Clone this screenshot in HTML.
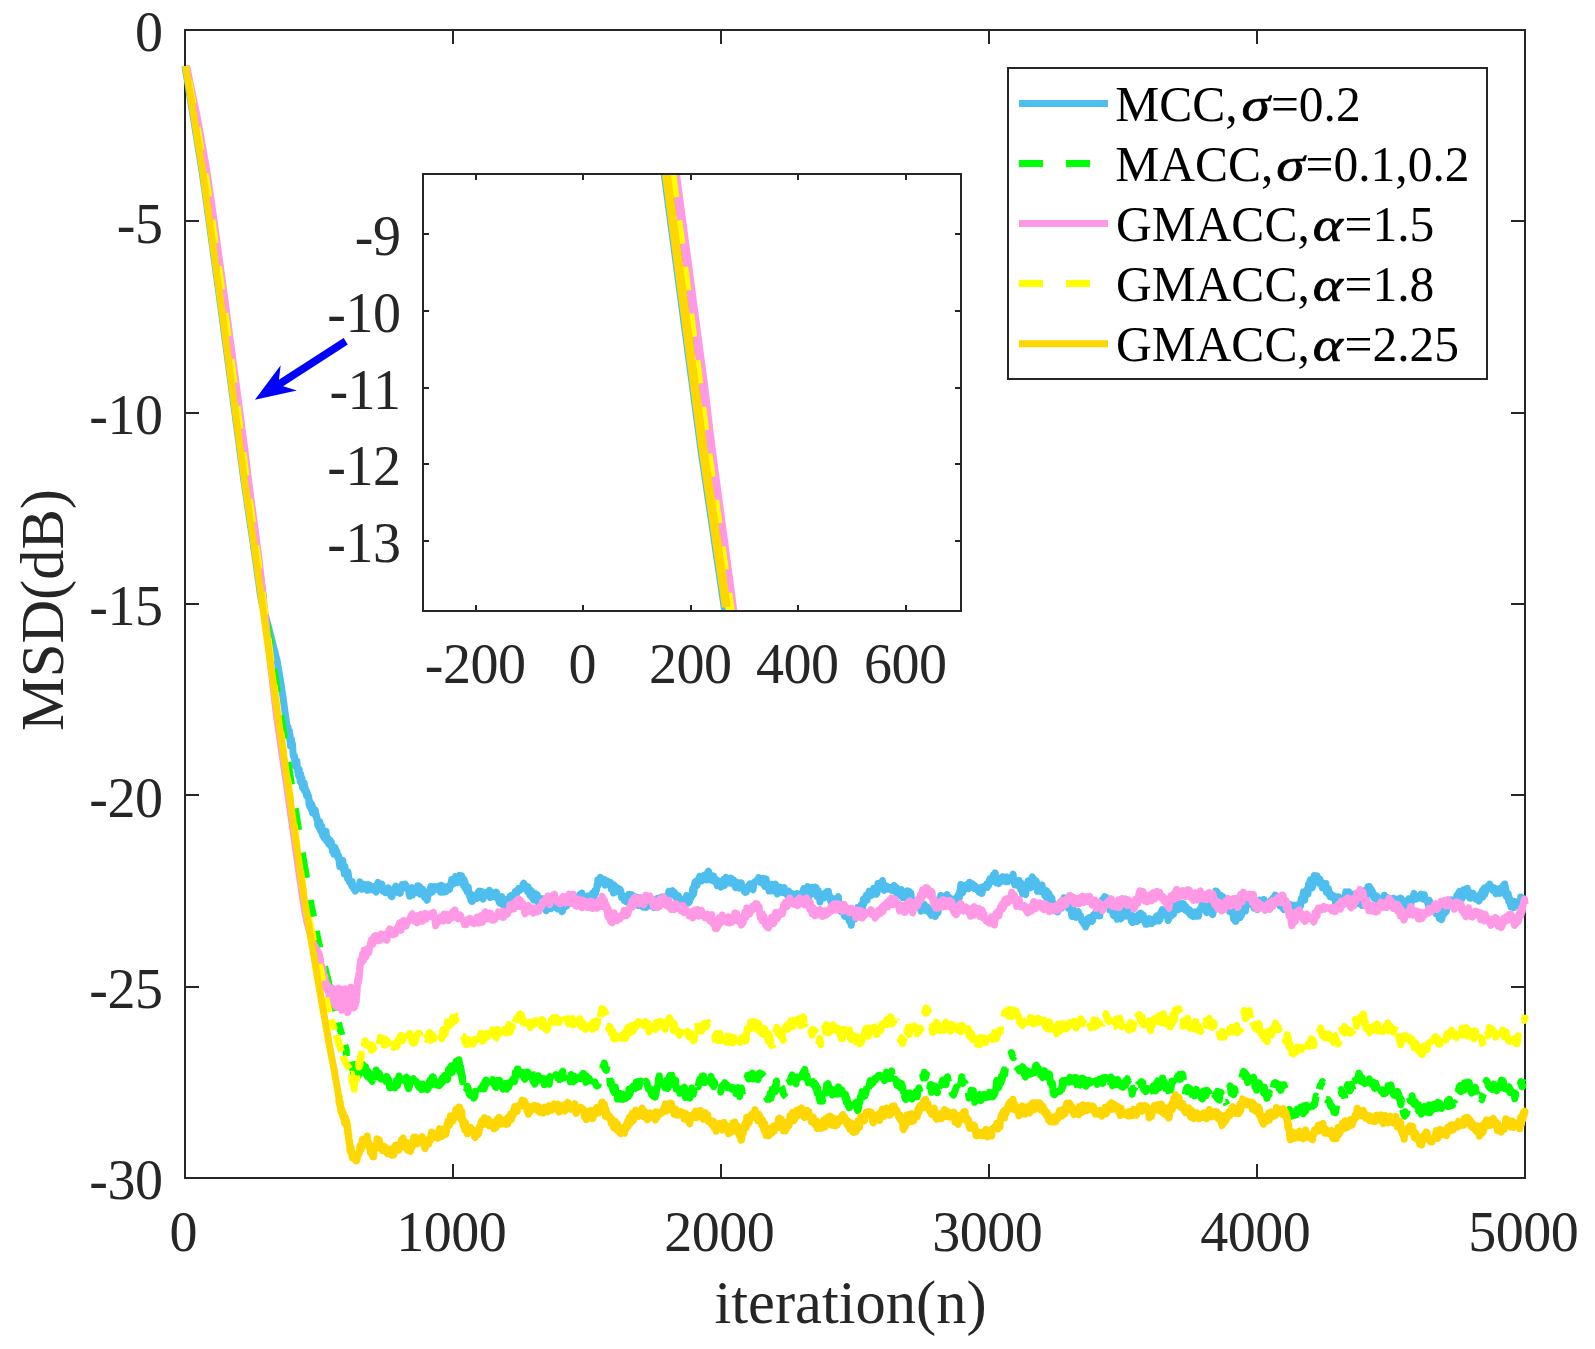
<!DOCTYPE html>
<html lang="en"><head><meta charset="utf-8"><title>MSD learning curves</title>
<style>html,body{margin:0;padding:0;background:#fff}svg{display:block}</style>
</head><body>
<svg width="1595" height="1349" viewBox="0 0 1595 1349" role="img" aria-label="MSD(dB) versus iteration(n) learning curves">
<defs><clipPath id="cm"><rect x="181.0" y="30.0" width="1348.0" height="1148.0"/></clipPath>
<clipPath id="ci"><rect x="423.0" y="174.0" width="538.0" height="437.0"/></clipPath></defs>
<rect x="0" y="0" width="1595" height="1349" fill="#ffffff"/>
<g stroke="#262626" stroke-width="2" fill="none">
<rect x="185.0" y="30.0" width="1340.0" height="1148.0"/>
<path d="M453.0 1178.0v-14.0M453.0 30.0v14.0M721.0 1178.0v-14.0M721.0 30.0v14.0M989.0 1178.0v-14.0M989.0 30.0v14.0M1257.0 1178.0v-14.0M1257.0 30.0v14.0M185.0 987.0h14.0M1525.0 987.0h-14.0M185.0 795.0h14.0M1525.0 795.0h-14.0M185.0 604.0h14.0M1525.0 604.0h-14.0M185.0 413.0h14.0M1525.0 413.0h-14.0M185.0 221.0h14.0M1525.0 221.0h-14.0"/>
</g>
<g clip-path="url(#cm)" fill="none" stroke-width="7.0" stroke-linejoin="round">
<polyline stroke="#4DBEEE" points="185.0,66.1 186.3,74.1 187.6,82.1 188.9,90.1 190.2,98.1 191.5,106.1 192.8,114.1 194.1,122.1 195.4,130.1 196.7,138.1 198.0,146.1 199.3,154.1 200.6,162.1 201.9,170.1 203.0,178.1 204.2,186.1 205.3,194.1 206.4,202.1 207.5,210.1 208.6,218.1 209.7,226.1 210.8,234.1 211.9,242.1 213.0,250.1 214.1,258.1 215.2,266.1 216.3,274.1 217.4,282.1 218.5,290.1 219.6,298.1 220.7,306.1 221.7,314.1 222.8,322.1 223.9,330.1 224.9,338.1 226.0,346.1 227.1,354.1 228.1,362.1 229.2,370.1 230.3,378.1 231.3,386.1 232.4,394.1 233.4,402.1 234.5,410.1 235.6,418.1 236.6,426.1 237.7,434.1 238.8,442.1 239.8,450.1 240.9,458.1 242.0,466.1 243.0,474.1 244.1,482.1 245.3,490.1 246.5,498.1 247.6,506.1 248.8,514.1 250.0,522.1 251.2,530.1 252.4,538.1 253.5,546.1 254.7,554.1 255.9,562.1 257.0,570.1 258.1,578.1 259.2,586.1 260.3,594.1 261.7,602.1 263.9,610.1 266.2,618.1 268.3,626.1 270.4,634.1 272.4,642.1 274.4,650.1 276.5,658.1 277.2,661.0 281.4,686.0 286.7,724.0 286.9,725.4 287.1,730.1 287.4,727.6 287.6,728.2 287.8,729.8 288.0,727.0 288.3,730.2 288.5,732.9 288.7,735.9 288.9,730.6 289.2,732.1 289.4,731.1 289.6,738.5 289.8,740.0 290.0,734.8 290.3,743.3 290.5,746.0 290.7,744.4 290.9,744.3 291.2,740.7 291.4,739.1 291.6,744.4 291.8,741.9 292.0,743.3 292.3,744.9 292.5,744.0 292.7,748.6 292.9,750.3 293.2,755.3 293.4,754.2 293.6,755.8 293.8,755.6 294.1,757.8 294.3,757.1 294.6,756.0 294.9,763.3 295.2,765.8 295.5,765.7 295.7,765.1 296.0,761.9 296.3,761.0 296.6,762.1 296.9,760.9 297.2,768.1 297.5,767.1 297.8,771.8 298.1,769.3 298.3,774.9 298.6,775.9 298.9,768.8 299.2,769.7 299.5,777.4 299.8,775.8 300.1,781.0 300.4,777.4 300.7,774.2 300.9,779.4 301.2,782.8 301.5,779.5 301.8,777.7 302.2,780.3 302.5,787.7 302.9,788.2 303.3,782.9 303.6,783.6 304.0,783.0 304.3,783.2 304.7,791.0 305.1,787.7 305.4,791.2 305.8,791.8 306.1,790.1 306.5,795.6 306.9,791.9 307.2,796.6 307.6,793.4 308.0,796.2 308.3,795.6 308.7,796.7 309.0,804.4 309.4,805.5 309.8,801.6 310.1,806.9 310.5,802.5 310.9,803.8 311.3,809.3 311.7,809.3 312.1,804.8 312.5,812.9 312.9,808.1 313.3,808.0 313.7,813.6 314.1,811.5 314.5,811.3 314.9,809.8 315.4,810.3 315.8,815.8 316.2,814.6 316.6,818.4 317.0,817.9 317.4,819.2 317.8,825.1 318.2,822.7 318.6,823.6 319.0,827.4 319.4,822.4 319.8,821.6 320.2,829.3 320.6,831.0 321.1,826.7 321.6,825.7 322.1,831.3 322.6,835.3 323.1,829.8 323.6,836.3 324.1,838.0 324.6,836.4 325.1,834.9 325.6,832.1 326.1,831.4 326.6,840.8 327.1,836.8 327.6,840.9 328.1,838.3 328.6,843.8 329.1,843.6 329.6,841.3 330.1,840.2 330.6,845.8 331.1,841.6 331.6,842.8 332.0,846.9 332.5,851.4 333.0,850.9 333.5,848.2 334.0,854.3 334.5,849.7 335.0,847.3 335.5,849.8 335.9,852.8 336.4,850.5 336.9,851.7 337.4,854.5 337.9,857.8 338.4,855.1 338.9,857.3 339.3,863.5 339.8,866.6 340.3,864.9 340.8,865.5 341.4,865.2 341.9,861.6 342.4,860.3 342.9,860.4 343.4,869.7 343.9,870.6 344.4,874.0 344.9,866.5 345.4,871.1 345.9,871.5 346.4,874.6 347.0,872.1 347.5,878.6 348.0,872.0 348.5,875.5 349.0,878.9 349.5,882.0 350.0,881.8 350.5,882.1 351.1,883.6 351.6,885.8 352.1,881.6 352.7,884.4 353.2,887.8 353.7,889.0 354.3,885.6 354.8,888.9 355.3,891.1 355.8,889.5 356.6,889.3 357.5,886.4 358.3,887.2 359.2,887.3 360.0,881.9 360.9,885.5 361.8,889.4 362.6,888.9 363.5,887.3 364.2,884.3 365.0,887.4 365.8,887.2 366.5,886.2 367.3,890.3 368.1,884.6 368.8,890.0 369.6,884.9 370.4,889.6 371.3,889.1 372.3,886.4 373.2,889.9 374.2,888.7 375.1,889.2 376.1,892.1 377.0,886.2 378.0,882.4 379.0,884.4 380.0,888.6 380.9,885.2 381.9,884.2 382.9,891.1 383.9,890.6 384.9,888.6 385.8,892.8 386.7,888.8 387.5,891.4 388.4,887.9 389.3,889.6 390.2,893.9 391.1,896.4 392.0,896.7 392.9,891.5 393.8,891.8 394.7,889.0 395.6,886.2 396.5,888.6 397.4,892.2 398.3,892.8 399.2,891.5 400.2,893.3 401.2,887.2 402.2,884.5 403.2,886.4 404.1,885.1 405.1,884.1 406.1,885.8 406.8,888.9 407.5,889.0 408.2,887.8 408.9,893.1 409.6,896.3 410.3,892.5 411.0,888.5 411.7,887.6 412.5,895.0 413.4,888.4 414.3,892.8 415.1,892.2 416.0,889.2 416.8,892.6 417.7,885.7 418.4,885.8 419.1,889.4 419.8,886.7 420.5,894.3 421.2,891.1 422.0,889.9 422.7,889.2 423.4,895.1 424.1,895.4 424.8,897.8 425.5,898.0 426.3,899.0 427.1,900.2 427.8,897.4 428.6,891.6 429.4,892.3 430.2,889.1 430.9,886.3 431.7,889.5 432.5,892.1 433.2,887.2 434.0,886.4 434.8,886.4 435.6,889.4 436.4,887.9 437.1,888.0 437.9,888.9 438.8,886.3 439.6,889.8 440.5,892.2 441.4,885.3 442.2,892.1 443.1,892.2 443.9,886.8 444.6,887.8 445.3,889.1 446.0,891.7 446.7,886.7 447.5,886.7 448.2,889.2 448.9,888.5 449.6,889.2 450.3,884.2 451.0,884.3 451.7,879.5 452.5,882.8 453.3,884.1 454.0,882.2 454.8,882.0 455.5,876.6 456.3,881.3 457.1,882.8 457.8,882.7 458.6,877.9 459.3,878.7 459.8,875.4 460.3,880.9 460.8,882.4 461.3,878.6 461.7,875.7 462.2,879.1 462.7,881.7 463.2,885.1 463.6,883.9 464.1,879.8 464.6,887.0 465.1,882.3 465.6,888.8 466.0,885.1 466.5,886.4 467.1,891.6 467.6,887.4 468.2,887.0 468.7,891.1 469.3,894.7 469.9,897.3 470.4,897.2 471.0,900.2 471.5,897.3 472.1,901.5 472.6,894.9 473.2,895.2 473.8,898.3 474.4,896.0 475.0,899.0 475.7,898.3 476.3,896.5 477.0,898.5 477.6,895.7 478.3,892.1 478.9,891.3 479.5,895.0 480.4,897.1 481.3,891.3 482.2,896.4 483.1,899.1 484.0,895.8 484.9,895.8 485.8,892.6 486.7,895.3 487.6,895.1 488.6,895.8 489.5,890.2 490.4,897.5 491.3,894.7 492.3,892.6 493.1,896.3 494.0,895.5 494.8,895.0 495.6,897.2 496.5,892.1 497.3,895.8 498.1,896.0 499.0,901.6 499.8,903.2 500.5,897.8 501.2,899.0 501.9,896.5 502.6,899.3 503.3,904.3 504.0,906.8 504.7,903.9 505.4,902.2 506.2,900.1 507.0,903.1 507.7,906.3 508.5,899.0 509.3,902.9 510.0,896.1 510.8,895.6 511.6,895.3 512.3,899.2 513.1,896.1 513.8,895.1 514.5,896.9 515.2,891.9 515.9,896.1 516.6,890.8 517.3,892.6 518.0,890.1 518.7,888.4 519.4,890.7 520.1,889.8 520.8,888.5 521.6,887.9 522.3,888.4 523.0,884.4 523.7,883.3 524.4,886.6 525.1,887.0 525.8,885.6 526.4,889.3 527.0,888.5 527.5,891.3 528.1,886.6 528.7,890.9 529.3,893.3 529.9,895.4 530.4,890.9 531.0,890.4 531.6,896.7 532.3,892.0 533.0,898.9 533.7,900.0 534.4,893.6 535.1,893.6 535.8,898.8 536.5,896.1 537.2,894.4 537.9,901.6 538.7,900.0 539.5,903.5 540.3,898.4 541.1,900.2 542.0,903.8 542.8,898.7 543.6,899.6 544.4,904.9 545.3,908.8 546.1,910.7 547.1,903.2 548.0,905.3 549.0,908.4 549.9,907.0 550.9,908.7 551.8,904.5 552.8,902.6 553.7,902.6 554.7,902.1 555.7,907.1 556.7,908.1 557.7,909.0 558.7,905.3 559.5,904.4 560.3,903.8 561.1,909.3 561.8,911.6 562.6,911.2 563.4,902.6 564.2,899.6 565.0,907.0 565.9,903.9 566.8,905.8 567.8,901.8 568.7,901.8 569.6,902.0 570.5,901.0 571.5,902.1 572.4,896.4 573.3,901.3 574.3,903.7 575.2,897.6 576.1,898.4 577.1,901.1 578.0,898.4 579.0,895.6 580.0,894.4 580.9,897.2 581.9,893.0 582.9,900.2 583.8,900.9 584.8,900.0 585.8,901.1 586.7,898.9 587.7,896.0 588.6,896.9 589.6,895.9 590.5,900.1 591.5,899.1 592.4,893.4 593.4,898.0 593.8,896.7 594.1,896.0 594.5,895.5 594.9,890.8 595.2,893.6 595.6,893.4 596.0,890.9 596.4,890.3 596.7,889.4 597.1,885.1 597.5,886.3 597.8,879.7 598.4,880.1 599.3,881.4 600.3,877.3 601.3,879.4 602.3,882.5 603.3,883.0 604.3,879.3 605.3,885.1 606.2,884.1 607.2,880.9 608.2,883.4 609.1,883.3 610.1,883.2 610.6,882.5 611.2,888.8 611.8,887.6 612.4,888.5 612.9,889.9 613.5,893.0 614.1,885.1 614.6,889.5 615.2,892.4 615.8,889.1 616.4,890.3 617.1,887.6 618.0,888.6 618.9,891.0 619.8,889.2 620.7,890.6 621.6,897.5 622.5,896.2 623.4,895.8 624.3,900.4 625.2,897.9 626.2,901.6 627.1,899.4 628.1,900.7 629.0,894.2 630.0,897.8 630.9,900.5 631.8,894.7 632.7,902.1 633.6,896.9 634.5,898.9 635.4,896.8 636.3,899.8 637.2,902.0 638.1,897.6 638.8,905.6 639.5,903.1 640.2,904.0 640.9,905.4 641.6,904.1 642.3,903.5 643.1,907.1 644.1,906.9 645.1,904.1 646.1,907.5 647.1,904.2 648.1,900.5 649.1,901.8 650.1,900.0 651.1,900.6 652.1,906.4 652.9,903.9 653.7,907.6 654.5,906.7 655.3,899.4 656.1,906.1 657.0,906.9 657.8,898.3 658.6,903.7 659.4,900.1 660.2,899.2 661.1,903.3 661.9,897.0 662.8,897.7 663.7,901.5 664.5,900.0 665.4,896.8 666.3,900.6 667.1,899.6 668.0,896.9 668.9,891.2 669.8,895.1 670.8,894.7 671.7,892.5 672.7,890.7 673.6,895.0 674.6,892.5 675.5,895.1 676.4,898.3 677.3,897.4 678.2,895.6 679.1,898.6 680.0,898.1 680.9,901.8 681.8,900.6 682.7,905.2 683.7,905.8 684.6,903.7 685.6,898.3 686.6,895.6 687.6,902.3 688.6,902.8 689.6,901.3 690.3,897.9 690.6,895.4 690.9,898.1 691.2,896.8 691.6,896.1 691.9,895.6 692.2,895.9 692.5,889.9 692.8,888.2 693.1,894.1 693.5,894.2 693.8,893.2 694.5,884.4 695.1,881.8 695.8,882.6 696.4,883.7 697.1,885.4 697.7,880.2 698.4,882.5 699.0,878.1 699.7,876.5 700.3,881.2 701.0,880.7 701.8,880.9 702.7,878.1 703.5,878.0 704.3,875.0 705.2,875.1 706.0,878.5 706.8,879.9 707.7,872.5 708.5,871.3 709.4,878.1 710.3,878.4 711.1,880.2 712.0,875.7 712.9,877.0 713.7,876.1 714.6,881.5 715.5,879.0 716.3,881.5 717.2,885.7 718.1,880.7 719.0,881.9 719.9,884.4 720.8,887.1 721.7,883.4 722.6,882.2 723.5,879.5 724.4,885.7 725.2,879.2 726.1,877.3 726.9,881.0 727.8,880.8 728.6,882.3 729.5,878.8 730.2,883.2 731.0,878.1 731.8,878.6 732.6,883.5 733.3,879.6 734.1,881.3 734.9,886.2 735.6,887.6 736.4,884.5 737.4,882.4 738.4,884.1 739.4,888.1 740.3,885.8 741.3,882.9 742.3,888.0 743.3,888.0 744.3,891.5 745.3,892.4 746.2,892.2 747.2,887.3 748.2,889.4 749.1,884.9 750.1,883.7 751.0,884.0 752.0,889.0 753.0,889.7 753.8,883.2 754.6,882.2 755.4,881.5 756.2,880.9 757.0,880.6 757.9,880.0 758.7,877.6 759.5,880.1 760.3,882.5 761.1,880.2 761.9,883.0 762.6,881.7 763.3,878.2 764.0,883.4 764.7,886.4 765.4,881.9 766.1,878.9 766.8,883.4 767.5,885.3 768.2,886.5 769.1,891.0 770.0,889.4 770.9,890.7 771.8,884.2 772.7,887.6 773.7,891.0 774.6,885.4 775.5,884.3 776.4,890.6 777.4,893.9 778.4,887.0 779.3,890.6 780.3,887.0 781.3,892.0 782.3,892.4 783.3,888.8 784.3,887.8 785.2,893.1 786.1,892.4 787.0,894.8 788.0,892.1 788.9,891.2 789.8,897.3 790.8,895.9 791.8,893.8 792.8,893.7 793.8,895.5 794.8,895.8 795.8,897.8 796.8,893.5 797.6,895.9 798.4,894.4 799.2,895.4 799.9,894.7 800.7,894.3 801.5,894.2 802.2,894.4 803.0,890.9 803.8,888.5 804.5,889.9 805.3,891.8 806.1,889.0 806.9,888.8 807.7,886.6 808.5,892.2 809.2,896.5 810.0,892.1 810.9,888.4 811.8,887.5 812.7,889.1 813.6,887.8 814.5,893.7 815.1,887.0 815.7,888.5 816.2,887.6 816.7,893.1 817.2,896.4 817.8,892.1 818.3,890.6 818.8,894.6 819.4,897.5 819.9,901.9 820.4,895.3 821.1,894.2 821.9,894.1 822.8,894.0 823.6,893.7 824.4,897.9 825.3,897.3 826.1,893.2 826.9,891.4 827.8,891.4 828.4,891.3 828.9,897.5 829.5,895.4 830.1,897.7 830.7,901.5 831.3,899.8 831.8,897.9 832.4,904.1 833.0,906.5 833.6,902.2 834.5,902.9 835.4,906.8 836.4,903.0 837.4,899.4 838.3,896.6 838.9,905.4 839.3,906.9 839.8,903.9 840.2,905.2 840.6,906.1 841.1,904.7 841.5,911.8 842.0,911.1 842.4,907.6 842.9,905.2 843.3,909.7 843.8,910.5 844.2,915.5 844.8,916.5 845.5,916.2 846.2,912.4 847.0,911.9 847.7,913.9 848.4,914.4 849.1,920.9 849.8,919.6 850.5,921.0 851.2,925.3 851.8,919.1 852.4,919.3 852.9,915.1 853.5,919.3 854.0,912.4 854.6,917.9 855.1,918.9 855.7,918.3 856.3,910.4 856.8,909.6 857.4,913.1 857.9,907.4 858.5,909.0 859.0,908.7 859.5,912.6 860.1,909.4 860.6,910.6 861.1,904.9 861.7,907.5 862.2,904.0 862.7,907.3 863.3,899.5 863.8,904.0 864.3,898.6 864.9,899.8 865.6,899.5 866.3,895.3 867.1,900.2 867.8,895.9 868.5,894.3 869.2,891.1 869.9,892.0 870.6,893.3 871.4,895.5 872.2,892.2 872.9,894.0 873.7,888.4 874.5,889.3 875.3,889.8 876.1,894.2 876.8,893.5 877.4,891.0 878.0,883.6 878.6,884.7 879.2,887.5 879.8,883.1 880.6,885.0 881.6,884.5 882.5,880.5 883.3,889.4 884.1,890.2 885.0,885.1 885.8,888.2 886.6,886.2 887.5,887.0 888.3,889.2 889.1,887.7 890.1,887.4 891.1,887.8 892.1,890.4 893.1,886.9 894.1,885.4 895.1,890.0 896.1,887.2 896.7,893.2 897.3,891.6 898.0,893.3 898.6,890.5 899.3,895.2 899.9,889.9 900.6,889.6 901.2,889.6 901.8,895.8 902.7,897.6 903.7,892.7 904.7,893.5 905.6,897.7 906.6,896.3 907.6,890.9 908.4,891.4 909.0,891.5 909.7,891.8 910.3,895.1 910.9,893.3 911.6,901.6 912.2,899.5 912.9,900.4 913.5,902.5 914.2,904.7 915.0,906.1 915.9,902.7 916.7,901.7 917.5,902.7 918.4,899.5 919.2,902.9 920.0,907.0 920.9,911.1 921.7,910.7 922.5,909.8 923.4,909.5 924.2,904.2 925.0,906.3 925.9,907.3 926.7,911.0 927.5,907.0 928.4,909.0 929.4,910.8 930.4,914.0 931.4,915.3 932.3,913.6 933.3,909.0 934.3,913.8 935.3,916.4 936.3,913.7 936.7,910.4 937.1,910.2 937.4,906.0 937.8,909.7 938.1,912.6 938.4,908.1 938.8,908.2 939.1,908.6 939.5,901.9 939.8,906.7 940.2,904.2 940.5,898.7 940.8,895.5 941.2,895.6 942.0,898.4 942.8,899.9 943.7,896.3 944.5,900.8 945.3,896.8 946.2,897.3 947.0,894.6 947.8,902.4 948.7,896.8 949.5,903.2 950.3,901.7 951.2,901.9 952.0,902.3 952.9,899.0 953.9,904.1 954.8,905.9 955.7,904.4 956.6,901.7 957.6,896.1 958.0,900.8 958.4,896.0 958.7,900.0 959.0,894.0 959.3,894.9 959.6,896.9 959.9,890.5 960.2,891.7 960.6,886.8 960.9,884.4 961.2,884.5 961.8,891.8 962.6,892.8 963.5,890.0 964.4,885.5 965.2,887.5 966.1,888.3 966.9,884.6 967.8,885.9 968.7,888.7 969.6,882.2 970.5,882.7 971.4,885.7 972.3,883.7 973.2,885.8 974.1,888.5 974.9,885.7 975.8,888.7 976.7,887.4 977.5,890.4 978.4,889.3 979.2,892.3 980.1,887.7 980.7,892.1 981.3,887.4 981.9,893.4 982.5,890.9 983.1,888.4 983.7,886.6 984.2,887.6 984.8,887.8 985.4,887.9 986.0,887.3 986.6,884.0 987.2,887.5 987.9,886.3 988.5,885.6 989.2,880.6 989.9,879.0 990.5,879.3 991.2,882.0 991.8,878.5 992.5,877.1 993.1,875.2 993.8,879.6 994.5,875.7 995.2,872.8 995.9,879.0 996.6,882.8 997.3,882.6 998.0,881.8 998.7,883.6 999.5,880.2 1000.5,882.0 1001.5,877.4 1002.5,876.8 1003.5,879.7 1004.5,881.0 1005.5,880.3 1006.5,876.8 1007.4,881.8 1008.4,881.1 1009.3,878.0 1010.3,877.6 1011.2,878.1 1012.2,876.5 1013.1,874.2 1014.0,882.0 1014.9,884.9 1015.7,883.2 1016.6,885.0 1017.5,881.6 1018.3,884.8 1019.2,880.4 1019.7,885.0 1020.2,885.1 1020.6,889.1 1021.0,883.0 1021.4,888.9 1021.8,884.6 1022.2,888.2 1022.6,893.7 1023.0,886.7 1023.4,888.0 1023.8,889.5 1024.2,890.8 1024.7,887.6 1025.2,894.1 1025.7,894.4 1026.2,889.7 1026.7,887.6 1027.2,888.6 1027.7,883.0 1028.2,880.8 1028.7,887.9 1029.2,883.4 1029.8,883.4 1030.3,887.0 1030.8,887.6 1031.3,882.3 1031.8,877.8 1032.3,876.8 1032.8,882.8 1033.4,884.8 1034.0,879.2 1034.6,884.6 1035.1,881.9 1035.7,883.0 1036.3,881.0 1036.9,887.9 1037.5,891.3 1038.0,885.2 1038.7,888.3 1039.5,885.2 1040.4,891.5 1041.2,885.5 1042.0,885.0 1042.8,891.2 1043.7,889.2 1044.5,894.8 1045.3,896.3 1046.0,895.8 1046.5,890.8 1047.0,895.5 1047.6,899.7 1048.1,896.6 1048.6,893.0 1049.1,894.1 1049.7,895.8 1050.2,900.7 1050.7,897.7 1051.3,897.4 1051.9,898.5 1052.5,903.4 1053.1,906.4 1053.8,903.7 1054.4,906.4 1055.1,909.8 1055.7,908.4 1056.3,905.2 1057.0,905.6 1057.6,912.0 1058.3,910.2 1059.0,905.5 1059.8,907.3 1060.5,901.9 1061.2,908.6 1061.9,904.6 1062.6,903.9 1063.3,903.2 1064.0,897.8 1064.7,901.6 1065.3,900.4 1065.9,900.4 1066.5,906.2 1067.1,901.4 1067.7,902.7 1068.3,908.2 1068.9,905.3 1069.5,905.4 1070.1,908.7 1070.7,906.6 1071.3,913.5 1072.0,916.6 1072.9,908.5 1073.8,910.9 1074.7,914.6 1075.6,912.4 1076.4,917.4 1077.3,914.8 1078.2,911.5 1079.0,914.7 1079.7,917.0 1080.3,915.4 1081.0,918.4 1081.6,920.9 1082.3,919.6 1082.9,919.7 1083.6,923.5 1084.2,923.5 1084.9,922.5 1085.6,927.0 1086.3,920.6 1087.0,924.2 1087.8,918.7 1088.6,921.1 1089.3,917.6 1090.1,918.2 1090.9,921.1 1091.6,921.5 1092.4,921.1 1093.2,915.3 1094.1,916.0 1095.0,913.3 1096.0,915.8 1096.9,915.4 1097.8,910.6 1098.8,914.5 1099.2,915.9 1099.5,914.1 1099.8,915.8 1100.1,908.9 1100.4,906.2 1100.7,903.5 1101.0,906.7 1101.3,906.2 1101.6,905.4 1101.9,902.8 1102.1,906.5 1102.4,899.8 1102.7,905.4 1103.0,902.8 1103.3,901.2 1103.6,902.5 1104.1,897.9 1104.7,896.6 1105.3,898.5 1105.8,897.0 1106.4,899.9 1107.0,904.1 1107.6,904.9 1108.2,903.2 1108.7,906.5 1109.3,903.1 1109.9,909.9 1110.6,905.9 1111.2,906.3 1111.9,906.0 1112.5,911.6 1113.2,915.0 1113.8,915.9 1114.5,909.8 1115.1,912.2 1115.8,912.9 1116.4,912.2 1117.2,919.3 1118.1,911.6 1119.0,913.7 1119.9,916.5 1120.8,919.0 1121.7,911.2 1122.6,911.9 1123.5,914.5 1124.4,908.5 1125.3,909.4 1126.2,916.2 1127.0,911.1 1127.9,912.5 1128.8,912.4 1129.4,914.2 1130.0,911.9 1130.7,911.5 1131.3,921.2 1131.9,922.0 1132.5,922.5 1133.1,918.4 1133.9,917.3 1134.7,919.3 1135.4,916.3 1136.2,917.2 1137.0,921.5 1137.8,916.7 1138.6,914.7 1139.3,920.0 1140.1,918.5 1140.9,913.1 1141.7,915.7 1142.5,919.2 1143.2,914.9 1144.0,917.0 1144.8,921.4 1145.7,924.2 1146.6,922.0 1147.6,924.1 1148.6,920.4 1149.5,918.6 1150.4,922.7 1151.2,919.9 1151.9,923.6 1152.7,919.5 1153.5,920.3 1154.2,919.3 1154.8,921.7 1155.4,918.0 1156.0,916.8 1156.6,916.0 1157.2,917.7 1157.8,915.9 1158.4,916.2 1159.0,921.0 1159.6,918.5 1160.2,919.1 1160.8,912.3 1161.5,911.9 1162.2,909.6 1163.0,915.4 1163.8,914.2 1164.6,913.5 1165.4,911.4 1166.1,912.9 1166.9,914.5 1167.6,915.8 1168.2,920.5 1168.8,919.0 1169.3,913.8 1169.9,912.7 1170.5,909.9 1171.1,916.1 1171.7,911.5 1172.2,913.6 1172.8,913.1 1173.5,914.3 1174.4,905.8 1175.3,906.2 1176.2,906.6 1177.1,903.5 1178.0,910.0 1178.9,906.0 1179.8,908.9 1180.6,907.3 1181.4,903.1 1182.2,905.7 1182.9,905.4 1183.7,903.9 1184.5,905.1 1185.2,910.1 1186.0,906.4 1186.8,908.7 1187.6,910.8 1188.5,912.7 1189.4,909.6 1190.3,914.5 1191.2,911.8 1192.1,915.9 1193.1,916.6 1194.0,912.1 1194.9,911.8 1195.8,912.7 1196.5,916.3 1197.2,913.7 1197.9,912.4 1198.6,916.1 1199.3,910.4 1200.1,909.0 1200.8,908.7 1201.5,906.8 1202.2,904.1 1202.9,902.8 1203.8,908.1 1204.8,908.6 1205.7,910.8 1206.7,912.7 1207.6,906.5 1208.6,908.2 1209.5,910.8 1210.3,905.0 1210.9,908.9 1211.5,910.2 1212.1,913.9 1212.7,914.6 1213.3,909.3 1213.6,911.4 1213.8,905.8 1213.9,906.9 1214.1,906.1 1214.2,901.9 1214.3,903.2 1214.5,902.3 1214.6,902.9 1214.8,900.3 1214.9,897.7 1215.1,898.7 1215.2,898.9 1215.3,895.2 1215.5,898.3 1215.6,894.3 1215.8,891.1 1215.9,892.0 1216.5,893.6 1217.2,892.0 1217.9,896.2 1218.6,899.0 1219.3,898.8 1220.0,900.7 1220.7,895.2 1221.4,897.9 1222.1,898.8 1222.9,896.7 1223.6,900.0 1224.3,897.9 1225.0,902.2 1225.7,904.7 1226.4,904.7 1227.1,903.9 1227.8,903.5 1228.5,901.7 1229.2,904.9 1229.7,911.6 1230.3,910.8 1230.8,908.3 1231.4,912.2 1231.9,909.2 1232.5,911.7 1233.0,914.4 1233.6,919.0 1234.2,915.0 1234.7,916.7 1235.3,921.3 1235.8,921.4 1236.4,919.9 1237.1,918.7 1237.7,915.8 1238.3,914.5 1239.0,912.3 1239.6,916.5 1240.3,917.4 1240.9,912.3 1241.5,915.5 1242.2,907.4 1242.8,905.7 1243.5,908.3 1244.1,906.4 1244.7,905.9 1245.4,911.1 1246.0,903.9 1246.7,901.9 1247.3,901.2 1247.9,904.8 1248.8,902.0 1249.7,899.4 1250.6,904.3 1251.5,904.4 1252.4,903.3 1253.3,905.8 1254.2,908.3 1255.1,908.2 1255.7,908.0 1256.2,906.8 1256.8,908.4 1257.4,909.6 1258.0,903.1 1258.6,901.0 1259.2,905.1 1259.7,900.0 1260.3,902.0 1260.9,901.7 1261.6,902.0 1262.4,905.4 1263.2,905.3 1263.9,899.4 1264.7,902.8 1265.5,902.9 1266.2,904.1 1267.0,903.0 1267.8,902.5 1268.6,906.6 1269.4,905.0 1270.2,901.4 1271.1,900.1 1271.9,900.1 1272.7,898.3 1273.6,900.7 1274.4,897.1 1275.2,895.2 1276.1,895.5 1276.9,896.3 1277.7,902.7 1278.6,899.0 1279.4,901.7 1280.2,905.9 1281.1,904.6 1281.9,901.6 1282.8,907.9 1283.8,909.6 1284.8,902.3 1285.7,902.5 1286.7,905.1 1287.7,908.6 1288.7,905.8 1289.7,908.3 1290.7,904.6 1291.7,908.3 1292.6,905.6 1293.6,905.2 1294.6,909.3 1295.5,911.1 1296.2,910.7 1296.9,907.6 1297.7,904.9 1298.4,906.4 1299.1,905.5 1299.8,906.7 1300.5,906.2 1301.2,899.0 1301.7,899.0 1302.1,901.1 1302.6,896.8 1303.0,894.6 1303.5,891.7 1303.9,895.8 1304.4,899.6 1304.8,900.1 1305.3,891.6 1305.7,894.1 1306.2,891.4 1306.6,892.2 1307.1,889.4 1307.5,893.2 1308.0,894.0 1308.4,884.5 1309.0,888.0 1309.7,882.6 1310.3,879.9 1311.0,881.0 1311.7,885.0 1312.3,888.0 1313.0,879.8 1313.6,879.2 1314.3,875.5 1315.0,879.0 1315.6,878.7 1316.3,877.1 1317.0,875.8 1317.7,880.9 1318.5,883.1 1319.3,878.8 1320.0,879.2 1320.8,881.9 1321.6,884.5 1322.3,887.7 1323.1,883.3 1323.9,885.6 1324.3,885.5 1324.7,888.6 1325.1,883.8 1325.5,883.6 1325.9,883.6 1326.3,892.2 1326.7,888.5 1327.1,890.5 1327.5,888.1 1327.9,890.2 1328.4,888.5 1328.8,893.9 1329.5,891.8 1330.1,896.5 1330.7,894.8 1331.4,894.6 1332.0,897.5 1332.7,897.7 1333.3,897.3 1333.9,895.8 1334.6,896.1 1335.6,903.8 1336.6,900.0 1337.6,896.7 1338.5,896.7 1339.5,899.5 1340.5,905.0 1341.5,898.6 1342.3,902.9 1343.0,899.7 1343.7,897.7 1344.4,900.4 1345.1,896.6 1345.8,891.9 1346.5,894.9 1347.2,896.2 1347.9,895.6 1348.6,891.7 1349.3,897.5 1349.9,899.0 1350.6,901.2 1351.2,897.0 1351.9,900.2 1352.5,900.6 1353.2,896.0 1353.8,894.0 1354.5,895.4 1355.1,895.8 1355.8,896.1 1356.7,899.0 1357.7,903.6 1358.7,900.7 1359.7,902.1 1360.6,897.7 1361.6,898.7 1362.2,905.4 1362.5,897.3 1362.9,899.5 1363.3,902.1 1363.7,901.8 1364.1,900.5 1364.5,896.3 1364.8,898.4 1365.2,898.5 1365.6,897.3 1366.0,898.3 1366.4,889.4 1366.8,894.7 1367.2,890.0 1367.5,891.1 1368.0,886.8 1368.7,892.9 1369.4,886.4 1370.1,890.6 1370.9,888.9 1371.6,890.5 1372.3,891.3 1373.0,894.7 1373.7,897.6 1374.2,894.7 1374.7,897.3 1375.2,895.9 1375.6,895.4 1376.1,902.0 1376.6,898.7 1377.1,896.3 1377.6,898.7 1378.1,903.9 1378.6,900.7 1379.0,905.7 1379.5,905.7 1380.2,906.5 1380.9,901.3 1381.6,898.7 1382.3,897.9 1383.0,899.2 1383.7,899.7 1384.4,895.3 1385.1,898.4 1385.9,898.0 1386.9,897.5 1387.8,899.7 1388.7,904.5 1389.7,898.8 1390.6,904.0 1391.6,900.2 1392.5,903.7 1393.5,898.2 1394.5,905.1 1395.5,901.4 1396.5,905.4 1397.5,899.2 1398.5,899.3 1399.4,902.1 1400.3,898.0 1401.1,898.5 1401.9,903.0 1402.6,907.1 1403.4,902.6 1404.2,900.7 1405.0,902.3 1405.8,909.2 1406.4,902.0 1407.1,904.3 1407.7,901.8 1408.4,903.2 1409.0,898.8 1409.7,901.0 1410.3,903.6 1411.0,903.4 1411.6,900.6 1412.3,898.1 1413.0,897.6 1414.0,893.3 1415.0,899.1 1416.0,899.2 1417.0,896.9 1418.0,898.4 1419.0,896.4 1420.0,895.6 1420.8,894.3 1421.7,897.9 1422.6,898.9 1423.5,899.0 1424.4,894.7 1425.2,899.7 1426.1,899.6 1427.0,901.4 1427.7,902.4 1428.5,906.3 1429.3,900.3 1430.0,902.3 1430.8,908.3 1431.6,907.9 1432.3,904.2 1433.1,907.8 1433.8,911.6 1434.4,907.6 1435.0,911.6 1435.6,906.1 1436.2,913.6 1436.8,911.3 1437.4,908.9 1438.0,914.7 1438.6,914.9 1439.2,918.3 1439.8,918.8 1440.4,919.2 1441.0,916.6 1441.6,919.7 1442.2,911.0 1442.8,915.9 1443.4,915.0 1443.9,909.7 1444.5,913.1 1445.1,910.0 1445.7,909.4 1446.3,911.8 1446.8,905.4 1447.5,904.0 1448.2,906.6 1448.8,901.2 1449.5,903.9 1450.1,906.2 1450.8,903.4 1451.4,899.7 1452.1,903.6 1452.7,904.5 1453.4,903.4 1454.1,900.5 1455.0,903.0 1455.9,902.3 1456.8,895.6 1457.8,895.7 1458.7,892.9 1459.6,891.3 1460.4,893.4 1461.2,898.4 1462.0,898.9 1462.7,891.7 1463.5,890.0 1464.3,891.1 1465.0,895.3 1465.8,893.6 1466.6,895.5 1467.3,888.2 1467.9,895.9 1468.6,890.9 1469.2,894.3 1469.8,898.1 1470.5,898.2 1471.1,893.7 1471.8,897.7 1472.4,897.0 1473.1,893.3 1474.1,895.4 1475.1,895.9 1476.1,899.1 1477.1,896.7 1478.1,899.3 1479.0,901.0 1480.0,896.6 1480.5,894.0 1481.0,898.2 1481.5,896.4 1482.0,892.0 1482.4,890.2 1482.9,897.0 1483.4,894.8 1483.9,891.2 1484.4,888.1 1484.9,894.3 1485.4,892.3 1485.8,891.6 1486.7,887.7 1487.7,886.2 1488.7,886.6 1489.7,884.1 1490.7,888.0 1491.7,886.9 1492.7,890.3 1493.5,887.5 1494.3,887.8 1495.1,888.9 1495.9,893.8 1496.6,889.7 1497.4,892.6 1498.2,889.3 1499.0,892.3 1499.5,889.2 1500.1,893.4 1500.6,888.3 1501.2,891.8 1501.8,890.3 1502.3,887.2 1502.9,890.4 1503.4,885.4 1503.9,887.7 1504.2,887.8 1504.5,887.1 1504.8,884.0 1505.1,887.3 1505.5,887.5 1505.8,889.8 1506.1,896.0 1506.4,892.0 1506.7,895.5 1507.0,896.9 1507.4,893.8 1507.8,895.3 1508.3,893.7 1508.7,901.3 1509.2,897.7 1509.6,899.1 1510.1,899.3 1510.5,904.6 1511.0,906.9 1511.4,905.7 1511.8,905.6 1512.6,901.4 1513.6,907.7 1514.6,901.4 1515.5,902.3 1516.5,902.5 1517.5,905.7 1518.3,905.5 1518.9,901.7 1519.5,905.4 1520.1,906.3 1520.7,897.0 1521.3,899.9 1522.0,899.3 1522.9,898.7 1523.7,899.9 1524.5,899.2"/>
<polyline stroke="#00FF00" points="185.9,66.1 187.3,74.1 188.6,82.1 189.6,87.7"/>
<polyline stroke="#00FF00" points="193.5,111.0 194.0,114.1 195.4,122.1 196.8,130.1 197.4,134.2"/>
<polyline stroke="#00FF00" points="201.4,157.5 202.2,162.1 203.5,170.1 204.7,178.1 205.1,180.7"/>
<polyline stroke="#00FF00" points="208.4,204.0 209.3,210.1 210.4,218.1 211.5,226.1 211.7,227.2"/>
<polyline stroke="#00FF00" points="214.9,250.5 216.0,258.1 217.1,266.1 218.2,273.7"/>
<polyline stroke="#00FF00" points="221.4,297.0 221.6,298.1 222.7,306.1 223.8,314.1 224.6,320.2"/>
<polyline stroke="#00FF00" points="227.7,343.5 228.1,346.1 229.2,354.1 230.2,362.1 230.9,366.7"/>
<polyline stroke="#00FF00" points="234.0,390.0 234.6,394.1 235.6,402.1 236.7,410.1 237.1,413.2"/>
<polyline stroke="#00FF00" points="240.3,436.5 241.0,442.1 242.1,450.1 243.2,458.1 243.4,459.7"/>
<polyline stroke="#00FF00" points="246.6,483.0 247.7,490.1 248.9,498.1 250.1,506.1 250.1,506.2"/>
<polyline stroke="#00FF00" points="253.6,529.5 253.6,530.1 254.8,538.1 256.0,546.1 257.0,552.7"/>
<polyline stroke="#00FF00" points="260.4,576.0 260.7,578.1 261.8,586.1 262.9,594.1 263.6,599.2"/>
<polyline stroke="#00FF00" points="267.0,622.5 267.6,626.1 268.7,634.1 269.9,642.1 270.4,645.7"/>
<polyline stroke="#00FF00" points="273.9,669.0 274.6,674.1 275.8,682.1 277.0,690.1 277.3,692.2"/>
<polyline stroke="#00FF00" points="280.8,715.5 281.8,722.1 283.0,730.1 284.3,738.1 284.4,738.7"/>
<polyline stroke="#00FF00" points="288.0,762.0 288.0,762.1 289.2,770.1 290.5,778.1 291.5,784.5"/>
<polyline stroke="#00FF00" points="295.2,808.5 295.5,810.1 296.7,818.1 298.0,826.1 298.6,830.0"/>
<polyline stroke="#00FF00" points="302.3,852.6 303.2,858.1 304.5,866.1 305.9,874.1 306.5,877.9"/>
<polyline stroke="#00FF00" points="310.3,900.0 311.4,906.1 313.0,914.1 313.5,916.6"/>
<polyline stroke="#00FF00" points="316.3,931.0 317.6,938.1 319.5,946.1 319.9,947.7"/>
<polyline stroke="#00FF00" points="324.6,966.4 325.5,970.1 327.5,978.1 329.4,986.1 329.4,986.2"/>
<polyline stroke="#00FF00" points="333.6,1003.0 335.4,1010.1 335.6,1011.0"/>
<polyline stroke="#00FF00" points="338.4,1022.5 339.3,1026.1 341.6,1034.1 341.8,1035.0"/>
<polyline stroke="#00FF00" points="344.8,1045.0 346.3,1050.0 346.3,1056.0"/>
<polyline stroke="#00FF00" stroke-dasharray="34 10" points="352.0,1061.6 352.3,1063.0 352.6,1068.9 352.9,1065.7 353.3,1072.5 353.6,1069.2 353.9,1066.6 354.2,1070.8 354.5,1069.9 354.8,1069.0 355.2,1072.0 355.5,1075.2 355.8,1074.1 356.2,1080.3 356.8,1075.6 357.3,1077.7 357.9,1074.2 358.5,1070.3 359.1,1072.0 359.6,1074.2 360.2,1072.2 360.8,1072.6 361.4,1067.1 361.9,1065.2 362.5,1064.1 363.1,1066.6 363.7,1070.2 364.2,1067.5 364.7,1071.6 365.2,1066.5 365.7,1067.0 366.2,1072.0 366.7,1075.0 367.3,1076.5 367.8,1071.3 368.3,1074.4 368.8,1072.9 369.3,1078.1 369.8,1078.4 370.6,1079.2 371.4,1079.8 372.2,1081.4 373.0,1076.4 373.8,1079.8 374.6,1073.4 375.4,1077.1 376.2,1070.1 377.0,1073.8 377.8,1077.0 378.6,1075.0 379.3,1073.2 380.1,1077.6 380.9,1079.1 381.6,1079.0 382.4,1075.9 383.2,1077.3 383.9,1073.2 384.6,1077.8 385.3,1077.3 386.0,1081.3 386.7,1076.5 387.4,1080.0 388.1,1078.2 388.8,1080.4 389.6,1087.6 390.3,1087.8 391.0,1087.3 391.7,1085.0 392.5,1081.2 393.3,1079.1 394.1,1083.1 394.9,1087.9 395.7,1086.3 396.5,1080.4 397.4,1085.8 398.2,1079.5 399.0,1076.0 400.0,1080.0 400.9,1080.6 401.9,1077.4 402.8,1085.0 403.7,1081.1 404.7,1081.3 405.6,1078.2 406.6,1077.3 407.6,1086.2 408.6,1088.7 409.6,1086.1 410.6,1080.1 411.6,1079.6 412.5,1079.6 413.5,1078.6 414.4,1086.3 415.3,1085.3 416.2,1081.3 417.1,1082.9 418.0,1085.5 418.8,1087.0 419.7,1087.7 420.7,1084.2 421.7,1089.6 422.7,1084.0 423.6,1085.8 424.6,1088.9 425.6,1083.6 426.6,1081.3 427.5,1089.7 428.2,1088.4 428.9,1082.7 429.6,1085.2 430.3,1080.0 431.0,1085.1 431.7,1078.3 432.5,1076.7 433.2,1076.9 434.0,1081.4 434.9,1085.3 435.7,1080.6 436.6,1084.9 437.4,1082.9 438.3,1083.3 439.2,1085.8 439.9,1081.5 440.7,1084.4 441.5,1081.2 442.2,1078.1 443.0,1081.5 443.8,1080.6 444.5,1075.4 445.3,1082.3 446.1,1081.8 446.6,1078.0 447.2,1079.7 447.7,1079.2 448.2,1071.4 448.7,1069.1 449.2,1072.0 449.7,1071.4 450.2,1073.1 450.8,1067.9 451.3,1065.8 451.8,1066.9 452.3,1072.4 452.8,1063.8 453.3,1070.0 454.2,1067.9 455.1,1064.8 456.1,1061.3 457.0,1063.4 457.9,1063.6 458.9,1059.7 459.4,1062.5 459.6,1069.1 459.8,1071.8 460.1,1070.8 460.3,1068.2 460.5,1072.9 460.7,1066.9 460.9,1072.6 461.1,1074.7 461.3,1070.6 461.5,1072.4 461.7,1074.0 461.9,1078.8 462.2,1078.8 462.4,1076.1 462.6,1081.8 462.8,1080.7 463.4,1083.5"/>
<polyline stroke="#00FF00" stroke-dasharray="34 10" points="465.5,1087.2 466.5,1088.7 467.4,1086.3 468.3,1088.7 469.2,1094.1 470.1,1095.2 471.1,1093.6 472.0,1096.2 472.9,1094.3 473.8,1098.1 474.7,1096.9 475.6,1091.4 476.4,1093.7 477.2,1093.0 478.1,1093.0 478.9,1089.5 479.7,1092.8 480.6,1088.4 481.4,1087.9 482.1,1086.7 482.7,1086.0 483.3,1084.4 483.9,1088.9 484.4,1088.5 485.0,1081.7 485.6,1084.7 486.2,1080.0 486.8,1083.7 487.3,1081.7 488.0,1082.1 488.9,1084.9 489.9,1086.0 490.8,1085.6 491.7,1082.1 492.6,1079.6 493.6,1083.9 494.4,1084.1 495.3,1087.1 496.2,1087.4 497.0,1080.4 497.9,1080.4 498.7,1082.9 499.6,1080.4 500.3,1085.7 501.0,1078.5 501.7,1081.0 502.4,1086.3 503.1,1089.2 503.8,1086.2 504.6,1083.5 505.3,1086.6 506.0,1085.3 506.7,1089.2 507.2,1085.9 507.8,1083.0 508.3,1085.4 508.8,1087.1 509.3,1084.2 509.9,1083.9 510.4,1082.9 510.9,1081.6 511.5,1075.7 512.0,1077.1 512.5,1081.6 513.2,1078.7 513.9,1080.1 514.6,1081.5 515.3,1072.6 516.0,1076.4 516.7,1074.6 517.4,1068.9 518.1,1069.0 518.8,1071.2 519.5,1070.8 520.4,1074.8 521.3,1071.4 522.1,1075.0 523.0,1072.6 523.9,1077.4 524.8,1079.3 525.7,1072.3 526.6,1077.2 527.5,1072.0 528.4,1073.1 529.3,1079.0 530.2,1076.5 531.1,1072.2 532.0,1071.4 532.9,1080.9 533.8,1082.4 534.7,1084.0 535.7,1078.7 536.6,1077.2 537.5,1080.8 538.5,1075.8 539.4,1080.1 540.4,1077.1 541.4,1076.8 542.4,1082.2 543.4,1078.5 544.4,1084.8 545.4,1083.3 546.4,1082.3 547.4,1082.5 548.4,1078.6 549.3,1084.2 550.2,1076.6 551.2,1082.8 552.1,1080.5 553.1,1080.3 554.0,1079.5 555.0,1077.6 555.9,1074.7 556.9,1075.6 557.9,1078.4 558.8,1075.7 559.8,1079.5 560.8,1079.2 561.7,1072.6 562.7,1071.3 563.6,1078.1 564.6,1077.0 565.6,1073.0 566.6,1076.0 567.6,1077.0 568.5,1079.0 569.5,1077.4 570.4,1081.8 571.2,1074.5 572.0,1081.5 572.9,1081.9 573.7,1079.3 574.5,1076.4 575.4,1076.5 576.2,1082.3 577.0,1083.5 577.9,1082.0 578.8,1077.0 579.7,1075.6 580.6,1078.6 581.5,1075.4 582.4,1076.0 583.3,1073.3 584.2,1074.5 585.0,1078.6 585.8,1082.4 586.7,1076.2 587.5,1077.8 588.3,1078.9 589.2,1078.5 590.0,1080.7 590.8,1077.7 591.8,1078.8 592.8,1079.7 593.8,1085.6 594.8,1081.8 595.8,1084.6 596.8,1086.0 597.8,1085.6 598.8,1083.1"/>
<polyline stroke="#00FF00" stroke-dasharray="34 10" points="601.3,1069.0 602.3,1068.5 603.3,1066.0 604.3,1063.1 605.2,1066.8 606.2,1070.4 607.2,1065.9"/>
<polyline stroke="#00FF00" stroke-dasharray="34 10" points="609.6,1077.9 610.3,1084.7 610.8,1084.8 611.3,1081.7 611.9,1087.1 612.4,1087.3 612.9,1090.2 613.4,1089.5 613.9,1091.0 614.4,1092.6 614.9,1089.4 615.4,1086.9 616.0,1094.6 616.5,1089.7 617.0,1093.4 617.5,1099.1 618.1,1094.9 618.9,1093.4 619.7,1094.7 620.5,1093.8 621.2,1099.2 622.0,1096.8 622.8,1094.4 623.6,1099.3 624.2,1096.6 624.8,1094.5 625.4,1091.8 625.9,1098.4 626.5,1095.0 627.1,1095.7 627.7,1094.1 628.3,1096.8 628.9,1089.2 629.4,1092.1 630.1,1094.2 630.9,1089.1 631.7,1088.7 632.4,1087.2 633.2,1086.3 634.0,1091.5 634.7,1085.5 635.5,1088.4 636.3,1081.9 637.1,1087.1 638.1,1081.6 639.1,1086.9 640.1,1081.2 641.1,1081.1 642.0,1081.4 643.0,1081.5 644.0,1086.2 644.8,1085.4 645.7,1081.2 646.5,1081.9 647.3,1084.7 648.2,1088.7 649.0,1089.4 649.8,1088.4 650.7,1091.8 651.5,1094.3 652.4,1095.3 653.3,1096.2 654.2,1096.1 655.1,1097.1 655.8,1094.7 656.2,1092.9 656.5,1090.7 656.8,1087.6 657.1,1090.4 657.4,1086.0 657.7,1089.2 658.1,1084.9 658.4,1079.0 658.7,1084.8 659.0,1082.0 659.3,1076.0 660.0,1083.3 660.7,1085.4 661.4,1087.2 662.2,1084.3 662.9,1081.2 663.6,1081.5 664.3,1085.1 665.0,1087.9 665.6,1087.0 666.1,1083.0 666.6,1080.4 667.2,1087.1 667.7,1088.4 668.2,1087.5 668.8,1082.6 669.3,1076.5 669.8,1075.7 670.4,1078.1 670.9,1081.1 671.4,1080.2 671.9,1075.3 672.3,1082.5 672.8,1082.3 673.3,1080.9 673.8,1084.4 674.3,1082.5 674.7,1084.0 675.2,1080.0 675.7,1080.2 676.2,1089.1 676.7,1087.1 677.1,1090.8 677.6,1088.4 678.1,1088.6 678.9,1086.3 679.8,1093.3 680.8,1089.0 681.8,1093.0 682.8,1088.5 683.8,1088.7 684.5,1087.2 685.1,1093.3 685.6,1097.6 686.2,1096.5 686.7,1097.1 687.3,1094.0 687.8,1100.6 688.4,1094.9 689.0,1095.4 689.4,1097.5 689.9,1098.1 690.4,1094.2 690.9,1095.5 691.4,1090.6 691.9,1088.0 692.4,1090.4 692.8,1091.8 693.3,1094.4 693.8,1090.4 694.3,1093.2 694.8,1091.7 695.4,1092.7 696.1,1089.9 696.9,1086.0 697.6,1086.5 698.3,1086.6 699.0,1081.9 699.7,1079.4 700.4,1079.7 701.1,1081.4 701.8,1076.5 702.7,1077.9 703.6,1076.0 704.5,1082.8 705.4,1079.6 706.3,1079.6 707.2,1075.2 708.2,1076.8 709.1,1081.8 710.0,1081.5 710.6,1082.7 711.1,1076.6 711.6,1082.4 712.1,1084.0 712.6,1080.9 713.1,1080.5 713.6,1086.5 714.0,1082.8 714.5,1082.2 715.0,1086.3 715.5,1086.6 716.0,1086.7 716.7,1086.9 717.7,1089.6 718.7,1090.4 719.7,1088.0 720.7,1092.1 721.7,1086.6 722.7,1085.4 723.7,1086.1 724.7,1082.6 725.7,1086.5 726.7,1087.3 727.7,1085.4 728.7,1086.7 729.7,1087.3 730.7,1088.5 731.6,1088.9 732.5,1087.4 733.4,1087.6 734.3,1092.8 735.1,1086.7 736.0,1093.5 736.9,1088.2 737.8,1087.6 738.8,1090.2 739.7,1096.5 740.6,1091.0 741.5,1088.2 742.5,1094.6 743.4,1094.1 744.4,1090.3"/>
<polyline stroke="#00FF00" stroke-dasharray="34 10" points="746.7,1078.5 747.7,1075.3 748.6,1079.0 749.4,1075.0 750.2,1076.9 750.9,1075.4 751.7,1078.1 752.5,1073.1 753.2,1079.1 754.0,1071.6 754.8,1069.2 755.6,1074.1 756.4,1079.0 757.2,1079.4 758.1,1079.6 758.9,1073.6 759.7,1073.0 760.5,1074.1 761.4,1074.3 762.2,1074.1 763.1,1075.4 764.1,1076.4"/>
<polyline stroke="#00FF00" stroke-dasharray="34 10" points="766.3,1096.7 767.3,1099.3 768.3,1098.1 769.0,1096.8 769.6,1099.1 770.3,1093.3 770.9,1098.5 771.6,1094.8 772.2,1089.3 772.8,1093.4 773.5,1089.0 774.1,1094.5 774.6,1092.4 774.9,1086.5 775.2,1091.6 775.5,1086.1 775.9,1090.0 776.2,1081.2 776.5,1081.1 776.8,1083.5 777.8,1081.0 778.8,1081.0"/>
<polyline stroke="#00FF00" stroke-dasharray="34 10" points="781.1,1086.6 782.1,1088.3 783.1,1092.9 784.1,1095.0 785.1,1096.1 786.1,1097.1"/>
<polyline stroke="#00FF00" stroke-dasharray="34 10" points="788.3,1078.4 789.3,1079.9 790.3,1082.1 791.2,1076.7 792.2,1075.0 793.1,1079.8 794.1,1078.0 795.0,1081.2 796.0,1083.7 796.9,1077.0 797.9,1078.5 798.7,1076.6 799.5,1077.0 800.2,1082.4 801.0,1076.3 801.8,1076.1 802.5,1073.7 803.3,1072.2 804.1,1070.9 804.8,1069.5 805.6,1076.5 806.2,1078.0 806.9,1075.7 807.5,1079.6 808.2,1082.8 808.8,1077.7 809.5,1080.8 810.1,1077.1 810.8,1078.4 811.4,1079.9 812.1,1081.8 812.8,1084.4 813.6,1082.9 814.5,1082.9 815.3,1087.3 816.0,1085.0 816.3,1088.3 816.6,1090.3 817.0,1093.1 817.3,1088.0 817.6,1087.6 817.9,1093.1 818.2,1090.7 818.5,1092.9 818.9,1092.3 819.2,1098.6 819.5,1097.0 819.8,1094.4 820.1,1101.2 820.4,1095.1 820.8,1096.4 821.2,1099.2 821.7,1096.4 822.1,1099.3 822.6,1101.1 823.0,1096.7 823.5,1094.4 823.9,1097.6 824.4,1094.8 824.8,1093.8 825.3,1091.6 825.7,1092.8 826.2,1093.0 826.6,1084.7 827.3,1084.7 828.0,1083.7 828.7,1086.0 829.4,1087.7 830.1,1089.5 830.8,1090.5 831.5,1092.9 832.3,1094.9 833.0,1089.7 833.7,1090.6 834.4,1096.4 835.1,1098.9 835.8,1090.1 836.5,1089.5 837.2,1091.4 837.9,1090.5 838.6,1086.9 839.2,1093.8 839.9,1093.5 840.5,1092.0 841.2,1091.4 841.8,1090.0 842.4,1091.2 843.1,1099.3 843.7,1101.7 844.4,1096.9 845.0,1098.4 845.6,1094.2 846.3,1102.3 846.9,1097.9 847.6,1102.3 848.2,1105.6 848.8,1103.7 849.5,1107.8 850.1,1102.5 850.9,1100.2 851.8,1099.4 852.6,1100.0 853.5,1101.9 854.3,1104.7 855.2,1103.1 856.1,1102.4 856.6,1102.1 857.0,1108.7 857.4,1110.0 857.8,1110.5 858.2,1108.9 858.7,1107.4 859.1,1101.7 859.5,1103.5 859.9,1102.1 860.3,1097.2 860.7,1102.4 861.1,1100.4 861.5,1097.1 862.0,1091.8 862.4,1095.6 863.0,1097.1 863.6,1094.4 864.2,1091.9 864.8,1096.0 865.4,1091.1 865.9,1093.6 866.5,1090.0 867.1,1084.0 867.7,1084.2 868.3,1090.0 869.3,1084.2 870.2,1080.6 871.1,1084.8 872.0,1083.3 873.0,1082.9 873.9,1081.2 874.8,1078.5 875.6,1080.0 876.5,1077.8 877.3,1077.3 878.2,1075.7 879.1,1076.5 879.9,1075.3 880.6,1080.5 881.2,1079.8 881.8,1073.9 882.7,1077.7 883.6,1078.8 884.5,1080.7 885.4,1073.9 886.4,1072.2 887.3,1072.6 888.2,1076.8 889.1,1076.5 890.0,1078.5 890.8,1073.8 891.6,1070.9 892.4,1077.1 893.1,1076.4 893.9,1079.6 894.7,1082.0 895.4,1079.1 896.2,1082.6 897.0,1085.3 897.7,1083.8 898.3,1082.0 898.9,1085.2 899.6,1086.0 900.2,1087.7 900.9,1087.4 901.5,1083.4 902.1,1086.4 902.8,1087.0 903.3,1091.7 903.5,1089.2 903.7,1088.3 903.9,1088.6 904.1,1088.0 904.3,1094.8 904.5,1096.7 904.7,1096.7 904.9,1097.9 905.0,1092.6 905.2,1095.7 905.4,1099.0 905.8,1099.4 906.5,1098.4 907.3,1095.9 908.1,1096.6 908.9,1096.5 909.7,1092.8 910.4,1095.1 911.2,1095.7 912.1,1099.0 913.1,1093.8 914.1,1096.5 915.1,1099.0 916.1,1091.7 917.1,1096.9 918.1,1089.9 919.0,1088.0 920.0,1092.0"/>
<polyline stroke="#00FF00" stroke-dasharray="34 10" points="922.4,1073.8 923.4,1078.1 924.4,1072.2 925.4,1077.9 926.4,1074.1 927.4,1076.1"/>
<polyline stroke="#00FF00" stroke-dasharray="34 10" points="929.5,1089.5 930.5,1084.5 931.5,1092.3 932.5,1087.8 933.5,1089.9 934.5,1085.9 935.5,1086.6 936.5,1089.9 937.5,1092.7 938.5,1087.5 939.4,1084.9 940.3,1082.6 941.0,1085.5 941.7,1084.0 942.4,1080.3 943.1,1079.9 943.8,1083.4 944.5,1084.5 945.3,1084.4 946.0,1084.6 946.7,1079.7 947.5,1076.7 948.5,1081.6 949.5,1081.9"/>
<polyline stroke="#00FF00" stroke-dasharray="34 10" points="951.5,1091.4 952.5,1094.0 953.5,1095.1 954.5,1092.3 955.5,1089.3 956.5,1087.1 957.5,1089.2"/>
<polyline stroke="#00FF00" stroke-dasharray="34 10" points="959.8,1081.3 960.8,1083.1 961.8,1076.7 962.8,1083.4 963.8,1082.6 964.8,1082.6 965.8,1084.5"/>
<polyline stroke="#00FF00" stroke-dasharray="34 10" points="968.1,1092.7 969.1,1098.1 970.1,1096.8 971.0,1090.4 971.8,1094.2 972.6,1091.8 973.3,1090.6 974.1,1098.3 974.9,1102.2 975.6,1099.2 976.4,1100.1 977.2,1095.9 977.9,1094.9 978.9,1096.3 979.9,1094.5 980.9,1100.6 981.9,1096.2 982.9,1097.9 983.9,1094.3 984.9,1094.6 985.9,1096.0 986.7,1097.5 987.4,1095.2 988.1,1096.6 988.8,1096.9 989.5,1092.2 990.2,1094.3 990.9,1089.9 991.6,1093.6 992.3,1095.5 993.0,1096.7 993.7,1095.8 994.2,1092.1 994.7,1094.0 995.3,1091.5 995.8,1089.8 996.3,1083.0 996.8,1080.5 997.4,1081.3 997.9,1087.0 998.4,1087.8 999.0,1086.7 999.5,1082.5 1000.0,1078.0 1000.5,1077.9 1000.9,1082.7 1001.4,1076.5 1001.9,1080.4 1002.4,1078.2 1002.9,1076.3 1003.4,1072.5 1003.9,1071.0 1004.3,1069.8 1004.8,1074.2 1005.4,1067.3 1006.4,1069.0 1007.4,1072.1"/>
<polyline stroke="#00FF00" stroke-dasharray="34 10" points="1009.4,1054.8 1010.4,1054.6 1011.4,1052.6 1012.4,1056.0 1013.4,1057.7 1014.4,1056.2"/>
<polyline stroke="#00FF00" stroke-dasharray="34 10" points="1016.5,1071.4 1017.5,1069.8 1018.5,1068.9 1019.5,1071.0 1020.5,1070.7 1021.5,1068.7 1022.5,1066.6 1023.4,1067.8 1024.4,1075.0 1025.4,1077.0 1026.4,1075.2 1027.3,1070.6 1028.2,1071.7 1029.1,1074.1 1030.0,1074.2 1030.9,1066.8 1031.8,1073.6 1032.7,1073.3 1033.6,1070.9 1034.5,1072.9 1035.5,1065.9 1036.5,1065.2 1037.5,1070.2 1038.5,1068.4 1039.4,1070.9 1040.2,1072.7 1040.8,1075.5 1041.4,1070.3 1042.1,1071.8 1042.7,1077.7 1043.4,1075.0 1044.0,1070.7 1044.6,1070.8 1045.3,1075.5 1046.1,1074.3 1046.9,1076.1 1047.8,1077.4 1048.7,1073.9 1049.6,1074.3 1050.4,1082.9 1050.7,1082.7 1051.0,1083.1 1051.3,1082.3 1051.5,1086.9 1051.8,1086.1 1052.1,1089.5 1052.4,1083.2 1052.7,1085.4 1053.0,1092.4 1053.3,1089.7 1053.6,1094.1 1053.8,1091.8 1054.6,1094.8 1055.5,1093.3 1056.4,1087.8 1057.3,1084.8 1058.2,1084.5 1059.1,1086.2 1060.0,1091.4 1060.9,1089.2 1061.4,1088.0 1061.9,1089.5 1062.4,1081.3 1062.9,1086.4 1063.4,1080.5 1063.9,1084.1 1064.3,1083.8 1064.8,1080.2 1065.3,1083.9 1065.8,1078.6 1066.3,1077.8 1066.8,1080.2 1067.5,1081.6 1068.3,1081.0 1069.1,1082.1 1070.0,1077.2 1070.8,1078.1 1071.6,1078.0 1072.5,1078.0 1073.3,1081.8 1074.2,1080.7 1075.1,1077.4 1076.1,1077.5 1077.1,1084.9 1078.1,1087.6 1079.1,1081.2 1080.1,1085.1 1081.1,1080.7 1082.0,1078.1 1083.0,1080.8 1084.0,1078.8 1085.0,1082.1 1086.0,1086.3 1087.0,1084.2 1088.0,1082.5 1088.9,1080.3 1089.9,1083.3 1090.8,1081.3 1091.8,1082.0 1092.7,1082.6 1093.7,1083.7 1094.6,1088.1 1095.6,1080.9 1096.5,1082.4 1097.3,1084.3 1098.2,1081.5 1099.1,1079.5 1100.0,1078.9 1100.9,1082.5 1101.8,1081.1 1102.7,1083.4 1103.6,1077.7 1104.4,1077.9 1105.3,1077.4 1106.1,1077.6 1107.0,1078.3 1107.9,1076.7 1108.7,1074.3 1109.5,1077.0 1110.2,1082.0 1111.0,1077.0 1111.8,1081.8 1112.5,1085.7 1113.3,1079.8 1114.1,1079.3 1114.8,1079.5 1115.6,1084.9 1116.6,1084.1 1117.6,1079.5 1118.5,1086.8 1119.5,1089.4 1120.5,1083.6 1121.5,1086.6 1122.2,1086.0 1122.9,1087.2 1123.6,1082.5 1124.3,1084.1 1125.0,1085.7 1125.7,1084.9 1126.4,1080.1 1127.2,1078.8 1128.0,1081.4 1129.0,1079.6"/>
<polyline stroke="#00FF00" stroke-dasharray="34 10" points="1131.2,1087.0 1132.2,1094.3 1133.2,1088.2 1134.2,1088.5 1135.2,1086.7"/>
<polyline stroke="#00FF00" stroke-dasharray="34 10" points="1137.7,1085.3 1138.7,1084.1 1139.7,1084.4 1140.7,1082.5 1141.3,1081.7 1141.9,1084.1 1142.6,1082.2 1143.2,1088.5 1143.9,1087.1 1144.5,1090.1 1145.1,1087.9 1145.8,1091.6 1146.4,1089.5 1147.4,1084.7 1148.4,1089.8 1149.4,1093.5 1150.4,1091.1 1151.4,1091.1 1152.3,1087.8 1153.3,1085.7 1154.2,1085.2 1155.0,1087.7 1155.7,1090.9 1156.4,1083.2 1157.1,1082.6 1157.8,1081.0 1158.5,1086.6 1159.2,1087.9 1159.9,1084.9 1160.6,1081.3 1161.3,1081.9 1162.0,1084.0 1162.6,1078.0 1162.9,1083.3 1163.3,1084.9 1163.6,1082.1 1163.9,1082.3 1164.2,1082.4 1164.5,1081.7 1164.8,1086.5 1165.2,1087.8 1165.5,1084.5 1165.8,1088.4 1166.1,1087.8 1166.4,1088.4 1166.7,1094.4 1167.1,1089.0 1167.4,1089.2 1167.8,1089.2 1168.2,1090.7 1168.7,1086.1 1169.1,1089.9 1169.5,1084.9 1169.9,1086.2 1170.3,1085.0 1170.8,1089.9 1171.2,1087.0 1171.6,1082.8 1172.0,1081.1 1172.4,1081.8 1172.8,1082.1 1173.3,1080.0 1173.7,1081.5 1174.1,1080.7 1174.7,1078.5 1175.7,1082.8 1176.7,1078.7 1177.6,1076.3 1178.6,1078.9 1179.6,1074.4 1180.6,1079.3 1181.6,1077.5 1182.6,1074.0 1183.6,1080.1"/>
<polyline stroke="#00FF00" stroke-dasharray="34 10" points="1185.3,1094.6 1186.3,1088.7 1187.3,1087.4 1188.2,1087.5 1189.1,1088.7 1190.0,1088.6 1190.9,1089.5 1191.8,1094.3 1192.7,1092.5 1193.6,1094.0 1194.5,1095.9 1195.4,1091.7 1196.4,1089.5 1197.4,1096.0 1198.4,1092.8 1199.4,1090.1 1200.4,1094.2 1201.4,1098.2 1202.3,1099.0 1203.2,1091.2 1204.1,1090.7 1205.1,1090.7 1206.0,1095.9 1206.9,1090.2 1207.8,1091.5 1208.7,1092.1 1209.7,1096.0 1210.6,1096.2 1211.5,1094.1 1212.3,1094.6 1213.2,1092.4 1214.1,1094.0 1215.0,1095.7 1215.9,1093.9 1216.8,1097.6 1217.7,1091.2 1218.5,1099.6 1219.3,1100.1 1220.1,1094.5 1220.9,1092.5 1221.7,1095.1 1222.5,1097.8 1223.4,1099.0 1224.2,1098.7 1225.0,1102.6 1225.9,1102.4 1226.9,1104.9"/>
<polyline stroke="#00FF00" stroke-dasharray="34 10" points="1229.2,1088.3 1230.2,1085.9 1231.2,1093.4 1232.1,1090.0 1232.9,1088.1 1233.8,1094.8 1234.6,1088.6 1235.5,1094.1 1236.4,1092.1 1237.2,1090.5 1238.2,1091.3 1239.2,1090.7"/>
<polyline stroke="#00FF00" stroke-dasharray="34 10" points="1241.6,1077.8 1242.6,1074.9 1243.6,1071.3 1244.6,1077.0 1245.4,1073.1 1246.2,1074.4 1246.9,1075.7 1247.7,1082.6 1248.5,1075.8 1249.3,1074.7 1250.1,1081.9 1250.9,1080.1 1251.7,1077.9 1252.5,1077.8 1253.4,1077.2 1254.2,1080.2 1255.0,1087.1 1255.9,1088.1 1256.7,1090.2 1257.5,1082.7 1258.3,1085.6 1259.1,1082.8 1259.9,1084.6 1260.6,1089.3 1261.4,1091.1 1262.2,1088.6 1263.0,1088.0 1263.7,1093.1 1264.3,1087.3 1265.0,1093.8 1265.6,1093.6 1266.3,1095.2 1266.9,1098.3 1267.5,1092.4 1268.2,1093.9 1268.8,1094.9 1269.5,1092.9 1270.5,1100.6"/>
<polyline stroke="#00FF00" stroke-dasharray="34 10" points="1273.1,1087.8 1274.1,1083.5 1275.1,1082.5 1276.1,1082.8 1277.0,1084.3 1278.0,1085.7 1278.9,1088.4 1279.9,1084.7 1280.9,1090.3 1281.8,1087.1 1282.8,1086.4 1283.8,1084.6 1284.8,1087.8 1285.8,1089.4 1286.8,1085.4"/>
<polyline stroke="#00FF00" stroke-dasharray="34 10" points="1288.5,1111.5 1289.5,1109.4 1290.5,1110.7 1291.5,1116.2 1292.5,1111.8 1293.5,1115.6 1294.5,1112.5 1295.4,1112.5 1296.4,1114.8 1297.4,1109.1 1298.3,1114.9 1299.1,1113.7 1300.0,1109.4 1300.8,1107.2 1301.6,1109.2 1302.5,1112.4 1303.3,1113.8 1304.1,1105.7 1304.9,1105.8 1305.7,1111.0 1306.5,1105.4 1307.3,1108.2 1308.1,1107.1 1308.9,1107.1 1309.6,1106.3 1310.4,1100.3 1311.2,1106.8 1312.0,1106.1 1312.8,1106.2 1313.6,1104.1 1314.4,1105.1 1315.2,1101.3 1316.1,1096.1 1317.1,1096.8"/>
<polyline stroke="#00FF00" stroke-dasharray="34 10" points="1319.4,1089.3 1320.4,1084.7 1321.4,1084.3 1322.4,1081.5 1323.4,1082.7"/>
<polyline stroke="#00FF00" stroke-dasharray="34 10" points="1325.9,1099.2 1326.9,1099.9 1327.9,1099.6 1328.8,1101.0 1329.4,1101.8 1330.1,1104.2 1330.7,1106.4 1331.4,1105.2 1332.0,1106.7 1332.6,1108.8 1333.3,1108.4 1333.9,1112.1 1334.6,1110.7 1335.6,1112.6 1336.6,1105.4"/>
<polyline stroke="#00FF00" stroke-dasharray="34 10" points="1338.9,1090.7 1339.9,1090.9 1340.9,1089.8 1341.9,1094.0 1342.9,1092.1 1343.9,1093.5 1344.9,1098.7"/>
<polyline stroke="#00FF00" stroke-dasharray="34 10" points="1346.6,1088.5 1347.6,1084.6 1348.6,1088.3 1349.6,1091.0 1350.6,1089.7 1351.6,1084.4 1352.6,1089.7"/>
<polyline stroke="#00FF00" stroke-dasharray="34 10" points="1355.0,1077.0 1356.0,1080.5 1357.0,1078.4 1358.0,1078.4 1358.9,1073.2 1359.9,1075.1 1360.9,1081.2 1361.9,1077.5 1362.9,1082.3 1363.9,1082.2 1364.9,1083.5 1365.7,1080.5 1366.4,1078.3 1367.1,1075.8 1367.8,1078.3 1368.6,1081.1 1369.3,1078.9 1370.0,1082.5 1370.7,1081.8 1371.4,1084.4 1372.1,1084.3 1372.9,1082.0 1373.8,1084.2 1374.7,1088.4 1375.6,1082.9 1376.4,1085.5 1377.3,1087.9 1378.2,1083.6 1379.1,1086.4 1380.1,1087.2 1381.1,1091.0 1382.1,1089.9 1383.1,1093.6 1384.1,1093.1 1385.1,1093.4 1386.1,1092.6 1387.1,1090.1 1388.0,1085.8 1389.0,1088.1 1390.0,1086.3 1391.0,1085.0 1392.0,1091.3 1393.0,1093.3 1393.9,1095.1 1394.5,1090.3 1395.0,1088.5 1395.5,1088.8 1396.1,1096.0 1396.6,1094.9 1397.1,1094.5 1397.6,1091.4 1398.2,1094.2 1398.7,1093.9 1399.2,1097.7 1399.8,1100.0 1400.2,1097.6 1400.6,1104.1 1401.0,1104.8 1401.4,1099.8 1401.8,1104.9 1402.3,1104.5 1402.7,1106.1 1403.1,1110.8 1403.5,1113.5 1403.9,1113.6 1404.3,1115.0 1404.7,1116.2 1405.2,1111.7 1405.6,1112.5 1406.3,1114.3 1407.3,1110.3"/>
<polyline stroke="#00FF00" stroke-dasharray="34 10" points="1409.5,1097.5 1410.5,1101.3 1411.5,1101.0 1412.2,1095.7 1412.8,1102.1 1413.5,1103.6 1414.1,1101.3 1414.7,1104.7 1415.3,1101.5 1416.0,1105.1 1416.5,1100.8 1417.0,1102.0 1417.4,1109.2 1417.9,1110.1 1418.3,1104.4 1418.8,1111.1 1419.2,1109.2 1419.7,1110.3 1420.3,1109.0 1421.3,1114.1 1422.3,1113.0 1423.3,1109.4 1424.3,1106.6 1425.3,1110.2 1426.3,1106.5 1427.2,1112.3 1428.1,1107.6 1429.0,1104.8 1429.9,1112.8 1430.8,1109.6 1431.7,1106.4 1432.6,1109.8 1433.5,1104.5 1434.4,1110.6 1435.3,1103.9 1436.2,1108.8 1437.0,1107.2 1437.9,1102.3 1438.8,1107.6 1439.7,1103.3 1440.6,1104.1 1441.6,1108.5 1442.6,1105.4 1443.6,1104.4 1444.5,1102.9 1445.5,1102.0 1446.5,1107.7 1447.5,1100.8 1448.5,1106.7 1449.5,1099.2 1450.4,1106.1 1451.4,1103.9 1452.4,1105.4 1453.4,1103.3 1454.4,1102.8 1455.4,1106.2"/>
<polyline stroke="#00FF00" stroke-dasharray="34 10" points="1457.1,1093.0 1458.1,1091.9 1459.1,1087.0 1460.0,1085.7 1460.8,1087.1 1461.6,1091.4 1462.3,1089.8 1463.1,1086.6 1463.9,1090.1 1464.6,1082.7 1465.4,1086.7 1466.2,1087.8 1466.9,1088.6 1467.7,1089.0 1468.5,1082.1 1469.2,1082.5 1470.0,1089.1 1470.8,1091.9 1471.5,1093.0 1472.3,1092.3 1473.1,1088.0 1473.8,1091.9 1474.6,1089.3 1475.3,1087.3 1476.0,1090.8 1476.7,1092.8 1477.4,1096.5 1478.1,1094.7 1478.8,1094.4 1479.5,1094.0 1480.2,1098.0 1480.9,1098.8 1481.8,1099.5 1482.8,1095.4 1483.8,1093.6"/>
<polyline stroke="#00FF00" stroke-dasharray="34 10" points="1485.5,1083.3 1486.5,1080.5 1487.5,1082.7 1488.5,1085.9 1489.4,1087.4 1490.3,1088.3 1491.2,1086.6 1492.1,1089.5 1493.0,1086.5 1493.9,1084.2 1494.8,1085.9 1495.7,1089.3 1496.6,1090.7 1497.6,1083.9 1498.5,1089.8 1499.5,1088.4 1500.4,1083.6 1501.4,1080.0 1502.3,1087.5 1503.2,1080.8 1504.0,1086.6 1504.9,1088.7 1505.7,1088.1 1506.5,1089.1 1507.4,1086.1 1508.2,1091.1 1509.0,1086.7 1509.8,1092.4 1510.5,1089.5 1511.2,1092.5 1511.9,1091.5 1512.6,1092.6 1513.4,1093.7 1514.1,1093.1 1514.8,1098.7 1515.5,1093.1 1516.2,1098.7 1516.9,1101.6 1517.9,1096.3"/>
<polyline stroke="#00FF00" stroke-dasharray="34 10" points="1520.0,1085.0 1521.0,1081.6 1521.8,1086.6 1522.5,1086.7 1523.2,1082.9 1523.9,1082.5 1524.7,1083.0"/>
<polyline stroke="#FF99E6" points="186.6,66.1 188.3,74.1 189.9,82.1 191.6,90.1 193.3,98.1 195.0,106.1 196.6,114.1 198.2,122.1 199.6,130.1 201.1,138.1 202.5,146.1 203.9,154.1 205.3,162.1 206.7,170.1 207.9,178.1 209.1,186.1 210.3,194.1 211.5,202.1 212.6,210.1 213.7,218.1 214.8,226.1 215.9,234.1 217.0,242.1 218.1,250.1 219.2,258.1 220.3,266.1 221.4,274.1 222.5,282.1 223.6,290.1 224.7,298.1 225.8,306.1 226.8,314.1 227.9,322.1 229.0,330.1 230.0,338.1 231.1,346.1 232.2,354.1 233.2,362.1 234.3,370.1 235.4,378.1 236.4,386.1 237.5,394.1 238.5,402.1 239.6,410.1 240.7,418.1 241.7,426.1 242.8,434.1 243.9,442.1 244.9,450.1 245.9,458.1 246.8,466.1 247.8,474.1 248.8,482.1 249.8,490.1 250.9,498.1 252.0,506.1 253.1,514.1 254.1,522.1 255.2,530.1 256.3,538.1 257.3,546.1 258.4,554.1 259.4,562.1 260.3,570.1 261.2,578.1 262.0,586.1 262.9,594.1 263.8,602.1 264.6,610.1 265.5,618.1 266.4,626.1 267.2,634.1 268.1,642.1 269.0,650.1 269.9,658.1 270.7,666.1 271.7,674.1 272.6,682.1 273.5,690.1 274.4,698.1 275.3,706.1 276.3,714.1 277.3,722.1 278.5,730.1 279.7,738.1 280.8,746.1 282.0,754.1 283.2,762.1 284.3,770.1 285.5,778.1 286.7,786.1 287.8,794.1 289.0,802.1 290.1,810.1 291.2,818.1 292.4,826.1 293.5,834.1 294.6,842.1 295.7,850.1 296.9,858.1 298.0,866.1 299.1,874.1 300.3,882.1 301.4,890.1 302.6,898.1 304.0,906.1 305.3,914.1 306.9,922.1 309.1,930.1 311.2,938.1 311.7,940.0 319.1,954.0 319.3,956.4 319.5,959.4 319.7,955.6 319.9,959.1 320.1,962.9 320.3,964.8 320.5,959.1 320.7,962.8 320.9,964.2 321.1,964.2 321.3,969.3 321.6,967.2 321.8,966.6 322.0,971.9 322.2,971.0 322.4,968.3 322.6,968.5 322.8,971.0 323.0,968.2 323.2,973.5 323.4,976.8 323.6,975.4 323.8,979.8 324.0,982.4 324.2,980.2 324.5,981.6 324.8,977.3 325.0,976.3 325.3,985.7 325.6,982.0 325.9,981.2 326.2,988.2 326.5,989.3 326.8,984.3 327.1,985.6 327.4,985.9 327.7,987.0 328.0,985.4 328.2,990.8 328.4,990.7 328.5,992.3 328.7,991.4 328.9,991.2 329.1,991.2 329.3,1000.0 329.5,1001.7 329.7,1001.1 329.9,997.4 330.1,997.5 330.2,998.0 330.4,1000.7 330.6,998.4 330.8,999.0 331.0,997.7 331.2,996.5 331.5,999.9 331.7,998.2 331.9,997.1 332.1,995.0 332.3,995.5 332.5,997.3 332.7,992.4 332.9,988.2 333.1,991.1 333.3,991.9 333.5,996.7 333.7,992.2 333.9,999.1 334.1,993.3 334.3,997.7 334.5,998.6 334.7,998.3 334.8,1004.5 335.0,1005.0 335.2,1000.6 335.4,1003.5 335.6,1006.1 335.8,1001.9 336.0,1001.9 336.2,1005.6 336.4,1007.1 336.6,1004.1 336.8,1002.3 337.0,1001.9 337.2,998.7 337.4,1003.1 337.6,1004.2 337.8,999.2 338.0,992.8 338.2,994.0 338.4,997.5 338.6,993.1 338.8,989.1 339.0,988.1 339.2,993.8 339.3,995.2 339.5,993.1 339.7,996.5 339.9,999.4 340.1,1002.9 340.3,1003.2 340.4,1000.2 340.6,1003.8 340.8,1006.5 341.0,1007.4 341.2,1007.2 341.4,1006.3 341.5,1006.1 341.7,1010.1 341.9,1009.6 342.1,1010.1 342.3,1004.5 342.5,1001.1 342.7,1001.2 342.8,1003.5 343.0,1003.2 343.2,998.9 343.4,996.9 343.6,1003.0 343.8,995.4 343.9,1000.9 344.1,1000.1 344.3,997.2 344.5,999.8 344.7,996.7 344.9,988.7 345.0,995.5 345.2,993.2 345.4,998.2 345.6,999.2 345.8,993.7 346.0,992.1 346.2,992.3 346.3,1000.4 346.5,1003.2 346.7,999.3 346.9,997.9 347.1,1000.7 347.3,1006.3 347.4,1007.9 347.6,1010.3 347.8,1012.6 348.0,1011.8 348.2,1011.2 348.4,1002.5 348.5,999.4 348.7,1006.2 348.9,1004.8 349.1,1000.9 349.3,997.3 349.5,997.6 349.7,997.0 349.8,997.6 350.0,996.6 350.2,993.2 350.4,990.5 350.6,990.2 350.8,988.7 350.9,987.3 351.1,990.6 351.3,989.6 351.5,996.5 351.7,996.5 351.9,996.5 352.1,998.9 352.2,996.4 352.4,994.4 352.6,995.2 352.8,998.6 353.0,1000.5 353.2,1000.6 353.3,1001.9 353.5,1008.0 353.7,1002.4 353.9,1005.9 354.1,1006.1 354.3,1004.1 354.5,1007.2 354.7,1002.4 354.9,998.7 355.1,998.2 355.3,1005.2 355.5,1000.1 355.7,995.9 355.9,1002.3 356.1,1000.1 356.3,1001.8 356.5,995.5 356.6,997.7 356.7,990.2 356.8,989.4 356.9,993.8 356.9,991.5 357.0,992.8 357.1,988.5 357.2,991.4 357.3,983.7 357.4,986.3 357.4,982.0 357.5,980.3 357.6,985.7 357.8,981.9 357.9,983.9 358.1,978.6 358.3,980.8 358.4,982.3 358.6,979.3 358.8,974.0 358.9,976.1 359.1,978.6 359.3,977.1 359.4,972.5 359.6,970.2 359.8,966.0 359.9,970.6 360.1,965.2 360.3,963.7 360.4,960.8 360.6,960.6 360.8,961.9 361.1,962.4 361.4,958.9 361.7,959.7 362.0,962.4 362.3,956.0 362.6,954.1 362.9,956.6 363.2,960.2 363.5,960.5 363.8,956.5 364.2,950.3 364.8,955.6 365.4,957.5 366.0,956.5 366.6,952.1 367.1,948.9 367.7,949.5 368.3,951.0 368.9,952.7 369.5,947.7 370.0,946.0 370.4,942.9 370.8,943.7 371.2,943.2 371.5,939.9 372.2,940.3 372.9,944.2 373.6,938.2 374.3,936.3 375.1,935.8 375.8,940.4 376.5,935.7 377.2,939.1 378.1,940.8 379.1,940.7 380.1,940.1 381.1,934.0 382.1,935.0 383.1,938.8 384.1,934.2 385.0,936.3 386.0,939.2 386.9,940.2 387.9,934.7 388.8,930.8 389.8,928.8 390.7,930.8 391.7,933.2 392.4,930.7 393.2,934.9 394.0,933.7 394.7,932.7 395.5,933.9 396.3,929.0 397.1,930.3 397.8,927.3 398.6,925.5 399.4,923.0 400.2,928.4 401.1,930.4 401.9,922.1 402.7,926.2 403.6,920.6 404.4,922.1 405.2,921.2 406.1,926.1 407.0,922.6 407.9,922.1 408.8,920.1 409.6,918.3 410.5,917.4 411.4,915.1 412.3,913.8 413.2,918.3 414.2,921.2 415.2,921.1 416.2,917.0 417.2,922.9 418.2,915.5 419.2,916.9 420.1,916.2 421.1,914.4 422.1,921.3 423.1,920.6 424.1,914.7 425.1,913.5 426.1,919.2 427.0,916.3 428.0,914.7 429.0,914.1 430.0,914.1 431.0,916.5 432.0,914.3 432.9,916.3 433.5,912.3 434.0,916.6 434.4,918.8 434.9,917.5 435.3,923.1 435.8,925.8 436.2,924.5 436.7,922.5 437.4,919.2 438.2,922.3 439.1,919.4 439.9,917.1 440.7,919.6 441.6,916.7 442.4,919.7 443.2,921.2 444.1,914.0 445.0,917.9 445.9,914.3 446.8,914.4 447.6,917.8 448.5,920.7 449.4,914.8 450.3,917.2 451.2,913.6 452.1,918.0 453.0,911.4 454.0,914.6 454.9,910.0 455.9,913.5 456.9,916.3 457.9,918.8 458.9,918.2 459.7,916.3 460.4,915.0 461.1,917.5 461.8,918.8 462.5,919.3 463.2,920.9 463.9,922.2 464.6,924.8 465.4,922.9 466.3,924.4 467.3,923.2 468.2,919.2 469.2,922.0 470.1,918.3 471.1,921.6 472.0,922.6 473.0,923.1 474.0,923.6 475.0,921.7 476.0,919.5 476.9,917.1 477.9,919.9 478.9,923.2 479.9,918.8 480.8,915.8 481.7,920.0 482.6,922.2 483.4,915.6 484.3,913.0 485.2,911.8 486.1,915.3 487.1,918.9 488.0,914.6 488.9,918.9 489.9,913.1 490.8,913.4 491.8,917.0 492.7,920.2 493.7,918.7 494.6,919.8 495.6,916.7 496.5,915.8 497.5,916.7 498.4,911.7 499.4,912.2 500.3,913.5 501.2,916.4 502.0,912.2 502.8,911.1 503.5,917.5 504.3,915.4 505.1,912.1 505.9,914.4 506.7,913.8 507.5,914.2 508.2,911.4 509.0,910.7 509.8,905.1 510.6,906.4 511.4,905.9 512.1,904.0 513.0,904.2 513.9,909.1 514.9,903.7 515.8,901.1 516.8,902.3 517.7,900.8 518.7,898.8 519.6,906.6 520.4,905.5 521.2,900.8 521.9,904.9 522.7,903.0 523.5,906.0 524.3,911.6 525.0,913.8 525.8,909.3 526.6,912.3 527.4,910.3 528.4,905.5 529.3,907.1 530.3,911.2 531.2,911.7 532.2,911.1 533.1,913.2 534.1,907.7 535.0,909.3 536.0,910.7 537.0,911.9 538.0,911.6 539.0,911.4 540.0,906.1 541.0,905.1 541.8,906.6 542.5,901.7 543.3,901.8 544.1,901.9 544.9,899.9 545.6,898.7 546.4,902.4 547.2,899.6 547.9,896.0 548.8,901.9 549.7,904.6 550.7,898.1 551.6,900.6 552.6,895.3 553.5,895.0 554.5,894.2 555.4,898.3 556.4,898.9 557.3,901.8 558.3,901.3 559.2,902.3 560.2,903.9 561.1,901.8 562.1,898.0 563.0,896.3 563.8,902.0 564.7,902.7 565.5,900.9 566.4,902.9 567.3,901.7 568.1,897.1 569.0,894.1 569.8,896.2 570.6,901.9 571.5,903.4 572.3,895.7 573.1,894.2 573.9,898.5 574.8,904.4 575.6,906.0 576.5,906.3 577.5,899.2 578.4,899.1 579.3,904.8 580.3,903.3 581.2,902.0 582.2,907.8 583.1,900.0 584.1,902.4 585.1,906.7 586.1,905.9 587.1,907.4 588.1,901.7 589.0,903.2 590.0,907.8 590.9,901.1 591.9,902.5 592.8,908.5 593.8,902.3 594.7,906.8 595.7,908.0 596.5,903.0 597.4,908.3 598.2,907.2 599.0,900.3 599.9,906.4 600.7,906.5 601.5,902.2 602.3,896.4 603.0,902.3 603.5,902.8 603.9,905.1 604.4,900.0 604.8,903.2 605.3,907.8 605.7,908.9 606.2,904.5 606.6,905.6 606.9,907.8 607.3,909.1 607.6,915.2 608.0,916.9 608.3,909.1 608.7,913.7 609.0,911.0 609.4,918.0 609.7,917.2 610.3,921.0 611.2,922.1 612.2,922.7 613.2,915.6 614.2,912.9 615.2,919.2 616.2,917.9 617.2,920.7 618.1,918.1 619.0,916.6 619.8,919.0 620.7,915.6 621.5,915.7 622.4,914.3 623.3,916.3 624.0,910.5 624.7,912.2 625.3,913.1 625.9,913.8 626.6,915.5 627.2,910.2 627.9,914.0 628.5,911.9 629.1,907.7 629.8,907.8 630.5,905.4 631.2,907.1 631.9,900.9 632.6,907.2 633.3,903.1 634.0,898.2 634.7,897.2 635.5,898.8 636.3,898.2 637.3,903.4 638.2,899.9 639.1,904.0 640.1,898.6 641.0,897.6 641.9,903.1 642.9,903.8 643.9,904.8 644.9,897.3 645.9,895.1 646.9,900.7 647.9,898.8 648.8,896.3 649.8,895.8 650.7,898.1 651.7,898.8 652.6,902.6 653.6,906.9 654.5,900.4 655.5,904.9 656.4,903.9 657.3,906.0 658.3,907.4 659.2,906.8 660.1,898.8 661.0,902.3 662.0,903.5 662.9,900.5 663.8,896.8 664.7,903.2 665.5,903.8 666.4,905.6 667.3,906.3 668.2,906.7 669.2,900.3 670.1,907.5 671.1,909.5 672.1,904.3 673.1,907.3 674.1,909.7 675.1,905.5 676.1,903.7 677.0,905.9 678.0,908.3 679.0,905.6 680.0,907.8 681.0,910.9 681.9,906.3 682.5,911.1 683.1,905.5 683.7,909.0 684.3,912.8 684.9,910.2 685.5,909.0 686.1,909.3 686.7,910.8 687.3,912.0 687.9,913.1 688.5,912.4 689.2,915.9 690.1,912.7 691.0,912.0 692.0,913.5 692.9,917.9 693.8,912.6 694.8,910.1 695.7,915.0 696.7,914.3 697.7,909.5 698.7,916.3 699.6,910.5 700.6,913.0 701.5,910.3 702.3,915.8 703.2,913.1 704.0,915.4 704.8,918.0 705.7,918.1 706.5,914.8 707.3,914.3 708.1,917.4 708.8,918.1 709.5,920.7 710.2,915.6 711.0,914.8 711.7,914.6 712.4,922.8 713.1,919.3 713.8,924.5 714.5,923.5 715.2,928.5 715.9,927.3 716.6,928.8 717.3,921.4 718.0,926.6 718.7,922.4 719.4,917.6 720.1,923.7 720.8,918.7 721.6,920.9 722.3,914.9 723.0,916.9 723.8,917.5 724.8,917.7 725.8,921.6 726.7,917.5 727.7,922.6 728.7,916.8 729.6,923.0 730.5,917.5 731.3,919.6 732.2,922.1 733.1,919.9 733.9,920.7 734.8,913.1 735.6,919.8 736.5,913.1 737.3,917.9 738.1,921.0 738.9,921.6 739.8,921.8 740.6,921.1 741.4,925.0 742.3,919.1 742.8,923.3 743.2,922.7 743.7,915.9 744.1,916.2 744.6,915.3 745.0,911.7 745.5,916.8 745.9,917.5 746.3,916.0 746.8,908.1 747.2,912.1 747.7,914.3 748.1,912.2 748.9,913.4 749.8,913.8 750.8,911.2 751.7,910.7 752.7,906.1 753.6,909.2 754.6,905.3 755.5,903.8 756.0,904.9 756.5,905.7 757.1,903.9 757.6,905.1 758.1,907.3 758.7,907.9 759.2,906.8 759.7,914.0 760.3,917.3 760.8,914.1 761.3,917.6 761.9,920.5 762.5,913.8 763.1,917.9 763.7,919.7 764.3,916.8 764.9,923.6 765.5,925.0 766.1,923.4 766.7,923.6 767.3,927.1 767.9,921.1 768.5,928.0 769.1,925.3 769.7,922.0 770.3,920.1 770.9,921.7 771.5,917.3 772.1,922.6 772.7,919.3 773.3,922.5 773.9,923.3 774.5,921.3 775.1,913.7 775.7,912.5 776.5,915.5 777.3,918.7 778.1,916.1 778.9,912.4 779.6,915.3 780.4,912.2 781.2,912.2 781.9,910.3 782.5,914.0 783.0,911.1 783.6,904.9 784.2,907.8 784.8,905.7 785.4,902.3 785.9,904.0 786.5,901.6 787.1,906.9 787.8,900.9 788.8,902.7 789.8,898.0 790.8,899.6 791.8,903.4 792.8,902.9 793.8,904.3 794.8,903.8 795.8,903.9 796.8,900.3 797.8,905.7 798.8,904.4 799.8,897.9 800.8,903.9 801.7,898.9 802.7,899.9 803.7,902.2 804.7,905.0 805.7,898.6 806.7,898.0 807.6,899.9 808.1,902.8 808.6,902.1 809.1,905.0 809.6,909.1 810.1,901.9 810.5,903.9 811.0,908.9 811.5,910.9 812.0,913.5 812.5,908.8 813.0,907.5 813.5,911.8 814.2,914.9 815.0,915.8 815.8,913.9 816.6,910.0 817.5,914.9 818.3,912.3 819.1,909.9 819.9,909.5 820.7,913.1 821.5,914.7 822.2,916.4 822.9,915.2 823.5,914.9 824.2,915.5 824.8,910.7 825.4,914.9 826.1,914.1 826.7,914.7 827.4,911.9 828.1,910.4 829.0,912.7 829.9,911.2 830.8,906.7 831.7,911.0 832.6,905.3 833.4,904.3 834.3,909.0 835.2,906.6 836.1,903.6 837.0,910.3 837.9,909.4 838.8,904.0 839.7,906.1 840.6,907.0 841.5,906.9 842.4,911.1 843.3,907.1 844.3,904.4 845.2,910.9 846.1,909.5 847.0,907.9 848.0,911.2 848.7,910.8 849.5,912.8 850.3,908.8 851.0,908.0 851.8,908.5 852.6,910.5 853.4,912.5 854.1,909.8 854.9,913.2 855.8,917.7 856.8,917.2 857.8,910.0 858.8,912.9 859.7,915.3 860.7,910.5 861.7,918.1 862.6,917.7 863.6,915.2 864.5,913.9 865.5,914.5 866.4,912.1 867.4,913.0 868.3,912.5 869.1,911.4 870.0,912.8 870.8,909.6 871.6,914.5 872.5,912.6 873.3,912.8 874.1,912.1 875.0,918.1 875.7,916.4 876.3,916.4 876.9,915.2 877.5,915.0 878.2,912.2 878.8,910.0 879.4,913.7 880.0,913.7 881.0,908.4 882.0,906.8 882.5,907.6 883.1,911.5 883.7,907.2 884.3,904.7 884.9,905.4 885.5,905.6 886.0,906.3 886.6,902.9 887.2,902.2 887.8,907.1 888.7,905.9 889.6,900.2 890.6,901.2 891.5,897.8 892.4,904.6 893.3,899.1 894.1,904.6 894.6,899.9 895.2,899.4 895.7,901.0 896.3,901.9 896.8,902.9 897.4,904.3 897.9,905.4 898.5,903.4 899.0,908.5 899.6,911.0 900.2,907.8 900.7,906.8 901.4,905.1 902.2,905.5 903.0,908.4 903.8,909.6 904.6,912.5 905.3,911.6 906.1,904.6 906.9,903.4 907.9,902.8 908.9,901.6 909.9,901.0 910.9,905.9 911.9,911.2 912.8,912.9 913.8,904.3 914.4,903.5 915.0,903.7 915.6,908.0 916.2,901.2 916.8,902.1 917.3,905.9 917.9,905.3 918.5,898.8 919.1,899.8 919.7,901.0 920.2,895.3 920.7,900.3 921.2,899.1 921.6,895.2 922.1,893.3 922.6,889.8 923.1,896.0 923.6,890.1 924.1,891.8 924.6,892.6 925.0,891.3 925.5,892.1 926.1,887.5 926.7,890.9 927.4,888.0 928.0,892.6 928.7,894.7 929.3,893.1 929.9,895.8 930.6,896.5 931.2,890.9 931.8,892.0 932.2,893.0 932.6,898.5 933.0,901.9 933.4,897.7 933.8,904.0 934.2,899.3 934.6,901.0 935.0,906.2 935.4,902.7 935.9,908.1 936.3,902.3 937.0,903.2 937.9,908.3 938.9,907.6 939.8,902.1 940.8,904.0 941.7,904.6 942.7,899.7 943.6,906.9 944.6,899.9 945.6,906.7 946.6,906.1 947.6,905.4 948.5,902.4 949.5,900.3 950.5,902.0 951.2,907.6 951.7,901.4 952.3,904.1 952.9,906.6 953.5,911.4 954.1,910.6 954.7,913.4 955.2,912.3 955.8,910.1 956.4,914.9 957.2,907.4 958.1,911.8 959.0,905.6 959.9,904.4 960.8,903.4 961.6,906.6 962.5,910.4 963.4,911.0 964.2,909.9 965.0,907.8 965.8,907.0 966.6,908.8 967.3,908.6 968.1,910.8 968.9,913.0 969.6,908.8 970.4,916.2 971.2,910.5 972.2,915.8 973.1,908.7 974.1,906.6 975.0,915.0 976.0,910.8 976.9,910.1 977.9,913.3 978.7,908.2 979.4,912.4 980.2,916.5 980.9,914.3 981.7,909.8 982.4,910.4 983.2,918.0 984.0,913.9 984.7,918.2 985.5,919.2 986.2,921.2 987.1,920.8 987.9,920.1 988.7,922.9 989.6,923.2 990.4,919.0 991.2,916.9 992.1,921.7 992.9,923.2 993.6,924.3 994.0,920.0 994.4,925.0 994.8,921.8 995.2,918.6 995.6,914.7 996.0,913.2 996.5,913.0 996.9,916.2 997.3,913.7 997.7,916.3 998.1,911.5 998.5,914.6 998.9,915.9 999.4,912.7 999.9,912.5 1000.4,907.0 1001.0,906.6 1001.5,905.1 1002.0,904.3 1002.5,908.9 1003.1,903.3 1003.6,907.3 1004.1,905.4 1004.7,899.9 1005.2,899.4 1006.0,898.9 1006.8,898.7 1007.7,902.9 1008.5,900.5 1009.3,898.2 1010.1,898.0 1011.0,895.2 1011.8,892.1 1012.6,893.8 1013.1,899.1 1013.7,900.9 1014.3,894.7 1014.9,899.5 1015.5,902.6 1016.0,902.7 1016.6,906.4 1017.2,901.7 1017.8,899.8 1018.4,902.2 1019.3,899.3 1020.3,906.9 1021.2,905.1 1022.1,907.1 1023.0,906.3 1023.9,906.7 1024.8,905.6 1025.8,909.6 1026.7,911.6 1027.7,913.0 1028.7,909.2 1029.7,907.1 1030.6,907.5 1031.6,911.2 1032.6,906.0 1033.6,901.5 1034.6,904.8 1035.5,908.8 1036.4,902.7 1037.4,902.9 1038.3,905.4 1039.3,905.8 1040.2,902.8 1041.2,906.2 1042.1,908.2 1043.0,907.8 1043.9,909.7 1044.7,903.4 1045.6,904.9 1046.5,905.5 1047.4,904.9 1048.4,906.3 1049.3,911.7 1050.3,911.4 1051.2,906.2 1052.2,910.0 1053.2,910.7 1054.1,907.3 1055.1,907.5 1056.0,905.7 1056.8,907.8 1057.4,910.4 1058.0,906.7 1058.7,904.9 1059.3,903.2 1060.0,909.2 1060.6,903.2 1061.2,902.9 1061.9,900.3 1062.6,901.6 1063.5,904.4 1064.3,905.5 1065.1,902.6 1065.9,904.8 1066.8,898.8 1067.6,900.7 1068.4,897.7 1069.3,895.5 1070.1,896.9 1070.9,895.8 1071.8,900.0 1072.6,897.0 1073.4,901.9 1074.3,903.8 1075.1,897.9 1075.9,900.2 1076.8,903.6 1077.8,904.1 1078.8,903.9 1079.8,897.9 1080.8,903.3 1081.8,898.7 1082.7,896.2 1083.7,902.6 1084.7,901.0 1085.7,898.1 1086.7,896.8 1087.7,898.6 1088.7,901.7 1089.6,896.3 1090.6,899.5 1091.4,900.3 1092.1,905.1 1092.8,902.6 1093.5,899.9 1094.2,903.9 1094.9,900.6 1095.6,900.4 1096.3,908.6 1097.0,907.9 1097.7,906.3 1098.7,904.3 1099.7,903.0 1100.6,905.1 1101.6,905.6 1102.6,910.6 1103.6,907.2 1104.6,905.4 1105.5,905.7 1106.3,903.4 1107.1,904.3 1108.0,903.1 1108.8,900.5 1109.6,901.1 1110.5,904.7 1111.3,898.6 1112.1,901.7 1113.0,906.2 1113.9,904.3 1114.8,903.0 1115.7,906.9 1116.6,906.9 1117.5,903.5 1118.4,899.7 1119.3,907.7 1120.2,904.8 1121.1,902.4 1122.0,898.5 1122.9,899.2 1123.8,904.0 1124.7,903.6 1125.6,898.9 1126.4,903.4 1127.3,905.4 1128.1,899.6 1128.9,903.6 1129.8,902.3 1130.6,902.9 1131.4,902.5 1132.3,905.3 1133.1,902.1 1133.7,909.1 1134.2,902.3 1134.7,908.0 1135.3,899.6 1135.8,900.5 1136.3,898.8 1136.8,904.6 1137.3,899.2 1137.8,903.5 1138.4,898.0 1138.9,893.4 1139.4,894.2 1139.9,890.7 1140.4,893.3 1141.2,891.3 1142.1,891.8 1142.9,891.5 1143.8,893.6 1144.6,900.9 1145.5,898.8 1146.3,899.5 1147.3,901.8 1148.2,898.8 1149.2,900.5 1150.1,894.8 1150.9,897.6 1151.6,900.8 1152.4,896.5 1153.2,892.7 1153.9,898.9 1154.8,899.0 1155.8,894.5 1156.8,891.3 1157.8,893.0 1158.8,894.2 1159.8,892.3 1160.8,897.4 1161.8,895.8 1162.7,897.9 1163.2,896.5 1163.7,900.8 1164.2,899.6 1164.8,898.6 1165.3,898.9 1165.8,903.1 1166.4,902.6 1166.9,902.4 1167.4,899.3 1168.0,906.0 1168.5,906.3 1169.1,908.3 1169.7,902.7 1170.3,898.7 1170.9,895.7 1171.5,897.0 1172.1,898.4 1172.7,895.7 1173.3,899.0 1173.9,894.1 1174.5,899.2 1175.1,892.6 1175.7,890.7 1176.7,889.5 1177.6,895.4 1178.6,897.5 1179.5,895.9 1180.5,891.0 1181.4,895.3 1182.4,894.7 1183.3,890.6 1184.2,896.2 1185.1,896.6 1186.0,892.3 1186.9,894.1 1187.8,889.8 1188.7,890.1 1189.6,890.2 1190.5,897.4 1191.5,895.8 1192.5,897.0 1193.5,900.4 1194.5,895.4 1195.4,892.8 1196.4,893.5 1197.4,900.1 1198.4,895.7 1199.4,891.8 1200.4,890.9 1201.4,893.6 1202.4,899.0 1203.3,893.9 1204.3,897.7 1205.3,894.6 1206.3,899.6 1207.3,897.2 1208.3,892.9 1209.3,892.6 1210.2,894.3 1211.2,893.4 1211.7,894.6 1212.3,900.3 1212.8,893.6 1213.3,895.6 1213.9,900.5 1214.4,903.8 1214.9,905.1 1215.4,901.2 1216.0,900.7 1216.5,906.3 1217.0,905.3 1217.9,908.9 1218.9,902.0 1219.8,906.8 1220.8,907.8 1221.7,910.9 1222.7,904.7 1223.6,906.8 1224.5,909.6 1225.2,905.8 1225.9,901.1 1226.6,904.8 1227.3,900.2 1228.0,898.5 1228.7,905.5 1229.4,901.7 1230.1,904.9 1231.0,906.2 1231.9,899.2 1232.8,898.6 1233.7,903.9 1234.6,899.9 1235.5,898.5 1236.4,898.4 1237.3,906.2 1237.8,907.4 1238.4,906.9 1239.0,901.5 1239.5,898.1 1240.1,899.4 1240.6,894.3 1241.2,894.2 1241.7,900.2 1242.3,901.9 1242.8,895.7 1243.4,892.1 1243.9,894.3 1244.6,897.3 1245.4,895.4 1246.3,894.9 1247.2,896.4 1248.1,897.6 1249.0,894.2 1249.9,894.0 1250.8,895.7 1251.6,896.5 1252.2,902.3 1252.8,896.7 1253.4,894.3 1254.0,899.4 1254.6,905.3 1255.2,907.1 1255.8,900.5 1256.4,907.6 1257.0,909.1 1257.6,903.9 1258.2,903.0 1258.9,902.8 1259.8,905.8 1260.7,907.6 1261.6,905.1 1262.5,907.5 1263.4,908.8 1264.3,905.8 1265.2,910.2 1266.1,906.1 1266.8,907.7 1267.6,905.0 1268.4,903.4 1269.1,906.7 1269.9,909.3 1270.7,906.7 1271.4,901.8 1272.2,900.6 1273.0,906.4 1273.9,904.7 1274.8,901.3 1275.8,901.2 1276.7,898.6 1277.6,901.8 1278.6,896.8 1279.3,902.5 1280.0,897.8 1280.7,897.5 1281.4,902.8 1282.2,894.9 1282.9,895.2 1283.6,897.4 1283.9,899.2 1284.2,902.2 1284.6,903.5 1284.9,901.1 1285.3,904.3 1285.6,900.6 1286.0,905.7 1286.3,908.1 1286.6,901.5 1287.0,907.9 1287.3,906.1 1287.7,904.2 1288.0,904.6 1288.3,906.6 1288.6,913.1 1288.9,915.9 1289.2,915.1 1289.5,913.0 1289.8,912.4 1290.1,912.3 1290.4,911.7 1290.6,916.0 1290.9,919.6 1291.2,922.8 1291.5,923.7 1291.8,925.9 1292.4,923.0 1293.1,923.3 1293.8,921.6 1294.5,921.0 1295.2,921.5 1295.9,914.5 1296.6,911.7 1297.3,912.2 1298.0,913.5 1298.8,913.8 1299.5,909.7 1300.2,913.8 1300.9,915.4 1301.7,913.5 1302.5,918.8 1303.2,914.6 1304.0,914.7 1304.8,921.4 1305.5,916.5 1306.3,915.3 1307.1,914.1 1308.0,916.6 1308.9,919.0 1309.9,917.2 1310.8,918.4 1311.8,919.3 1312.7,918.4 1313.7,922.2 1314.5,920.4 1315.0,912.7 1315.4,918.1 1315.8,916.9 1316.3,916.5 1316.7,916.5 1317.2,915.8 1317.6,909.1 1318.1,908.3 1318.5,909.9 1319.0,908.3 1319.8,910.2 1320.7,907.8 1321.7,909.8 1322.7,907.3 1323.7,906.5 1324.7,909.2 1325.7,908.3 1326.6,907.4 1327.6,908.1 1328.5,908.0 1329.5,907.7 1330.4,908.4 1331.4,910.5 1332.3,907.3 1333.3,908.9 1334.0,911.4 1334.7,908.6 1335.4,911.5 1336.1,906.9 1336.9,906.8 1337.6,906.2 1338.3,904.4 1339.0,905.0 1339.7,908.5 1340.4,909.1 1341.3,901.2 1342.2,905.6 1343.2,904.8 1344.1,903.1 1345.1,899.7 1346.0,899.2 1347.0,900.4 1347.9,897.8 1348.9,904.4 1349.9,906.4 1350.9,907.8 1351.9,899.7 1352.8,898.7 1353.7,906.0 1354.1,903.2 1354.5,898.7 1354.9,901.4 1355.3,900.1 1355.7,900.4 1356.1,901.3 1356.5,894.6 1356.9,892.7 1357.3,895.2 1357.7,898.0 1358.1,893.9 1358.7,893.9 1359.4,893.5 1360.1,889.4 1360.8,897.2 1361.5,896.3 1362.3,893.3 1363.0,892.1 1363.7,895.7 1364.3,900.7 1364.8,902.9 1365.2,903.9 1365.7,906.2 1366.1,904.6 1366.6,901.2 1367.0,900.3 1367.5,904.3 1367.9,905.1 1368.4,903.4 1368.8,910.7 1369.2,904.7 1369.7,905.1 1370.1,905.9 1371.1,908.7 1372.0,911.1 1373.0,906.7 1373.9,905.3 1374.9,909.5 1375.8,912.2 1376.7,908.5 1377.6,911.3 1378.5,908.6 1379.3,906.4 1380.1,903.4 1381.0,901.9 1381.8,902.4 1382.6,907.4 1383.5,905.8 1384.3,905.8 1385.3,907.3 1386.3,907.5 1387.2,902.6 1388.2,900.1 1389.2,898.1 1390.2,903.9 1391.2,900.6 1392.1,906.1 1392.9,908.4 1393.8,902.9 1394.7,908.4 1395.5,905.2 1396.4,906.7 1397.2,910.6 1397.9,904.5 1398.5,905.3 1399.1,906.5 1399.6,912.9 1400.2,915.7 1400.8,912.8 1401.4,909.4 1402.0,916.0 1402.5,913.2 1403.1,916.1 1403.8,920.0 1404.6,918.5 1405.3,916.3 1406.1,915.1 1406.9,913.4 1407.6,912.7 1408.4,911.2 1409.2,912.9 1409.9,914.8 1410.7,906.6 1411.5,907.2 1412.3,911.9 1413.1,915.3 1413.8,914.0 1414.6,912.8 1415.4,911.1 1416.2,915.0 1416.9,910.9 1417.6,912.3 1418.3,918.7 1419.0,918.0 1419.7,919.1 1420.5,914.9 1421.3,912.4 1422.1,918.5 1423.0,912.9 1423.8,914.8 1424.6,915.5 1425.4,913.6 1426.2,911.9 1427.0,913.4 1427.9,913.3 1428.7,908.4 1429.5,909.0 1430.4,912.2 1431.2,911.6 1432.0,907.9 1432.9,909.0 1433.7,908.0 1434.6,904.1 1435.6,903.6 1436.5,909.4 1437.5,909.3 1438.4,905.6 1439.4,905.5 1440.3,903.4 1441.3,901.1 1442.2,902.3 1443.1,903.1 1444.0,903.5 1445.0,900.4 1445.9,906.0 1446.8,903.8 1447.8,899.5 1448.7,904.8 1449.7,901.2 1450.6,906.0 1451.6,905.2 1452.5,906.0 1453.5,904.8 1454.4,909.3 1455.4,904.8 1456.4,901.8 1457.4,905.1 1458.4,907.2 1459.3,903.0 1460.1,905.2 1460.6,908.4 1461.2,904.0 1461.7,910.6 1462.2,907.9 1462.7,909.5 1463.3,908.5 1463.8,913.7 1464.3,913.9 1464.9,912.7 1465.4,912.3 1466.0,916.7 1466.9,912.8 1467.8,910.7 1468.7,907.9 1469.6,914.9 1470.5,916.3 1471.4,915.7 1472.3,917.0 1473.2,912.0 1474.0,915.8 1474.8,914.5 1475.7,911.1 1476.5,911.6 1477.3,911.8 1478.2,912.3 1479.0,912.3 1479.8,913.5 1480.7,919.7 1481.7,913.1 1482.6,915.6 1483.5,919.4 1484.4,920.9 1485.4,914.3 1486.3,920.5 1487.2,917.5 1488.1,920.2 1489.0,920.8 1489.9,923.5 1490.8,925.4 1491.7,924.6 1492.6,919.0 1493.5,919.2 1494.5,919.3 1495.5,917.5 1496.4,918.7 1497.4,918.8 1498.4,926.2 1499.4,924.8 1500.3,926.8 1501.1,927.5 1501.9,926.3 1502.6,924.3 1503.4,919.6 1504.2,917.7 1505.0,917.6 1505.7,921.3 1506.5,916.5 1507.3,916.8 1508.1,920.1 1509.0,914.5 1509.9,918.9 1510.8,914.3 1511.7,915.7 1512.6,920.4 1513.5,922.0 1514.4,925.5 1515.2,922.7 1516.0,923.7 1516.8,922.6 1517.6,916.5 1518.4,921.6 1519.2,913.4 1519.5,917.4 1519.7,914.5 1520.0,911.4 1520.3,910.7 1520.6,913.7 1520.9,915.5 1521.2,911.0 1521.5,913.0 1521.8,907.6 1522.0,910.6 1522.3,911.4 1522.6,908.5 1523.2,904.1 1523.8,901.6 1524.5,899.0 1525.1,904.3 1525.8,905.1"/>
<polyline stroke="#FFFF00" points="188.7,80.5 189.0,82.1 190.4,90.1 191.9,98.1 192.9,103.7"/>
<polyline stroke="#FFFF00" points="197.0,127.0 197.5,130.1 198.9,138.1 200.4,146.1 201.1,150.2"/>
<polyline stroke="#FFFF00" points="205.1,173.5 205.8,178.1 207.1,186.1 208.3,194.1 208.7,196.7"/>
<polyline stroke="#FFFF00" points="212.0,220.0 212.8,226.1 213.9,234.1 215.0,242.1 215.2,243.2"/>
<polyline stroke="#FFFF00" points="218.4,266.5 219.5,274.1 220.6,282.1 221.7,289.7"/>
<polyline stroke="#FFFF00" points="224.9,313.0 225.0,314.1 226.1,322.1 227.2,330.1 228.0,336.2"/>
<polyline stroke="#FFFF00" points="231.0,359.5 231.3,362.1 232.4,370.1 233.4,378.1 234.0,382.7"/>
<polyline stroke="#FFFF00" points="237.0,406.0 237.5,410.1 238.5,418.1 239.6,426.1 240.0,429.2"/>
<polyline stroke="#FFFF00" points="242.9,452.5 243.7,458.1 244.7,466.1 245.7,474.1 245.9,475.7"/>
<polyline stroke="#FFFF00" points="249.2,499.0 250.2,506.1 251.3,514.1 252.5,522.1 252.5,522.2"/>
<polyline stroke="#FFFF00" points="255.8,545.5 255.9,546.1 257.1,554.1 258.2,562.1 259.0,568.7"/>
<polyline stroke="#FFFF00" points="262.0,592.0 262.3,594.1 263.3,602.1 264.4,610.1 265.0,615.2"/>
<polyline stroke="#FFFF00" points="268.1,638.5 268.5,642.1 269.6,650.1 270.6,658.1 271.1,661.7"/>
<polyline stroke="#FFFF00" points="274.1,685.0 274.7,690.1 275.8,698.1 276.9,706.1 277.2,708.2"/>
<polyline stroke="#FFFF00" points="280.6,731.5 281.6,738.1 282.7,746.1 283.9,754.1 284.0,754.7"/>
<polyline stroke="#FFFF00" points="287.4,778.0 287.4,778.1 288.6,786.1 289.7,794.1 290.7,801.2"/>
<polyline stroke="#FFFF00" points="294.0,824.5 294.2,826.1 295.4,834.1 296.5,842.1 297.3,847.7"/>
<polyline stroke="#FFFF00" points="300.6,871.0 301.0,874.1 302.2,882.1 303.3,890.1 303.9,894.2"/>
<polyline stroke="#FFFF00" points="308.6,917.5 309.6,922.1 311.4,930.1 313.1,938.1 313.7,940.7"/>
<polyline stroke="#FFFF00" points="319.2,964.0 320.7,970.1 322.2,978.1 322.8,981.0"/>
<polyline stroke="#FFFF00" points="325.9,997.6 326.7,1002.1 328.7,1010.1 329.3,1012.0"/>
<polyline stroke="#FFFF00" points="331.4,1019.4 333.3,1026.1 334.5,1029.7"/>
<polyline stroke="#FFFF00" points="336.2,1035.0 338.5,1042.1 341.0,1050.1 341.4,1051.5"/>
<polyline stroke="#FFFF00" points="342.8,1055.7 343.5,1058.1 347.7,1066.1 349.5,1069.0"/>
<polyline stroke="#FFFF00" stroke-dasharray="34 10" points="351.3,1074.2 351.6,1074.1 352.0,1080.2 352.3,1080.0 352.6,1082.8 352.9,1081.1 353.3,1085.9 353.6,1087.1 353.9,1085.1 354.2,1089.2 354.6,1083.6 354.9,1080.6 355.3,1085.8 355.6,1086.8 356.0,1084.9 356.3,1083.0 356.7,1075.3"/>
<polyline stroke="#FFFF00" stroke-dasharray="34 10" points="358.3,1066.0 358.6,1064.3 358.9,1067.0 359.2,1066.7 359.4,1065.9 359.7,1061.1 360.0,1064.6 360.3,1057.4 360.6,1060.7 360.9,1059.6 361.2,1054.0 361.9,1059.6"/>
<polyline stroke="#FFFF00" stroke-dasharray="34 10" points="364.2,1047.0 365.2,1040.8 366.2,1044.8 367.1,1043.9 368.0,1045.4 368.9,1044.7 369.8,1044.9 370.6,1047.9 371.5,1050.5 372.4,1045.1 373.2,1049.0 373.9,1047.9 374.6,1045.8 375.3,1046.8 376.0,1047.1 376.7,1046.0 377.4,1043.2 378.2,1045.3 378.9,1044.7 379.6,1041.2 380.4,1037.4 381.4,1038.1 382.3,1038.2 383.3,1039.5 384.2,1045.3 385.2,1039.3 386.1,1044.1 387.1,1043.8 388.0,1041.4 388.8,1045.0 389.7,1043.2 390.6,1041.7 391.5,1045.7 392.4,1046.5 393.3,1047.4 394.2,1043.9 395.1,1044.0 396.0,1046.1 396.9,1046.4 397.8,1040.4 398.7,1040.8 399.6,1038.1 400.5,1035.6 401.4,1035.5 402.3,1040.9 403.2,1038.5 404.1,1037.0 404.9,1041.2 405.8,1042.0 406.8,1043.4 407.8,1036.6 408.8,1034.2 409.8,1033.5 410.8,1036.6 411.8,1041.2 412.7,1043.0 413.7,1041.4 414.7,1042.7 415.7,1040.6 416.7,1035.6 417.7,1033.4 418.7,1033.4 419.6,1033.4 420.6,1038.2 421.6,1038.3 422.6,1038.5 423.6,1037.2 424.6,1039.2 425.6,1038.5 426.5,1039.2 427.5,1036.3 428.5,1037.2 429.5,1032.5 430.5,1040.3 431.5,1037.4 432.5,1034.5 433.5,1039.3 434.4,1035.1 435.4,1034.5 436.3,1033.6 437.3,1031.6 438.2,1034.3 439.2,1034.7 440.1,1035.3 441.1,1037.1 441.8,1038.8 442.3,1033.3 442.8,1029.8 443.3,1035.5 443.9,1032.6 444.4,1034.4 444.9,1031.3 445.4,1033.0 445.9,1025.0 446.4,1023.5 446.9,1028.9 447.5,1021.8 448.0,1024.4 448.5,1023.4 449.3,1025.9 450.2,1024.8 451.1,1023.9 451.9,1023.8 452.8,1017.3 453.7,1020.2 454.6,1019.1 455.5,1020.7 456.4,1016.9 457.3,1016.0 458.2,1016.1 459.1,1022.4 460.0,1019.5"/>
<polyline stroke="#FFFF00" stroke-dasharray="34 10" points="462.5,1035.6 463.5,1035.9 464.5,1040.4 465.5,1042.8 466.4,1044.4 467.4,1042.4 468.4,1039.6 469.4,1043.9 470.4,1044.0 471.4,1043.7 472.4,1042.6 473.4,1043.8 474.4,1039.3 475.4,1041.1 476.4,1044.1 477.4,1041.7 478.3,1042.9 479.2,1043.2 480.1,1035.6 480.9,1033.4 481.8,1038.3 482.7,1041.2 483.6,1037.9 484.4,1038.7 485.1,1037.7 485.7,1034.2 486.3,1036.1 486.9,1035.5 487.6,1036.8 488.2,1034.4 488.8,1026.0 489.6,1030.7 490.5,1033.4 491.4,1033.8 492.3,1030.1 493.2,1030.0 494.1,1030.5 495.0,1035.8 495.9,1035.5 496.6,1037.8 497.3,1029.6 498.1,1030.8 498.8,1033.9 499.5,1029.9 500.2,1033.4 500.9,1030.1 501.8,1029.6 502.8,1031.2 503.7,1029.8 504.7,1032.4 505.6,1031.3 506.6,1033.1 507.5,1027.6 508.3,1026.4 508.9,1024.5 509.4,1029.4 510.0,1032.1 510.6,1030.5 511.2,1029.3 511.8,1026.4 512.4,1026.9 512.9,1023.4 513.5,1022.5 514.2,1026.4 514.9,1024.1 515.7,1020.4 516.5,1018.7 517.3,1017.7 518.1,1018.5 518.9,1014.9 519.6,1017.1 520.4,1013.9 521.2,1014.5 521.9,1017.1 522.7,1021.8 523.5,1020.0 524.2,1022.2 525.0,1023.4 525.8,1019.3 526.5,1018.7 527.4,1021.1 528.4,1026.7 529.4,1022.2 530.4,1027.5 531.4,1022.5 532.4,1025.5 533.4,1021.7 534.4,1024.2 535.4,1020.6 536.4,1021.5 537.4,1024.6 538.4,1027.4 539.4,1023.4 540.3,1020.1 541.3,1026.1 542.2,1019.6 543.0,1020.5 543.9,1026.9 544.7,1026.9 545.6,1029.4 546.5,1030.1 547.3,1025.9 547.9,1028.6 548.5,1023.8 549.2,1021.8 549.8,1024.7 550.5,1026.4 551.1,1021.3 551.7,1019.5 552.4,1020.1 553.0,1017.8 554.0,1018.4 555.0,1021.2 556.0,1017.2 557.0,1022.2 557.9,1018.9 558.9,1022.7 559.9,1020.6 560.9,1017.6 561.9,1015.3 562.9,1013.7 563.9,1013.1 564.8,1017.9 565.8,1018.5 566.8,1018.9 567.8,1018.6 568.7,1023.8 569.7,1022.5 570.6,1021.8 571.6,1023.9 572.5,1018.5 573.5,1024.9 574.4,1023.4 575.3,1022.0 576.2,1018.6 577.1,1025.2 578.0,1026.9 578.9,1020.5 579.8,1018.6 580.7,1026.4 581.6,1026.7 582.6,1022.6 583.6,1024.0 584.5,1026.2 585.5,1029.3 586.5,1028.4 587.5,1024.0 588.5,1022.9 589.4,1025.5 590.4,1020.7 591.3,1024.9 592.3,1029.4 593.2,1022.0 594.2,1026.6 595.1,1025.6 595.9,1027.5 596.5,1024.3 597.0,1024.4 597.5,1022.0 598.1,1016.8 598.6,1021.4 599.1,1020.2 599.7,1019.1 600.2,1016.6 600.7,1015.5 601.2,1011.7 601.8,1008.6 602.7,1008.8 603.5,1009.8 604.3,1012.5 605.1,1012.2 606.1,1015.2"/>
<polyline stroke="#FFFF00" stroke-dasharray="34 10" points="607.8,1026.9 608.8,1029.0 609.5,1026.3 610.2,1027.1 610.9,1032.7 611.6,1032.1 612.2,1033.1 612.9,1031.0 613.6,1038.6 614.3,1039.0 615.0,1037.8 615.7,1038.6 616.4,1035.9 617.2,1039.2 618.2,1041.6 619.2,1036.7 620.2,1035.1 621.2,1038.2 622.2,1035.4 623.2,1037.3 624.0,1036.0 624.5,1032.8 625.1,1034.2 625.6,1038.5 626.1,1036.4 626.6,1031.9 627.2,1028.7 627.7,1027.7 628.2,1035.4 628.8,1034.5 629.3,1032.1 629.9,1030.4 630.8,1032.5 631.6,1025.5 632.4,1029.8 633.3,1030.9 634.1,1025.7 634.9,1028.1 635.7,1024.4 636.6,1026.3 637.5,1023.0 638.5,1021.8 639.5,1029.2 640.5,1023.7 641.5,1022.7 642.5,1022.8 643.4,1025.3 644.4,1023.3 645.3,1021.6 646.2,1024.6 647.1,1026.6 648.0,1023.2 648.9,1032.0 649.8,1026.2 650.6,1028.9 651.4,1033.6 652.1,1032.4 652.8,1032.5 653.6,1032.6 654.3,1029.5 655.0,1027.0 655.7,1026.0 656.4,1022.5 657.1,1027.6 658.0,1025.0 658.8,1027.0 659.7,1022.9 660.5,1021.3 661.4,1025.7 662.3,1031.4 663.1,1027.5 663.8,1024.1 664.5,1024.2 665.2,1029.2 665.9,1022.7 666.6,1022.3 667.3,1024.4 668.0,1020.1 668.7,1020.7 669.4,1017.7 670.1,1022.6 670.6,1017.9 671.2,1017.7 671.7,1020.9 672.2,1025.7 672.8,1027.9 673.3,1030.4 673.8,1026.9 674.4,1023.5 674.9,1027.2 675.4,1031.0 675.9,1029.9 676.8,1031.9 677.7,1030.7 678.6,1031.3 679.5,1035.5 680.4,1031.8 681.3,1032.6 682.2,1032.7 683.1,1037.8 684.0,1038.8 684.9,1034.1 685.8,1034.1 686.7,1033.6 687.6,1031.4 688.5,1034.2 689.4,1036.8 690.3,1035.6 691.2,1036.9 692.2,1033.9 693.2,1040.6 694.1,1040.4 695.1,1034.0"/>
<polyline stroke="#FFFF00" stroke-dasharray="34 10" points="697.5,1022.9 698.5,1030.7 699.5,1030.1 700.5,1031.0 701.5,1031.2 702.5,1028.9 703.5,1028.8 704.4,1023.2 705.4,1024.7 706.4,1026.7 707.4,1023.7 708.4,1022.6 709.4,1023.6"/>
<polyline stroke="#FFFF00" stroke-dasharray="34 10" points="711.7,1039.6 712.7,1039.4 713.7,1039.1 714.6,1037.8 715.5,1035.3 716.4,1033.6 717.3,1033.7 718.2,1040.6 719.1,1036.5 720.0,1033.3 720.9,1040.5 721.9,1038.9 722.9,1036.7 723.9,1033.8 724.9,1040.8 725.8,1040.0 726.8,1042.3 727.8,1036.1 728.8,1040.6 729.8,1038.2 730.8,1038.1 731.8,1042.6 732.8,1042.9 733.8,1035.8 734.8,1033.2 735.8,1035.9 736.8,1040.4 737.8,1040.5 738.8,1040.6 739.8,1042.2 740.8,1039.0 741.8,1038.0 742.7,1039.6 743.7,1036.6 744.7,1041.1 745.1,1040.2 745.4,1040.3 745.8,1040.7 746.1,1040.6 746.4,1034.7 746.8,1031.5 747.1,1031.9 747.5,1029.2 747.8,1027.4 748.2,1025.8 748.5,1028.9 748.8,1024.0 749.2,1025.6 749.6,1029.1 750.6,1022.2 751.5,1025.8 752.5,1021.5 753.5,1025.2 754.5,1028.4 755.5,1021.9 756.5,1027.0 757.3,1029.1 758.0,1027.8 758.8,1023.5 759.6,1031.1 760.3,1029.9 761.1,1029.0 761.9,1033.5 762.6,1032.0 763.4,1034.4 764.1,1031.8 764.7,1028.5 765.3,1033.9 766.0,1029.3 766.6,1035.2 767.2,1035.1 767.8,1040.3 768.5,1038.2 768.8,1033.9 769.2,1041.9 769.5,1041.8 769.9,1036.5 770.2,1038.8 770.6,1041.2 770.9,1044.3 771.3,1040.0 771.6,1041.6 772.0,1043.5 772.9,1046.1 773.9,1048.2"/>
<polyline stroke="#FFFF00" stroke-dasharray="34 10" points="775.8,1032.4 776.8,1027.4 777.8,1033.1 778.5,1032.5 779.1,1031.2 779.7,1035.2 780.4,1036.1 781.0,1035.2 781.6,1031.4 782.2,1035.9 782.8,1039.3 783.2,1040.3 783.6,1039.9 784.0,1035.2 784.4,1032.9 784.8,1029.3 785.2,1027.7 785.7,1028.4 786.1,1026.0 786.5,1025.5 786.9,1029.2 787.3,1027.6 788.0,1029.3 788.9,1028.1 789.8,1023.2 790.8,1020.9 791.7,1022.2 792.7,1026.7 793.6,1020.6 794.5,1023.5 795.5,1027.2 796.4,1020.8 797.4,1019.7 798.3,1021.1 799.3,1018.6 800.3,1025.5 801.3,1025.3 802.3,1019.4 803.3,1016.8 804.3,1023.2 805.3,1023.9 806.3,1020.4 807.3,1016.6 808.3,1016.0"/>
<polyline stroke="#FFFF00" stroke-dasharray="34 10" points="810.2,1033.7 811.2,1031.0 812.2,1035.1 813.2,1029.4 814.2,1031.2 815.2,1030.3 816.2,1028.3"/>
<polyline stroke="#FFFF00" stroke-dasharray="34 10" points="817.9,1044.7 818.9,1042.8 819.9,1038.5 820.9,1044.7 821.9,1043.6"/>
<polyline stroke="#FFFF00" stroke-dasharray="34 10" points="824.4,1025.1 825.4,1032.0 826.4,1024.7 827.4,1026.1 828.4,1033.0 829.3,1031.9 830.3,1029.8 831.3,1027.0 832.2,1026.1 833.2,1025.0 834.1,1033.0 835.1,1034.7 836.0,1034.1 836.9,1028.7 837.8,1028.2 838.7,1032.3 839.6,1032.7 840.5,1035.6 841.4,1038.8 842.3,1038.7 843.3,1034.4 844.2,1029.3 845.2,1036.8 846.2,1030.5 847.2,1030.8 848.2,1034.0 849.2,1032.6 849.8,1030.0 850.4,1038.2 851.0,1034.4 851.6,1039.5 852.2,1037.8 852.8,1038.5 853.4,1036.6 854.0,1037.2 854.6,1036.4 855.2,1036.3 855.8,1041.4 856.4,1047.1 857.2,1042.1 857.9,1037.3 858.7,1042.6 859.5,1043.8 860.2,1037.7 861.0,1043.0 861.8,1041.2 862.5,1035.0 863.3,1032.5 864.0,1038.8 864.7,1032.0 865.4,1029.3 866.1,1028.5 866.8,1032.3 867.6,1032.1 868.3,1036.1 869.0,1028.1 869.7,1034.5 870.4,1034.6 871.3,1028.4 872.3,1027.2 873.3,1029.5 874.3,1027.0 875.3,1030.9 876.3,1034.5 877.3,1034.3 878.3,1029.5 879.3,1030.3 880.2,1028.6 880.9,1030.3 881.7,1024.6 882.4,1025.6 883.2,1023.6 883.9,1028.8 884.7,1026.3 885.4,1029.6 886.1,1023.8 886.9,1019.8 887.7,1021.5 888.4,1018.7 889.2,1018.7 890.0,1021.1 890.7,1016.7 891.5,1024.1 892.3,1023.8 893.0,1022.1 893.8,1021.6 894.8,1016.5 895.8,1021.3 896.8,1018.1"/>
<polyline stroke="#FFFF00" stroke-dasharray="34 10" points="898.7,1037.6 899.7,1038.0 900.7,1040.8 901.7,1037.9 902.7,1043.5 903.7,1040.2 904.7,1037.5"/>
<polyline stroke="#FFFF00" stroke-dasharray="34 10" points="906.4,1028.8 907.4,1032.4 908.4,1027.0 909.4,1034.6 910.4,1027.9 911.4,1026.9 912.4,1026.6 913.4,1029.1 914.4,1025.8 915.3,1030.9 916.3,1028.7 917.3,1033.7 918.3,1030.8 919.3,1031.4 920.3,1028.1 921.3,1031.9"/>
<polyline stroke="#FFFF00" stroke-dasharray="34 10" points="923.0,1014.9 924.0,1014.0 925.0,1012.1 926.0,1007.9 927.0,1012.9 928.0,1010.1 929.0,1012.9"/>
<polyline stroke="#FFFF00" stroke-dasharray="34 10" points="930.7,1027.7 931.7,1026.8 932.7,1032.3 933.7,1031.8 934.6,1026.4 935.5,1025.0 936.4,1022.3 937.2,1023.1 938.1,1025.7 939.0,1029.7 939.8,1030.5 940.7,1027.9 941.6,1021.4 942.4,1021.6 943.3,1027.3 944.2,1030.2 945.1,1024.1 946.0,1022.1 946.9,1026.1 947.8,1024.6 948.7,1024.6 949.6,1026.2 950.6,1031.0 951.5,1024.3 952.5,1031.1 953.4,1030.8 954.4,1032.1 955.3,1026.9 956.2,1028.2 957.2,1028.5 958.1,1030.3 959.1,1026.0 960.0,1031.3 961.0,1031.7 961.9,1025.3 962.9,1026.8 963.8,1029.9 964.5,1028.9 965.1,1033.2 965.8,1030.4 966.4,1033.1 967.1,1032.2 967.7,1032.0 968.4,1028.6 969.0,1035.4 969.7,1031.9 970.3,1037.0 971.0,1037.8 971.8,1033.2 972.7,1039.6 973.5,1039.6 974.3,1034.2 975.2,1037.6 976.0,1042.7 976.8,1043.9 977.7,1042.0 978.6,1041.3 979.6,1044.8 980.6,1037.8 981.6,1040.4 982.5,1041.6 983.5,1037.8 984.5,1040.8 985.5,1042.5 986.5,1039.3 987.4,1037.9 988.4,1037.4 989.3,1044.0 990.3,1037.5 991.2,1036.7 992.2,1039.4 993.1,1038.8 993.8,1039.2 994.3,1035.1 994.8,1032.4 995.4,1037.8 995.9,1039.0 996.4,1037.1 997.0,1034.0 997.5,1036.3 998.0,1030.6 998.5,1028.4 999.1,1026.3 999.9,1025.1 1000.9,1031.0 1001.9,1030.0"/>
<polyline stroke="#FFFF00" stroke-dasharray="34 10" points="1003.7,1016.9 1004.7,1012.5 1005.7,1011.7 1006.7,1010.8 1007.6,1013.5 1008.5,1015.9 1009.4,1009.5 1010.4,1012.2 1011.3,1016.6 1012.2,1010.0 1012.9,1016.2 1013.6,1016.9 1014.2,1010.3 1014.9,1010.7 1015.5,1011.3 1016.2,1011.3 1016.8,1015.2 1017.5,1016.8 1018.1,1015.6 1018.8,1016.9 1019.4,1021.1 1020.4,1023.5 1021.4,1024.0 1022.4,1025.5 1023.4,1021.2 1024.3,1023.3 1025.3,1021.4 1026.3,1018.6 1027.3,1018.6 1028.3,1022.1 1029.3,1025.8 1030.3,1017.5 1031.2,1019.3 1032.2,1022.3 1033.2,1023.9 1034.2,1018.9 1035.2,1020.4 1036.2,1020.2 1037.2,1022.9 1038.2,1018.2 1039.2,1021.4 1040.2,1023.3 1041.1,1023.7 1042.0,1026.3 1042.8,1027.5 1043.6,1025.6 1044.5,1020.1 1045.3,1026.4 1046.1,1025.7 1047.0,1024.7 1047.8,1029.0 1048.6,1023.7 1049.4,1021.8 1050.2,1024.5 1051.1,1029.1 1051.9,1027.0 1052.7,1029.2 1053.5,1033.9 1054.3,1033.6 1055.1,1031.4 1055.9,1027.5 1056.7,1033.8 1057.5,1028.1 1058.3,1024.1 1059.0,1031.9 1059.8,1024.5 1060.6,1029.2 1061.3,1024.2 1062.1,1029.5 1062.9,1023.6 1063.7,1026.0 1064.7,1028.8 1065.7,1027.0 1066.7,1028.7 1067.7,1025.3 1068.7,1026.6 1069.7,1022.6 1070.6,1023.1 1071.6,1022.4 1072.5,1027.0 1073.4,1027.1 1074.3,1021.1 1075.2,1025.0 1076.1,1027.9 1077.0,1024.8 1077.9,1021.9 1078.8,1024.6 1079.8,1024.2 1080.8,1018.7 1081.8,1021.1 1082.8,1021.7 1083.8,1023.8 1084.8,1024.0 1085.8,1024.5 1086.8,1022.4 1087.8,1025.6 1088.8,1022.1 1089.8,1024.5 1090.8,1027.7 1091.8,1026.7 1092.8,1026.2 1093.7,1019.8 1094.5,1024.9 1095.3,1026.8 1096.2,1023.9 1097.0,1020.7 1097.8,1025.2 1098.7,1024.4 1099.5,1022.7 1100.4,1028.3 1101.4,1025.7 1102.4,1023.7 1103.4,1023.4"/>
<polyline stroke="#FFFF00" stroke-dasharray="34 10" points="1105.1,1016.6 1106.1,1013.7 1107.1,1018.4 1108.1,1020.4 1109.1,1021.6 1110.1,1017.6 1111.1,1016.9"/>
<polyline stroke="#FFFF00" stroke-dasharray="34 10" points="1113.4,1026.7 1114.4,1026.5 1115.4,1025.7 1116.4,1018.9 1117.4,1020.8 1118.3,1024.3 1119.2,1019.5 1120.1,1018.2 1121.1,1022.6 1122.0,1026.9 1122.9,1021.6 1123.8,1022.9 1124.7,1020.5 1125.7,1020.8 1126.7,1022.7 1127.7,1024.0 1128.6,1030.0 1129.6,1027.4 1130.6,1022.6 1131.6,1026.8 1132.6,1029.1 1133.6,1024.0 1134.6,1026.6"/>
<polyline stroke="#FFFF00" stroke-dasharray="34 10" points="1137.2,1017.3 1138.2,1014.8 1139.2,1014.5 1140.2,1019.6 1140.9,1017.1 1141.6,1022.4 1142.2,1017.1 1142.8,1019.6 1143.5,1025.1 1144.1,1024.8 1144.8,1022.6 1145.4,1028.5 1146.0,1027.8 1146.8,1027.1 1147.8,1021.6 1148.8,1021.0 1149.8,1028.6 1150.7,1030.5 1151.6,1022.3 1152.5,1025.2 1153.3,1019.8 1154.2,1019.3 1155.0,1018.2 1155.7,1024.0 1156.5,1027.0 1157.2,1024.8 1158.0,1018.9 1158.8,1015.9 1159.5,1020.3 1160.3,1018.2 1161.0,1022.4 1161.8,1022.8 1162.6,1013.9 1163.3,1013.8 1164.0,1021.9 1164.7,1017.3 1165.4,1023.4 1166.1,1023.9 1166.8,1024.2 1167.5,1019.3 1168.2,1019.6 1168.9,1023.2 1169.6,1020.6 1170.2,1026.8 1170.7,1019.5 1171.2,1024.8 1171.7,1019.2 1172.2,1023.4 1172.7,1020.1 1173.2,1014.5 1173.8,1014.8 1174.3,1020.2 1174.8,1015.2 1175.3,1009.9 1175.8,1015.1 1176.3,1010.2 1176.9,1013.6 1177.9,1009.9 1178.9,1008.7 1179.9,1012.9"/>
<polyline stroke="#FFFF00" stroke-dasharray="34 10" points="1181.7,1024.9 1182.7,1026.2 1183.7,1020.8 1184.7,1020.9 1185.7,1025.1 1186.7,1020.1 1187.7,1018.2 1188.7,1025.1 1189.7,1028.1 1190.7,1025.0 1191.7,1019.9 1192.6,1020.9 1193.4,1019.4 1194.2,1028.8 1195.0,1022.1 1195.7,1021.4 1196.5,1023.9 1197.3,1030.0 1198.1,1029.0 1199.0,1026.7 1199.9,1029.2 1200.8,1031.4 1201.7,1029.3 1202.7,1024.1 1203.6,1022.7 1204.5,1022.8 1205.4,1021.0 1206.3,1025.2 1207.3,1025.5 1208.3,1020.3 1209.2,1018.4 1210.2,1020.4 1211.1,1026.0 1212.1,1027.4 1213.1,1022.4 1214.0,1026.1 1215.0,1024.2 1216.0,1025.5 1217.0,1026.0"/>
<polyline stroke="#FFFF00" stroke-dasharray="34 10" points="1219.1,1031.0 1220.1,1037.2 1221.1,1033.8 1222.1,1031.3 1223.1,1036.1 1224.1,1037.2 1225.1,1031.5"/>
<polyline stroke="#FFFF00" stroke-dasharray="34 10" points="1226.8,1030.0 1227.8,1029.9 1228.8,1032.3 1229.8,1029.4 1230.8,1028.7 1231.8,1027.1 1232.8,1031.8 1233.8,1029.2 1234.8,1030.1 1235.8,1028.3 1236.8,1025.6 1237.7,1032.8 1238.7,1025.9 1239.7,1031.4 1240.7,1031.3 1241.7,1032.9"/>
<polyline stroke="#FFFF00" stroke-dasharray="34 10" points="1243.4,1014.3 1244.4,1010.4 1245.4,1018.7 1246.4,1017.2 1247.4,1017.0 1248.4,1013.9 1249.4,1010.6 1250.4,1018.2"/>
<polyline stroke="#FFFF00" stroke-dasharray="34 10" points="1252.3,1022.0 1253.3,1023.7 1254.3,1026.3 1255.3,1028.4 1256.3,1026.9 1256.9,1029.5 1257.6,1025.9 1258.2,1024.5 1258.9,1023.8 1259.5,1027.8 1260.1,1030.3 1260.8,1031.5 1261.4,1034.5 1262.1,1034.9 1262.6,1036.2 1263.2,1029.6 1263.7,1033.2 1264.3,1035.3 1264.9,1039.3 1265.4,1033.0 1266.0,1038.5 1266.5,1036.2 1267.1,1041.5 1267.7,1033.7 1268.2,1031.3 1268.8,1033.7 1269.4,1035.1 1270.0,1029.8 1270.6,1032.1 1271.2,1032.8 1271.7,1035.0 1272.3,1028.8 1272.9,1028.6 1273.7,1031.0 1274.6,1025.9 1275.4,1023.2 1276.2,1024.6 1277.1,1028.1 1277.9,1026.6 1278.7,1029.6 1279.6,1028.4 1280.5,1026.4 1281.5,1030.0 1282.5,1027.3"/>
<polyline stroke="#FFFF00" stroke-dasharray="34 10" points="1284.4,1038.6 1285.4,1041.0 1286.4,1040.8 1287.2,1034.7 1287.5,1040.1 1287.8,1039.5 1288.0,1038.3 1288.3,1038.0 1288.6,1045.3 1288.9,1046.9 1289.2,1047.2 1289.5,1043.5 1289.8,1043.3 1290.1,1046.0 1290.3,1049.5 1290.6,1047.7 1291.5,1053.0 1292.5,1049.8 1293.5,1053.9 1294.5,1049.2 1295.5,1052.2 1296.5,1051.9 1297.4,1047.2 1298.4,1049.0 1299.4,1048.6 1300.4,1047.2 1301.4,1049.7 1302.4,1047.7 1303.4,1050.8 1304.4,1049.7 1305.4,1048.7 1306.3,1051.3 1307.1,1048.9 1308.0,1044.1 1308.8,1046.4 1309.6,1043.5 1310.5,1042.2 1311.3,1038.7 1312.1,1044.4 1313.0,1039.7 1313.9,1045.5 1314.9,1039.2 1315.9,1045.7 1316.9,1046.1"/>
<polyline stroke="#FFFF00" stroke-dasharray="34 10" points="1318.8,1032.4 1319.8,1029.9 1320.8,1028.1 1321.8,1034.2 1322.8,1035.8 1323.5,1035.0 1324.3,1035.8 1325.1,1037.8 1325.8,1033.9 1326.6,1037.6 1327.4,1036.6 1328.1,1038.0 1328.9,1034.1 1329.7,1035.0 1330.6,1038.6 1331.5,1041.6 1332.5,1036.7 1333.4,1042.4 1334.4,1036.8 1335.3,1035.8 1336.3,1041.6 1337.2,1041.5 1338.2,1044.0 1339.2,1040.5"/>
<polyline stroke="#FFFF00" stroke-dasharray="34 10" points="1341.3,1026.4 1342.3,1031.1 1343.3,1028.6 1344.3,1026.5 1345.3,1033.1 1346.3,1028.4 1347.3,1030.5 1348.3,1030.0 1349.3,1032.1 1350.2,1033.2 1351.2,1030.9 1352.2,1031.8 1352.8,1031.0 1353.4,1030.9 1354.0,1025.3 1354.5,1024.7 1355.1,1022.9 1355.6,1019.3 1356.2,1024.2 1356.7,1026.1 1357.4,1020.4 1358.4,1019.7"/>
<polyline stroke="#FFFF00" stroke-dasharray="34 10" points="1360.9,1013.4 1361.9,1018.8 1362.9,1020.1 1363.4,1013.9 1363.8,1015.4 1364.2,1020.1 1364.6,1024.0 1365.1,1022.0 1365.5,1024.2 1365.9,1028.1 1366.3,1024.7 1366.7,1023.1 1367.1,1025.2 1367.5,1024.8 1367.9,1029.3 1368.4,1027.0 1368.8,1030.4 1369.5,1032.8 1370.5,1030.6 1371.4,1030.9 1372.4,1029.3 1373.4,1030.0 1374.4,1025.8 1375.4,1026.1 1376.4,1027.3 1377.3,1023.8 1378.3,1031.2 1379.3,1024.6 1380.2,1023.6 1381.2,1027.2 1382.1,1028.7 1383.1,1031.5 1384.1,1030.3 1385.0,1027.0 1385.9,1028.9 1386.8,1024.8 1387.8,1022.8 1388.7,1030.7 1389.6,1027.1 1390.5,1026.1 1391.4,1032.9 1392.4,1028.8 1393.3,1032.3 1394.3,1029.1 1395.3,1026.1"/>
<polyline stroke="#FFFF00" stroke-dasharray="34 10" points="1397.7,1039.2 1398.7,1036.6 1399.7,1039.8 1400.7,1044.8 1401.6,1039.8 1402.6,1038.4 1403.6,1036.2 1404.5,1039.1 1405.5,1035.7 1406.4,1042.9 1407.4,1041.5 1408.4,1044.6 1409.3,1037.2 1410.2,1039.8 1411.0,1041.6 1411.8,1038.9 1412.7,1041.3 1413.5,1045.8 1414.3,1047.9 1415.2,1042.4 1416.0,1044.4 1416.7,1047.0 1417.2,1043.0 1417.7,1041.3 1418.2,1049.5 1418.7,1051.4 1419.2,1050.9 1419.8,1051.0 1420.5,1051.4 1421.5,1054.4 1422.4,1054.6 1423.4,1046.3 1424.3,1046.1 1425.3,1049.6 1426.3,1048.7 1427.2,1049.6 1428.2,1044.1 1429.2,1042.7 1430.2,1047.3"/>
<polyline stroke="#FFFF00" stroke-dasharray="34 10" points="1432.7,1043.6 1433.7,1039.3 1434.7,1037.3 1435.7,1036.7 1436.7,1040.8 1437.5,1038.3 1438.3,1043.8 1439.2,1040.5 1440.0,1044.3 1440.9,1041.2 1441.7,1037.5 1442.6,1038.6 1443.4,1036.2 1444.3,1034.9 1445.1,1039.0 1446.0,1039.8 1446.9,1033.7 1447.8,1033.7 1448.8,1033.5 1449.7,1036.0 1450.6,1032.1 1451.5,1030.2 1452.4,1033.6 1453.4,1033.3 1454.3,1033.7 1455.3,1034.7 1456.3,1037.7 1457.3,1034.5 1458.2,1036.9 1459.2,1035.3 1460.1,1035.9 1460.9,1030.8 1461.7,1028.1 1462.5,1035.0 1463.2,1034.5 1464.0,1031.8 1464.8,1035.2 1465.6,1030.8 1466.4,1027.7 1467.2,1032.3 1468.1,1036.0 1468.9,1028.4 1469.7,1029.7 1470.6,1035.3 1471.4,1031.4 1472.2,1036.5 1473.1,1036.3 1474.1,1038.9 1475.1,1030.7 1476.1,1034.7"/>
<polyline stroke="#FFFF00" stroke-dasharray="34 10" points="1477.8,1039.3 1478.8,1037.5 1479.8,1037.2 1480.8,1037.7 1481.8,1038.8 1482.8,1043.9 1483.8,1045.9"/>
<polyline stroke="#FFFF00" stroke-dasharray="34 10" points="1485.5,1035.3 1486.5,1034.6 1487.5,1035.9 1488.5,1035.0 1489.4,1027.6 1490.3,1030.2 1491.2,1028.6 1492.1,1032.1 1493.0,1030.2 1493.9,1033.3 1494.8,1032.6 1495.7,1037.2 1496.7,1033.9 1497.7,1036.4 1498.7,1035.9 1499.7,1036.3 1500.7,1038.9 1501.6,1033.7 1502.6,1030.2 1503.6,1033.9 1504.5,1037.0 1505.4,1034.7 1506.2,1031.8 1507.1,1035.6 1507.9,1038.2 1508.8,1041.4 1509.6,1041.5 1510.6,1038.4 1511.5,1036.4 1512.5,1041.8 1513.4,1041.8 1514.4,1038.7 1515.3,1042.8 1516.3,1040.3 1517.2,1043.8 1518.1,1035.8 1519.0,1037.6 1519.9,1038.3 1520.8,1038.6"/>
<polyline stroke="#FFFF00" stroke-dasharray="34 10" points="1523.3,1019.3 1524.3,1020.3 1525.3,1014.8"/>
<polyline stroke="#FFD700" points="185.6,66.1 202.6,170.5 220.6,301.0 244.4,480.0 256.2,560.0 275.6,700.0 288.6,789.0 303.6,895.0 309.7,931.0 314.9,962.3 319.1,987.2 324.3,1016.3 329.4,1045.3 334.6,1072.3 338.8,1097.2 339.0,1101.5 339.2,1096.6 339.4,1101.8 339.7,1104.8 339.9,1105.4 340.1,1102.0 340.3,1102.3 340.5,1106.7 340.7,1110.9 340.9,1109.8 341.2,1109.0 341.4,1108.1 341.6,1108.8 341.8,1112.7 342.0,1111.6 342.2,1113.1 342.4,1115.1 342.7,1116.4 342.9,1111.8 343.3,1113.1 343.7,1118.6 344.2,1119.4 344.6,1122.8 345.1,1116.8 345.5,1117.7 346.0,1121.2 346.4,1125.1 346.9,1121.4 347.2,1126.7 347.3,1125.4 347.4,1124.8 347.5,1130.4 347.6,1125.6 347.7,1133.1 347.8,1129.7 347.9,1130.1 348.1,1129.5 348.2,1132.6 348.3,1137.7 348.4,1133.8 348.5,1136.7 348.6,1137.1 348.7,1136.6 348.8,1135.6 348.9,1141.5 349.1,1141.1 349.2,1142.2 349.4,1144.5 349.6,1141.0 349.8,1147.7 350.0,1150.8 350.2,1146.2 350.4,1151.2 350.6,1152.1 350.8,1149.2 351.0,1148.9 351.2,1147.8 351.4,1151.4 351.7,1153.4 351.9,1155.0 352.1,1156.1 352.3,1157.7 353.0,1154.5 353.7,1155.2 354.4,1159.1 355.1,1159.5 355.5,1155.8 356.0,1155.1 356.4,1161.0 356.9,1160.1 357.3,1158.5 357.8,1153.9 358.3,1152.7 358.7,1154.5 359.2,1152.9 359.6,1152.5 359.9,1145.9 360.2,1150.1 360.5,1145.4 360.8,1144.8 361.1,1145.9 361.3,1149.4 361.6,1144.4 361.9,1144.7 362.2,1139.9 362.5,1145.0 363.1,1139.1 363.9,1140.2 364.8,1141.4 365.7,1141.6 366.6,1138.9 367.0,1140.9 367.3,1136.1 367.6,1144.9 367.9,1143.8 368.2,1144.6 368.5,1142.2 368.7,1144.5 369.0,1147.4 369.3,1146.6 369.6,1144.3 369.9,1145.2 370.4,1152.5 370.9,1148.6 371.4,1151.2 371.9,1154.4 372.4,1151.1 372.9,1156.6 373.3,1153.8 373.7,1156.9 374.0,1149.9 374.3,1149.5 374.7,1148.1 375.0,1146.2 375.4,1146.5 375.7,1145.9 376.1,1144.7 376.4,1148.2 376.8,1143.2 377.1,1138.7 377.8,1144.6 378.6,1143.7 379.3,1140.0 380.1,1146.5 380.9,1148.3 381.7,1148.6 382.5,1150.6 383.5,1145.9 384.5,1150.4 385.4,1147.1 386.4,1151.2 387.4,1153.7 388.0,1150.7 388.6,1149.3 389.1,1152.6 389.7,1153.9 390.2,1152.8 390.8,1149.1 391.3,1151.4 391.9,1155.2 392.5,1148.8 393.1,1150.4 393.7,1155.1 394.2,1153.7 394.8,1148.4 395.4,1145.2 396.0,1148.0 396.6,1148.5 397.2,1145.0 398.1,1145.9 398.9,1150.3 399.7,1147.7 400.6,1145.6 401.4,1140.1 402.2,1142.2 403.1,1138.0 403.8,1146.8 404.5,1145.3 405.2,1146.2 405.9,1147.8 406.5,1142.6 407.2,1149.3 407.9,1150.4 408.6,1144.4 409.2,1150.3 409.9,1150.7 410.5,1151.4 411.2,1142.4 411.8,1147.5 412.4,1146.9 413.1,1141.1 413.7,1137.4 414.4,1141.8 415.4,1137.1 416.4,1140.6 417.4,1144.0 418.4,1140.9 419.4,1139.5 420.4,1140.1 421.3,1137.6 422.3,1136.8 423.2,1141.7 424.1,1145.7 425.1,1148.6 426.0,1141.1 426.6,1140.3 427.1,1144.4 427.6,1139.7 428.1,1142.5 428.6,1144.2 429.1,1143.2 429.6,1140.0 430.2,1139.6 430.7,1140.1 431.2,1132.7 431.7,1132.1 432.2,1135.1 432.7,1132.7 433.3,1134.3 434.2,1137.3 435.1,1135.9 436.0,1134.6 437.0,1135.8 437.9,1138.3 438.8,1131.3 439.7,1128.7 440.6,1134.8 441.4,1136.5 442.3,1134.7 443.1,1131.9 444.0,1129.0 444.9,1134.7 445.4,1132.8 445.8,1134.3 446.2,1130.9 446.6,1131.2 447.0,1124.6 447.5,1127.0 447.9,1120.9 448.3,1120.9 448.7,1121.4 449.1,1121.6 449.5,1125.5 449.9,1122.3 450.4,1115.8 450.8,1120.1 451.3,1120.2 452.1,1120.5 452.8,1121.1 453.6,1119.2 454.4,1115.8 455.1,1115.8 455.9,1109.5 456.6,1110.5 457.4,1110.6 458.2,1113.3 458.9,1107.0 459.5,1107.0 459.8,1108.3 460.2,1108.9 460.5,1112.4 460.8,1119.0 461.2,1114.9 461.5,1112.1 461.9,1111.6 462.2,1119.2 462.6,1118.4 462.9,1124.6 463.2,1119.8 463.6,1126.3 463.9,1122.2 464.3,1128.3 464.7,1130.1 465.1,1126.1 465.5,1122.8 465.9,1127.8 466.3,1129.4 466.7,1131.0 467.1,1127.3 467.4,1133.8 468.1,1131.1 469.0,1130.4 469.9,1128.3 470.8,1127.5 471.7,1131.8 472.6,1130.2 473.5,1131.8 474.4,1136.6 475.1,1137.6 475.6,1134.1 476.1,1130.5 476.6,1132.8 477.2,1130.4 477.7,1134.9 478.2,1133.3 478.8,1133.2 479.3,1126.9 479.8,1129.4 480.4,1126.1 480.9,1123.1 481.7,1120.5 482.4,1123.1 483.1,1124.6 483.8,1120.6 484.5,1117.6 485.2,1121.0 485.9,1120.7 486.6,1122.0 487.4,1124.5 488.1,1118.9 488.9,1125.7 489.7,1121.4 490.4,1125.1 491.2,1121.6 492.0,1126.3 492.8,1124.0 493.5,1125.6 494.2,1128.9 494.8,1127.9 495.5,1127.0 496.1,1127.7 496.8,1122.5 497.4,1119.1 498.0,1123.2 498.7,1121.3 499.3,1117.2 500.1,1123.0 501.0,1124.1 501.9,1123.8 502.8,1120.8 503.7,1123.7 504.5,1120.9 505.4,1119.5 506.3,1124.5 507.1,1123.5 507.8,1123.9 508.5,1117.0 509.3,1119.1 510.0,1118.1 510.7,1113.7 511.4,1119.7 511.9,1116.8 512.3,1115.7 512.8,1115.7 513.2,1115.4 513.7,1109.9 514.1,1108.6 514.6,1106.6 515.0,1110.6 515.5,1106.5 515.9,1109.8 516.4,1110.9 516.8,1110.1 517.2,1111.4 517.9,1106.8 518.7,1105.4 519.5,1105.0 520.3,1104.7 521.1,1103.4 521.9,1100.1 522.6,1103.9 523.2,1106.1 523.9,1103.3 524.5,1100.8 525.1,1105.4 525.8,1103.9 526.4,1104.8 527.1,1110.9 527.7,1112.2 528.5,1114.3 529.4,1111.0 530.4,1111.4 531.4,1106.7 532.4,1109.1 533.4,1108.8 534.3,1105.3 535.3,1108.8 536.3,1109.8 537.3,1105.8 538.3,1110.7 539.3,1107.2 540.3,1112.3 541.2,1107.9 542.2,1112.9 543.1,1113.1 544.0,1109.3 545.0,1107.1 545.9,1110.2 546.8,1110.0 547.7,1111.8 548.5,1110.7 549.3,1105.6 550.2,1106.4 551.0,1108.6 551.8,1110.1 552.7,1105.9 553.5,1107.2 554.3,1103.9 555.3,1108.8 556.2,1109.1 557.2,1106.3 558.1,1104.2 559.1,1112.1 560.0,1106.5 561.0,1109.1 562.0,1105.7 562.9,1105.9 563.9,1104.9 564.9,1111.1 565.9,1109.0 566.9,1104.5 567.8,1102.5 568.8,1107.3 569.8,1105.0 570.8,1109.4 571.8,1108.8 572.8,1109.0 573.8,1104.3 574.7,1103.6 575.4,1109.6 576.2,1113.4 577.0,1110.0 577.7,1109.5 578.5,1110.1 579.3,1107.1 580.1,1107.4 580.8,1107.2 581.6,1107.7 582.6,1110.4 583.5,1109.5 584.4,1117.1 585.4,1117.6 586.3,1119.7 587.3,1111.4 588.2,1117.2 589.2,1117.9 590.1,1117.3 590.9,1110.4 591.8,1117.1 592.7,1118.6 593.6,1115.3 594.5,1114.8 595.4,1109.5 596.2,1113.9 597.0,1107.2 597.8,1110.1 598.5,1113.0 599.3,1107.7 600.1,1107.3 600.8,1108.7 601.6,1102.3 602.4,1102.0 603.0,1107.7 603.4,1111.6 603.8,1105.4 604.2,1104.8 604.6,1104.2 605.1,1111.6 605.5,1116.3 605.9,1109.0 606.3,1115.0 606.7,1115.2 607.1,1112.7 607.5,1117.1 607.9,1117.0 608.4,1115.0 608.8,1115.4 609.3,1116.4 609.7,1115.9 610.3,1118.9 611.1,1123.1 611.9,1118.8 612.7,1122.1 613.5,1127.6 614.3,1124.6 615.1,1121.2 615.9,1127.3 616.7,1129.9 617.4,1123.9 618.3,1129.6 619.1,1132.0 620.0,1131.4 620.9,1133.8 621.7,1132.9 622.6,1132.7 623.4,1127.6 624.1,1133.1 624.6,1133.3 625.1,1127.9 625.7,1127.6 626.2,1128.7 626.7,1123.4 627.3,1122.6 627.8,1120.7 628.3,1125.9 628.8,1121.2 629.4,1117.4 630.0,1123.4 630.7,1123.0 631.4,1117.2 632.1,1113.3 632.8,1115.8 633.5,1120.3 634.2,1114.1 634.9,1114.9 635.7,1110.1 636.6,1112.1 637.5,1114.1 638.4,1116.4 639.4,1111.3 640.3,1110.9 641.2,1111.0 642.1,1108.0 643.0,1114.7 643.9,1116.7 644.8,1111.4 645.7,1113.2 646.6,1118.6 647.5,1119.8 648.4,1119.0 649.3,1114.0 650.3,1112.9 651.3,1115.4 652.3,1117.6 653.3,1116.1 654.3,1118.5 655.3,1119.9 656.2,1111.8 657.0,1117.7 657.8,1114.7 658.7,1114.2 659.5,1113.3 660.3,1114.1 661.2,1112.2 662.0,1111.3 662.8,1112.3 663.6,1108.6 664.5,1107.2 665.3,1103.8 666.1,1111.2 666.9,1109.0 667.7,1109.9 668.5,1108.8 669.3,1108.5 670.2,1103.0 671.0,1108.1 671.6,1103.5 672.2,1109.1 672.8,1110.6 673.4,1112.7 674.0,1114.1 674.6,1112.1 675.2,1114.5 675.8,1109.0 676.4,1111.7 677.0,1115.1 677.6,1113.3 678.2,1111.7 679.2,1115.0 680.1,1114.6 681.1,1111.6 682.1,1112.0 683.1,1112.6 684.1,1118.9 684.8,1113.7 685.5,1113.6 686.2,1119.2 686.9,1116.2 687.6,1114.9 688.4,1121.1 689.1,1122.3 689.8,1123.9 690.5,1118.0 691.2,1118.2 691.9,1115.1 692.6,1117.9 693.3,1115.5 694.0,1117.1 694.7,1113.3 695.4,1111.1 696.1,1111.2 696.8,1117.8 697.6,1112.1 698.6,1111.2 699.5,1112.7 700.5,1110.4 701.4,1116.9 702.4,1112.7 703.3,1119.4 704.3,1116.1 705.1,1112.6 706.0,1113.5 706.9,1114.9 707.7,1114.7 708.6,1122.0 709.4,1122.3 710.3,1120.4 711.0,1120.8 711.6,1124.5 712.3,1123.6 712.9,1125.1 713.6,1121.3 714.2,1127.7 714.9,1123.7 715.5,1129.3 716.2,1131.3 716.8,1124.2 717.5,1126.1 718.4,1126.6 719.4,1123.4 720.4,1127.3 721.4,1127.9 722.4,1130.0 723.3,1124.2 724.2,1122.5 725.1,1125.2 725.9,1126.3 726.8,1128.2 727.6,1130.5 728.5,1133.8 729.3,1127.4 730.0,1126.1 730.6,1132.2 731.2,1132.2 731.8,1129.6 732.5,1131.7 733.1,1122.8 733.7,1124.5 734.3,1122.2 734.8,1122.1 735.3,1124.6 735.8,1130.1 736.4,1125.9 736.9,1127.8 737.4,1125.6 737.9,1129.2 738.4,1128.4 738.9,1134.6 739.4,1135.9 740.0,1132.5 740.5,1137.5 741.0,1140.2 741.4,1137.9 741.8,1139.8 742.1,1134.3 742.5,1134.3 742.8,1133.1 743.2,1131.6 743.6,1132.9 743.9,1127.4 744.3,1127.1 744.6,1124.2 745.0,1126.1 745.4,1122.8 745.7,1125.3 746.1,1127.6 746.4,1121.5 746.8,1117.2 747.2,1124.3 747.8,1117.3 748.5,1121.1 749.1,1123.1 749.8,1118.2 750.4,1118.9 751.1,1116.1 751.7,1114.0 752.4,1114.9 753.0,1114.3 753.7,1113.0 754.3,1112.5 755.0,1109.6 755.8,1118.0 756.5,1114.3 757.2,1116.5 757.9,1120.8 758.6,1113.9 759.3,1116.9 760.0,1115.7 760.7,1120.5 761.4,1123.9 761.8,1125.4 762.2,1121.8 762.6,1119.6 763.1,1124.1 763.5,1128.1 763.9,1130.3 764.3,1129.3 764.7,1123.8 765.2,1131.6 765.6,1132.7 766.0,1135.5 766.4,1129.7 766.8,1129.6 767.3,1128.7 767.7,1129.3 768.1,1134.5 768.5,1135.9 769.2,1132.4 769.8,1135.0 770.5,1131.9 771.1,1127.8 771.7,1131.0 772.4,1132.7 773.0,1129.1 773.7,1125.8 774.3,1131.1 774.8,1127.8 775.2,1128.1 775.7,1126.7 776.1,1127.8 776.6,1126.5 777.0,1127.9 777.5,1123.4 777.9,1124.4 778.4,1119.1 778.8,1119.4 779.2,1119.1 779.6,1118.2 780.0,1123.6 780.3,1122.8 780.7,1120.3 781.1,1118.9 781.5,1122.5 781.8,1120.1 782.2,1123.7 782.6,1127.7 782.9,1129.7 783.3,1131.0 783.7,1127.5 784.1,1126.6 784.5,1123.9 785.0,1124.0 785.4,1130.9 785.9,1127.3 786.3,1129.0 786.8,1128.3 787.2,1123.0 787.7,1121.6 788.1,1124.6 788.6,1126.2 789.0,1125.4 789.5,1124.1 790.0,1115.8 790.8,1118.9 791.6,1117.7 792.5,1112.5 793.3,1119.8 794.1,1120.5 795.0,1118.3 795.8,1116.9 796.6,1110.3 797.6,1115.8 798.5,1111.4 799.5,1109.1 800.5,1109.1 801.5,1107.9 802.5,1111.6 803.5,1116.0 804.5,1117.4 805.4,1111.2 806.3,1115.7 807.1,1110.2 807.9,1115.1 808.8,1111.4 809.6,1117.6 810.4,1116.5 811.3,1121.6 812.1,1118.0 812.8,1117.5 813.3,1117.2 813.9,1123.0 814.5,1124.1 815.0,1123.9 815.6,1125.0 816.2,1126.0 816.8,1121.2 817.3,1128.4 817.9,1124.0 818.5,1125.8 819.1,1125.3 819.6,1128.1 820.2,1126.7 820.8,1128.3 821.4,1127.7 822.0,1128.0 822.6,1123.4 823.2,1122.2 823.8,1119.9 824.4,1121.6 825.0,1126.9 825.6,1118.8 826.2,1122.5 826.8,1122.4 827.4,1124.3 828.1,1117.2 829.0,1119.7 830.0,1116.2 830.9,1117.7 831.9,1125.2 832.8,1117.7 833.8,1125.4 834.7,1123.8 835.6,1125.9 836.5,1119.7 837.4,1124.9 838.3,1118.7 839.2,1118.7 840.1,1121.2 841.0,1121.1 841.9,1115.5 842.8,1114.7 843.8,1116.3 844.7,1116.9 845.6,1119.2 846.5,1122.7 847.5,1125.6 848.2,1122.5 848.7,1121.4 849.3,1127.6 849.8,1126.2 850.3,1129.4 850.9,1124.0 851.4,1125.9 851.9,1123.3 852.5,1130.0 853.0,1132.2 853.5,1126.3 854.1,1132.4 854.7,1128.8 855.3,1126.1 855.9,1131.8 856.5,1131.1 857.1,1128.7 857.7,1126.3 858.3,1120.6 858.9,1126.7 859.5,1127.4 860.1,1121.8 860.7,1116.6 861.3,1119.3 862.1,1117.9 862.9,1118.0 863.6,1120.0 864.4,1120.8 865.2,1115.7 865.9,1112.2 866.7,1112.4 867.5,1112.5 868.3,1111.6 869.1,1113.8 869.9,1114.0 870.8,1112.0 871.6,1112.7 872.4,1120.9 873.2,1123.0 874.1,1117.1 874.9,1116.3 875.7,1120.6 876.5,1116.4 877.3,1115.3 878.1,1114.4 878.9,1118.5 879.7,1120.4 880.6,1117.0 881.4,1111.2 882.3,1109.2 883.2,1114.9 884.1,1116.3 884.9,1112.0 885.7,1111.4 886.5,1108.0 887.3,1112.0 888.1,1111.6 889.0,1112.8 889.8,1115.1 890.6,1112.5 891.4,1113.3 892.2,1106.3 893.0,1111.6 893.7,1109.8 894.4,1105.9 895.1,1109.6 895.8,1110.9 896.5,1109.7 897.2,1111.4 897.9,1114.6 898.5,1115.3 898.9,1117.6 899.3,1118.2 899.7,1114.5 900.0,1116.8 900.4,1119.2 900.8,1120.6 901.1,1118.1 901.5,1117.6 901.9,1121.0 902.3,1120.8 902.6,1123.6 903.0,1128.8 903.4,1129.7 903.9,1124.3 904.4,1118.9 904.9,1125.1 905.4,1126.7 905.9,1120.6 906.3,1118.0 906.8,1115.1 907.3,1118.5 907.8,1117.0 908.3,1114.7 908.8,1116.7 909.3,1120.3 909.9,1121.8 910.5,1114.1 911.2,1114.7 911.8,1113.6 912.4,1121.4 913.0,1116.1 913.7,1120.9 914.2,1119.2 914.6,1117.2 915.1,1114.7 915.5,1115.5 916.0,1116.5 916.4,1115.7 916.9,1112.9 917.3,1116.7 917.7,1109.7 918.2,1111.9 918.6,1108.1 919.1,1112.2 919.5,1107.9 920.1,1105.2 920.8,1107.9 921.5,1105.2 922.2,1105.1 922.9,1108.0 923.6,1101.3 924.3,1104.6 925.0,1099.8 925.7,1099.4 926.3,1105.6 926.9,1106.7 927.5,1106.9 928.1,1103.8 928.6,1109.2 929.2,1110.9 929.8,1110.9 930.4,1110.8 931.0,1110.3 931.6,1114.6 932.4,1114.7 933.3,1108.9 934.2,1108.1 935.1,1113.5 935.9,1118.3 936.8,1119.3 937.7,1119.0 938.6,1114.2 939.6,1116.9 940.6,1113.7 941.6,1118.6 942.6,1112.7 943.5,1112.4 944.5,1109.5 945.5,1111.8 946.5,1116.6 947.4,1111.2 948.3,1115.5 949.3,1114.0 950.2,1117.1 951.1,1116.4 952.0,1115.4 952.8,1112.5 953.6,1112.0 954.4,1112.8 955.1,1122.3 955.9,1122.0 956.7,1116.5 957.5,1123.4 958.2,1124.4 959.0,1117.1 959.8,1115.4 960.6,1119.1 961.3,1119.9 962.1,1116.5 962.9,1114.8 963.6,1111.7 964.4,1112.0 965.1,1111.7 965.6,1117.7 966.0,1119.6 966.5,1117.2 967.0,1118.1 967.5,1122.0 968.0,1119.0 968.5,1120.1 969.0,1126.0 969.4,1123.0 969.9,1128.3 970.4,1127.6 970.9,1124.2 971.6,1127.5 972.3,1124.9 973.0,1125.4 973.8,1129.3 974.5,1125.3 975.2,1129.2 975.9,1135.4 976.6,1135.9 977.5,1135.4 978.5,1133.7 979.5,1133.0 980.4,1132.5 981.4,1135.6 982.4,1133.7 983.4,1132.2 984.3,1135.7 985.1,1134.8 985.9,1129.5 986.7,1135.0 987.5,1137.0 988.3,1134.3 989.1,1131.1 990.0,1130.3 990.8,1135.4 991.6,1136.0 992.4,1128.9 993.3,1129.0 994.1,1127.1 994.9,1128.5 995.8,1125.9 996.3,1126.9 996.8,1123.4 997.4,1128.4 997.9,1129.0 998.4,1126.2 999.0,1123.5 999.5,1125.7 1000.0,1127.1 1000.5,1118.4 1001.1,1116.7 1001.6,1114.6 1002.0,1118.5 1002.4,1113.3 1002.8,1112.7 1003.2,1111.6 1003.7,1112.9 1004.1,1114.1 1004.5,1118.1 1004.9,1110.2 1005.3,1114.0 1005.7,1112.1 1006.1,1113.9 1006.5,1110.3 1007.1,1110.7 1007.6,1107.3 1008.2,1105.2 1008.7,1104.0 1009.3,1106.2 1009.8,1109.1 1010.4,1101.8 1010.9,1106.7 1011.5,1102.7 1012.0,1104.1 1012.5,1105.7 1013.0,1099.2 1013.5,1106.8 1014.1,1106.0 1014.6,1109.7 1015.1,1104.7 1015.6,1108.8 1016.1,1107.9 1016.6,1108.1 1017.1,1109.8 1017.7,1107.7 1018.2,1113.4 1019.0,1115.8 1020.0,1112.4 1021.0,1110.1 1022.0,1105.9 1023.0,1113.3 1024.0,1114.1 1025.0,1114.2 1025.9,1106.8 1026.9,1107.8 1027.8,1110.6 1028.8,1111.2 1029.7,1113.1 1030.7,1104.9 1031.6,1106.2 1032.6,1102.8 1033.5,1110.1 1034.4,1109.1 1035.4,1102.8 1036.3,1108.2 1037.2,1102.7 1038.1,1103.5 1038.9,1107.9 1039.5,1102.8 1040.2,1103.4 1040.8,1110.0 1041.5,1105.4 1042.1,1106.8 1042.8,1106.1 1043.4,1108.7 1044.1,1112.4 1044.7,1109.4 1045.4,1112.6 1046.2,1115.5 1047.0,1112.1 1047.8,1114.3 1048.6,1119.9 1049.4,1118.8 1050.2,1121.8 1051.0,1120.8 1051.9,1122.0 1052.7,1117.0 1053.5,1120.1 1054.3,1121.6 1055.0,1122.1 1055.8,1121.9 1056.5,1116.3 1057.3,1115.1 1058.1,1118.6 1058.8,1112.9 1059.6,1110.3 1060.3,1111.7 1061.1,1114.1 1061.9,1116.2 1062.6,1110.2 1063.3,1109.3 1064.0,1109.5 1064.7,1114.2 1065.4,1111.2 1066.1,1105.5 1066.8,1103.0 1067.5,1105.6 1068.3,1107.2 1069.0,1106.3 1069.6,1103.0 1070.3,1105.1 1070.9,1110.2 1071.6,1107.2 1072.2,1107.1 1072.8,1111.9 1073.5,1110.8 1074.1,1114.6 1074.8,1109.6 1075.4,1113.0 1076.3,1112.1 1077.1,1109.9 1077.9,1113.6 1078.8,1114.7 1079.6,1106.6 1080.4,1109.7 1081.3,1109.0 1082.1,1112.4 1083.0,1104.7 1084.0,1108.8 1085.0,1110.4 1086.0,1108.3 1087.0,1110.5 1088.0,1105.2 1089.0,1106.3 1090.0,1106.8 1090.9,1109.7 1091.8,1107.7 1092.7,1106.0 1093.6,1106.9 1094.5,1109.8 1095.4,1114.1 1096.3,1111.0 1097.2,1111.9 1098.1,1114.0 1099.0,1110.5 1099.9,1110.2 1100.9,1112.0 1101.8,1116.1 1102.7,1113.8 1103.7,1110.9 1104.4,1111.6 1105.1,1107.3 1105.8,1109.1 1106.5,1113.9 1107.2,1108.1 1107.9,1106.4 1108.6,1105.6 1109.3,1104.8 1110.0,1109.8 1110.7,1108.5 1111.6,1102.6 1112.4,1108.8 1113.2,1109.1 1114.1,1104.2 1114.9,1107.5 1115.7,1107.7 1116.6,1107.3 1117.4,1106.3 1118.3,1111.8 1119.2,1111.9 1120.2,1115.5 1121.1,1107.9 1122.0,1114.5 1123.0,1113.6 1123.9,1112.8 1124.9,1114.7 1125.9,1115.0 1126.9,1112.9 1127.8,1115.8 1128.8,1111.6 1129.8,1116.1 1130.8,1111.4 1131.8,1111.0 1132.8,1115.5 1133.7,1109.2 1134.7,1109.8 1135.6,1112.7 1136.6,1115.3 1137.5,1109.6 1138.4,1110.4 1139.4,1106.0 1140.3,1105.6 1141.2,1108.7 1142.1,1111.2 1143.0,1109.3 1143.9,1105.9 1144.5,1108.9 1145.1,1105.6 1145.7,1105.9 1146.3,1107.7 1146.8,1106.5 1147.4,1107.7 1148.0,1108.6 1148.6,1112.4 1149.2,1118.0 1149.7,1115.6 1150.3,1115.4 1150.9,1115.1 1151.5,1116.5 1152.1,1114.1 1152.7,1110.7 1153.2,1107.7 1153.8,1110.7 1154.5,1105.5 1155.5,1110.2 1156.5,1108.2 1157.5,1104.7 1158.5,1107.3 1159.5,1110.8 1160.5,1108.8 1161.4,1104.0 1162.4,1108.7 1163.1,1112.8 1163.8,1108.5 1164.4,1107.4 1165.0,1114.5 1165.7,1112.6 1166.3,1110.4 1167.0,1111.8 1167.6,1109.0 1168.2,1116.0 1168.7,1118.2 1169.1,1117.9 1169.5,1115.5 1169.9,1107.8 1170.3,1106.2 1170.7,1110.0 1171.1,1106.3 1171.5,1109.7 1171.9,1103.8 1172.3,1109.5 1172.7,1106.5 1173.1,1104.8 1173.4,1099.4 1173.8,1105.7 1174.2,1106.6 1174.6,1098.9 1175.0,1095.8 1175.4,1094.7 1176.0,1099.1 1176.8,1101.1 1177.6,1098.3 1178.4,1101.2 1179.1,1097.5 1179.9,1105.4 1180.7,1107.3 1181.5,1106.6 1182.1,1105.7 1182.7,1103.5 1183.3,1105.4 1183.9,1105.7 1184.5,1110.8 1185.1,1107.5 1185.7,1112.8 1186.3,1111.3 1186.9,1109.1 1187.5,1111.1 1188.1,1110.5 1188.7,1107.7 1189.7,1113.0 1190.7,1117.2 1191.7,1110.5 1192.7,1115.0 1193.7,1118.6 1194.6,1116.8 1195.6,1117.7 1196.6,1112.8 1197.5,1115.7 1198.4,1117.3 1199.4,1118.7 1200.3,1114.6 1201.2,1114.7 1202.1,1117.4 1203.0,1116.5 1203.9,1112.8 1204.8,1114.7 1205.7,1117.1 1206.6,1118.7 1207.5,1114.2 1208.4,1111.4 1209.3,1109.5 1210.3,1112.6 1211.3,1116.9 1212.3,1112.3 1213.3,1112.8 1214.3,1114.6 1215.2,1111.7 1216.1,1116.3 1216.8,1111.8 1217.4,1118.3 1218.1,1118.7 1218.7,1115.7 1219.4,1113.9 1220.0,1120.0 1220.7,1119.4 1221.3,1122.8 1222.0,1125.7 1222.6,1120.4 1223.3,1123.8 1223.9,1123.3 1224.5,1117.4 1225.1,1115.5 1225.7,1120.9 1226.3,1120.1 1226.9,1118.0 1227.5,1115.8 1228.1,1115.8 1228.7,1112.0 1229.3,1112.1 1229.9,1115.5 1230.7,1112.6 1231.7,1108.0 1232.7,1106.8 1233.7,1110.7 1234.7,1111.1 1235.7,1113.3 1236.7,1111.3 1237.5,1108.5 1238.0,1109.9 1238.5,1107.6 1239.0,1113.8 1239.5,1110.7 1240.1,1104.2 1240.6,1110.9 1241.1,1108.4 1241.6,1101.8 1242.1,1102.0 1242.6,1098.9 1243.1,1101.8 1243.7,1103.8 1244.2,1102.7 1244.9,1102.8 1245.7,1104.0 1246.5,1100.8 1247.4,1104.9 1248.2,1101.7 1249.0,1103.7 1249.9,1103.5 1250.7,1103.9 1251.5,1102.2 1252.3,1109.3 1253.1,1102.9 1253.8,1103.8 1254.6,1108.8 1255.4,1111.2 1256.1,1107.4 1256.9,1106.7 1257.7,1110.5 1258.4,1106.7 1259.0,1114.7 1259.6,1109.0 1260.2,1116.1 1260.7,1117.4 1261.3,1119.2 1261.8,1121.3 1262.4,1116.0 1262.9,1121.5 1263.5,1124.3 1264.0,1121.3 1264.6,1117.9 1265.1,1120.1 1265.7,1121.4 1266.3,1117.5 1266.9,1121.3 1267.5,1116.4 1268.1,1117.0 1268.7,1113.1 1269.3,1120.3 1269.9,1114.5 1270.5,1113.7 1271.1,1111.8 1271.7,1114.5 1272.3,1116.1 1272.9,1116.5 1273.8,1114.9 1274.6,1112.9 1275.5,1115.4 1276.4,1107.4 1277.2,1109.3 1278.1,1110.3 1279.0,1110.2 1279.9,1113.1 1280.7,1109.0 1281.4,1110.4 1281.9,1109.7 1282.4,1110.0 1282.9,1114.7 1283.4,1108.7 1283.9,1111.9 1284.4,1109.6 1284.9,1114.4 1285.4,1111.6 1285.9,1115.2 1286.1,1115.9 1286.4,1114.3 1286.6,1118.9 1286.8,1117.5 1287.1,1122.0 1287.3,1118.1 1287.5,1119.6 1287.7,1126.6 1288.0,1128.4 1288.2,1124.3 1288.4,1124.5 1288.7,1123.7 1288.9,1129.9 1289.1,1129.1 1289.3,1129.2 1289.6,1135.5 1289.8,1138.3 1290.0,1137.7 1290.3,1139.9 1290.5,1133.4 1290.8,1138.5 1291.8,1136.3 1292.8,1132.1 1293.7,1132.8 1294.7,1138.2 1295.7,1137.9 1296.6,1134.7 1297.6,1133.4 1298.5,1137.5 1299.5,1131.0 1300.5,1137.9 1301.5,1134.4 1302.5,1137.9 1303.5,1138.9 1304.5,1135.1 1305.5,1130.0 1306.5,1133.7 1307.5,1137.0 1308.5,1135.2 1309.5,1137.6 1310.5,1135.5 1311.5,1139.1 1312.5,1139.7 1313.5,1133.0 1314.5,1130.1 1315.2,1132.6 1315.9,1131.6 1316.6,1129.3 1317.3,1129.4 1318.0,1125.6 1318.7,1131.0 1319.4,1125.0 1320.1,1129.4 1320.9,1128.7 1321.6,1129.2 1322.3,1124.1 1323.0,1123.4 1323.6,1127.9 1324.3,1129.4 1324.9,1133.2 1325.6,1128.7 1326.2,1131.9 1326.9,1131.6 1327.5,1133.2 1328.2,1132.2 1328.8,1133.4 1329.5,1133.9 1330.2,1131.2 1331.2,1130.5 1332.1,1134.7 1333.0,1138.6 1333.9,1138.7 1334.9,1137.8 1335.8,1132.9 1336.3,1138.8 1336.8,1135.0 1337.3,1130.0 1337.8,1127.6 1338.4,1135.0 1338.9,1128.3 1339.4,1133.7 1339.9,1128.8 1340.4,1132.1 1340.9,1126.8 1341.4,1129.0 1342.0,1128.4 1342.5,1122.9 1343.1,1127.0 1344.1,1128.6 1345.1,1120.9 1346.0,1120.7 1347.0,1127.7 1348.0,1122.3 1349.0,1126.1 1350.0,1123.2 1350.6,1119.5 1351.1,1125.6 1351.7,1122.8 1352.2,1125.1 1352.8,1121.0 1353.3,1120.0 1353.9,1120.6 1354.4,1119.1 1355.0,1115.7 1355.5,1114.4 1356.1,1117.5 1356.7,1114.2 1357.3,1108.2 1358.3,1112.9 1359.3,1114.2 1360.3,1114.5 1361.3,1115.7 1362.3,1116.0 1363.3,1110.3 1364.3,1116.5 1365.1,1114.1 1365.9,1118.3 1366.8,1115.0 1367.6,1116.4 1368.4,1116.5 1369.3,1120.6 1370.1,1115.9 1370.9,1118.7 1371.8,1116.9 1372.8,1121.5 1373.7,1119.5 1374.7,1120.0 1375.6,1121.4 1376.6,1115.3 1377.5,1115.8 1378.5,1116.1 1379.4,1116.1 1380.4,1120.1 1381.3,1114.9 1382.3,1121.9 1383.3,1123.6 1384.2,1122.7 1385.2,1115.5 1386.1,1116.7 1387.1,1121.9 1388.1,1122.8 1389.1,1121.7 1390.1,1116.3 1391.1,1118.7 1392.1,1121.9 1393.0,1123.0 1394.0,1117.1 1394.6,1117.9 1395.3,1117.5 1395.9,1116.5 1396.5,1122.4 1397.2,1126.8 1397.8,1122.3 1398.5,1125.3 1399.1,1120.9 1399.7,1121.0 1400.2,1123.8 1400.7,1122.4 1401.1,1130.5 1401.6,1128.4 1402.0,1133.3 1402.5,1131.5 1402.9,1133.8 1403.3,1136.2 1403.8,1134.2 1404.2,1139.3 1404.8,1133.3 1405.5,1129.7 1406.2,1132.6 1406.9,1128.8 1407.6,1129.3 1408.3,1131.7 1409.0,1127.8 1409.7,1125.9 1410.4,1126.5 1411.2,1126.2 1412.0,1128.2 1412.8,1126.4 1413.6,1134.7 1414.4,1137.6 1415.2,1138.3 1415.7,1132.9 1416.1,1138.4 1416.6,1139.0 1417.0,1135.8 1417.5,1138.9 1417.9,1140.0 1418.4,1139.8 1418.8,1137.1 1419.2,1140.8 1419.7,1144.2 1420.2,1141.4 1421.0,1143.4 1421.7,1145.1 1422.5,1140.9 1423.2,1135.7 1424.0,1135.6 1424.7,1137.9 1425.4,1133.5 1426.2,1132.0 1427.0,1132.5 1428.0,1139.2 1429.0,1138.3 1430.0,1141.2 1431.0,1142.1 1432.0,1142.0 1433.0,1138.2 1433.9,1139.2 1434.7,1136.3 1435.4,1135.3 1436.2,1130.6 1437.0,1135.4 1437.7,1138.6 1438.5,1132.2 1439.3,1132.4 1440.0,1129.3 1440.8,1134.3 1441.8,1134.8 1442.8,1132.3 1443.8,1130.6 1444.7,1131.5 1445.7,1132.4 1446.7,1135.7 1447.7,1127.3 1448.5,1131.9 1449.3,1127.8 1450.1,1131.0 1450.8,1124.9 1451.6,1124.7 1452.4,1127.5 1453.1,1129.9 1453.9,1124.9 1454.7,1126.7 1455.5,1126.0 1456.5,1124.9 1457.5,1127.2 1458.5,1121.4 1459.5,1123.0 1460.4,1125.7 1461.3,1124.1 1462.1,1125.1 1462.9,1124.8 1463.7,1125.2 1464.5,1118.2 1465.2,1120.1 1466.0,1119.3 1466.8,1121.3 1467.5,1117.3 1468.1,1121.3 1468.8,1119.8 1469.4,1119.0 1470.1,1122.4 1470.7,1125.8 1471.4,1121.6 1472.0,1123.7 1472.7,1127.6 1473.3,1127.5 1474.0,1125.1 1474.8,1125.9 1475.5,1130.1 1476.3,1125.4 1477.1,1131.9 1477.9,1126.1 1478.7,1131.6 1479.4,1136.3 1480.2,1129.6 1480.9,1134.3 1481.6,1126.3 1482.3,1125.1 1483.0,1132.4 1483.7,1129.4 1484.4,1123.5 1485.2,1122.2 1485.9,1121.9 1486.6,1119.9 1487.3,1126.0 1488.3,1122.8 1489.3,1120.6 1490.3,1125.4 1491.3,1119.6 1492.3,1120.5 1493.3,1118.4 1494.2,1124.4 1494.9,1125.1 1495.5,1121.2 1496.2,1122.4 1496.8,1123.2 1497.4,1130.4 1498.1,1124.2 1498.7,1130.9 1499.4,1128.9 1500.0,1128.0 1500.6,1131.0 1501.2,1132.0 1501.8,1128.8 1502.3,1127.9 1502.9,1126.6 1503.5,1128.6 1504.1,1129.6 1504.7,1126.2 1505.2,1126.2 1505.8,1118.7 1506.6,1121.3 1507.6,1119.7 1508.5,1123.7 1509.4,1124.5 1510.4,1127.0 1511.3,1126.7 1512.3,1121.0 1513.2,1127.4 1514.2,1127.4 1515.1,1125.3 1516.0,1124.2 1517.0,1123.0 1517.9,1123.3 1518.8,1126.9 1519.4,1122.9 1519.7,1128.8 1520.1,1121.3 1520.4,1120.1 1520.8,1117.4 1521.1,1123.4 1521.5,1124.3 1521.8,1118.6 1522.2,1117.6 1522.5,1115.2 1522.9,1119.3 1523.4,1112.5 1523.9,1115.9 1524.3,1114.4 1524.8,1111.1 1525.2,1112.5 1525.7,1113.8"/>
</g>
<g font-family='"Liberation Serif", "DejaVu Serif", serif' font-size="56.0" letter-spacing="-0.50" fill="#262626">
<text x="183.2" y="1251.0" text-anchor="middle">0</text>
<text x="451.2" y="1251.0" text-anchor="middle">1000</text>
<text x="719.2" y="1251.0" text-anchor="middle">2000</text>
<text x="987.2" y="1251.0" text-anchor="middle">3000</text>
<text x="1255.2" y="1251.0" text-anchor="middle">4000</text>
<text x="1523.2" y="1251.0" text-anchor="middle">5000</text>
<text x="162.5" y="51.3" text-anchor="end">0</text>
<text x="162.5" y="242.6" text-anchor="end">-5</text>
<text x="162.5" y="434.0" text-anchor="end">-10</text>
<text x="162.5" y="625.3" text-anchor="end">-15</text>
<text x="162.5" y="816.6" text-anchor="end">-20</text>
<text x="162.5" y="1008.0" text-anchor="end">-25</text>
<text x="162.5" y="1199.3" text-anchor="end">-30</text>
</g>
<g font-family='"Liberation Serif", "DejaVu Serif", serif' font-size="60.5" fill="#262626">
<text x="850.5" y="1323.2" text-anchor="middle">iteration(n)</text>
<text transform="translate(63,610) rotate(-90)" text-anchor="middle">MSD(dB)</text>
</g>
<rect x="423.0" y="174.0" width="538.0" height="437.0" fill="#ffffff"/>
<g clip-path="url(#ci)" fill="none" stroke-width="9.0">
<polyline stroke="#4DBEEE" points="655.2,98.4 657.3,114.4 659.4,130.4 661.6,146.5 663.7,162.5 665.8,178.5 668.0,194.6 670.1,210.6 672.2,226.6 674.4,242.7 676.5,258.7 678.6,274.7 680.8,290.8 682.9,306.8 685.0,322.8 687.2,338.9 689.3,354.9 691.4,370.9 693.6,387.0 695.7,403.0 697.8,419.0 700.0,435.0 702.1,451.1 704.5,467.1 706.9,483.1 709.2,499.2 711.6,515.2 714.0,531.2 716.3,547.3 718.7,563.3 721.1,579.3 723.4,595.4 725.8,611.4 728.0,627.4 730.2,643.5 732.4,659.5 734.7,675.5"/>
<polyline stroke="#00FF00" stroke-dasharray="24 23" points="659.2,98.4 661.4,114.4 663.5,130.4 665.7,146.5 667.9,162.5 670.0,178.5 672.2,194.6 674.3,210.6 676.5,226.6 678.7,242.7 680.8,258.7 683.0,274.7 685.2,290.8 687.3,306.8 689.5,322.8 691.7,338.9 693.8,354.9 696.0,370.9 698.2,387.0 700.3,403.0 702.5,419.0 704.7,435.0 706.9,451.1 709.3,467.1 711.7,483.1 714.1,499.2 716.5,515.2 718.9,531.2 721.3,547.3 723.7,563.3 726.1,579.3 728.5,595.4 730.8,611.4 733.1,627.4 735.4,643.5 737.6,659.5 739.9,675.5"/>
<polyline stroke="#FF99E6" points="665.4,98.4 667.5,114.4 669.7,130.4 671.8,146.5 673.9,162.5 676.1,178.5 678.2,194.6 680.3,210.6 682.5,226.6 684.6,242.7 686.7,258.7 688.9,274.7 691.0,290.8 693.1,306.8 695.3,322.8 697.4,338.9 699.5,354.9 701.7,370.9 703.8,387.0 705.7,403.0 707.6,419.0 709.5,435.0 711.5,451.1 713.6,467.1 715.8,483.1 717.9,499.2 720.1,515.2 722.2,531.2 724.4,547.3 726.5,563.3 728.7,579.3 730.8,595.4 732.9,611.4 734.6,627.4 736.4,643.5 738.1,659.5 739.8,675.5"/>
<polyline stroke="#FFFF00" stroke-dasharray="23.5 23.5" stroke-dashoffset="17.8" points="661.7,98.4 663.8,114.4 666.0,130.4 668.1,146.5 670.3,162.5 672.4,178.5 674.5,194.6 676.5,210.6 678.6,226.6 680.7,242.7 682.7,258.7 684.8,274.7 686.8,290.8 688.9,306.8 690.9,322.8 693.0,338.9 695.1,354.9 697.1,370.9 699.2,387.0 701.2,403.0 703.3,419.0 705.4,435.0 707.5,451.1 709.8,467.1 712.1,483.1 714.4,499.2 716.7,515.2 719.0,531.2 721.2,547.3 723.5,563.3 725.8,579.3 728.1,595.4 730.4,611.4 732.4,627.4 734.5,643.5 736.6,659.5 738.7,675.5"/>
<polyline stroke="#FFD700" points="655.0,88.2 702.7,446.9 726.4,607.2"/>
</g>
<g stroke="#262626" stroke-width="2" fill="none">
<rect x="423.0" y="174.0" width="538.0" height="437.0"/>
<path d="M476.0 611.0v-6.0M476.0 174.0v6.0M583.0 611.0v-6.0M583.0 174.0v6.0M691.0 611.0v-6.0M691.0 174.0v6.0M798.0 611.0v-6.0M798.0 174.0v6.0M906.0 611.0v-6.0M906.0 174.0v6.0M423.0 234.0h6.0M961.0 234.0h-6.0M423.0 311.0h6.0M961.0 311.0h-6.0M423.0 388.0h6.0M961.0 388.0h-6.0M423.0 464.0h6.0M961.0 464.0h-6.0M423.0 541.0h6.0M961.0 541.0h-6.0"/>
</g>
<g font-family='"Liberation Serif", "DejaVu Serif", serif' font-size="56.0" letter-spacing="-0.50" fill="#262626">
<text x="475.2" y="682.8" text-anchor="middle">-200</text>
<text x="582.2" y="682.8" text-anchor="middle">0</text>
<text x="690.2" y="682.8" text-anchor="middle">200</text>
<text x="797.2" y="682.8" text-anchor="middle">400</text>
<text x="905.2" y="682.8" text-anchor="middle">600</text>
<text x="400.5" y="255.0" text-anchor="end">-9</text>
<text x="400.5" y="332.0" text-anchor="end">-10</text>
<text x="400.5" y="409.0" text-anchor="end">-11</text>
<text x="400.5" y="485.0" text-anchor="end">-12</text>
<text x="400.5" y="562.0" text-anchor="end">-13</text>
</g>
<polygon fill="#0000FF" points="254.9,399.7 296.9,390.5 283.1,386.2 347.8,344.6 343.6,338.0 278.9,379.7 280.7,365.3"/>
<rect x="1008.0" y="68.0" width="479.0" height="311.0" fill="#ffffff" stroke="#262626" stroke-width="2"/>
<line x1="1019" y1="103.5" x2="1108" y2="103.5" stroke="#4DBEEE" stroke-width="7"/>
<line x1="1019" y1="163.5" x2="1108" y2="163.5" stroke="#00FF00" stroke-width="7" stroke-dasharray="24 23"/>
<line x1="1019" y1="223.5" x2="1108" y2="223.5" stroke="#FF99E6" stroke-width="7"/>
<line x1="1019" y1="283.5" x2="1108" y2="283.5" stroke="#FFFF00" stroke-width="7" stroke-dasharray="24 23"/>
<line x1="1019" y1="343.7" x2="1108" y2="343.7" stroke="#FFD700" stroke-width="7"/>
<g font-family='"Liberation Serif", "DejaVu Serif", serif' font-size="49.5" fill="#000000">
<text transform="translate(1115.2,120.7) scale(1,1.04)">MCC,</text>
<text transform="translate(1241.6,120.7) scale(1.16,0.96)" font-style="italic" stroke="#000000" stroke-width="0.7">σ</text>
<text transform="translate(1270.9,120.7) scale(1,1.04)">=0.2</text>
<text transform="translate(1115.2,180.7) scale(1,1.04)">MACC,</text>
<text transform="translate(1276.3,180.7) scale(1.16,0.96)" font-style="italic" stroke="#000000" stroke-width="0.7">σ</text>
<text transform="translate(1305.5,180.7) scale(1,1.04)">=0.1,0.2</text>
<text transform="translate(1115.9,240.7) scale(1,1.04)">GMACC,</text>
<text transform="translate(1312.7,240.7) scale(1.16,0.96)" font-style="italic" stroke="#000000" stroke-width="0.7">α</text>
<text transform="translate(1344.6,240.7) scale(1,1.04)">=1.5</text>
<text transform="translate(1115.9,300.7) scale(1,1.04)">GMACC,</text>
<text transform="translate(1312.7,300.7) scale(1.16,0.96)" font-style="italic" stroke="#000000" stroke-width="0.7">α</text>
<text transform="translate(1344.6,300.7) scale(1,1.04)">=1.8</text>
<text transform="translate(1115.9,360.9) scale(1,1.04)">GMACC,</text>
<text transform="translate(1312.7,360.9) scale(1.16,0.96)" font-style="italic" stroke="#000000" stroke-width="0.7">α</text>
<text transform="translate(1344.6,360.9) scale(1,1.04)">=2.25</text>
</g>
</svg>
</body></html>
